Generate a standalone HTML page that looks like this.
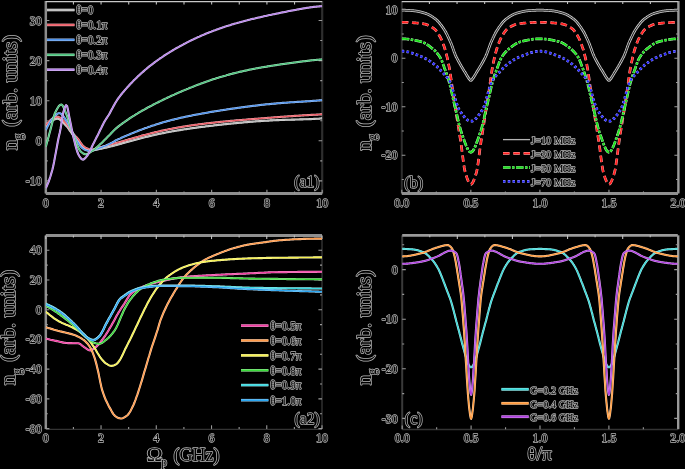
<!DOCTYPE html><html><head><meta charset="utf-8"><style>html,body{margin:0;padding:0;background:#000;overflow:hidden;}svg{display:block;will-change:transform;}text{font-family:"Liberation Serif", serif;fill:#000;stroke:#b8b8b8;stroke-width:1.45px;paint-order:stroke;stroke-linejoin:round;}</style></head><body>
<svg width="685" height="469" viewBox="0 0 685 469">
<rect width="685" height="469" fill="#000"/>
<clipPath id="ca1"><rect x="45.80" y="1.00" width="276.40" height="192.40"/></clipPath>
<clipPath id="cb"><rect x="401.80" y="1.00" width="276.20" height="192.40"/></clipPath>
<clipPath id="ca2"><rect x="45.80" y="235.50" width="276.20" height="193.40"/></clipPath>
<clipPath id="cc"><rect x="402.20" y="235.30" width="275.60" height="193.90"/></clipPath>
<path d="M45.80 1.00L45.80 193.40" stroke="#8c8c8c" stroke-width="2.50"/>
<path d="M322.20 1.00L322.20 193.40" stroke="#2e2e2e" stroke-width="2.20"/>
<path d="M45.80 1.60L322.20 1.60" stroke="#c8c8c8" stroke-width="1.20"/>
<path d="M45.80 193.50L322.20 193.50" stroke="#8f8f8f" stroke-width="2.80"/>
<path d="M45.80 193.40v-3.60" stroke="#9a9a9a" stroke-width="1.1"/>
<path d="M101.08 193.40v-3.60" stroke="#9a9a9a" stroke-width="1.1"/>
<path d="M156.36 193.40v-3.60" stroke="#9a9a9a" stroke-width="1.1"/>
<path d="M211.64 193.40v-3.60" stroke="#9a9a9a" stroke-width="1.1"/>
<path d="M266.92 193.40v-3.60" stroke="#9a9a9a" stroke-width="1.1"/>
<path d="M322.20 193.40v-3.60" stroke="#9a9a9a" stroke-width="1.1"/>
<path d="M73.44 193.40v-2.00" stroke="#9a9a9a" stroke-width="1.1"/>
<path d="M128.72 193.40v-2.00" stroke="#9a9a9a" stroke-width="1.1"/>
<path d="M184.00 193.40v-2.00" stroke="#9a9a9a" stroke-width="1.1"/>
<path d="M239.28 193.40v-2.00" stroke="#9a9a9a" stroke-width="1.1"/>
<path d="M294.56 193.40v-2.00" stroke="#9a9a9a" stroke-width="1.1"/>
<path d="M73.44 1.00v3.50" stroke="#c0c0c0" stroke-width="1.1"/>
<path d="M101.08 1.00v3.50" stroke="#c0c0c0" stroke-width="1.1"/>
<path d="M128.72 1.00v3.50" stroke="#c0c0c0" stroke-width="1.1"/>
<path d="M156.36 1.00v3.50" stroke="#c0c0c0" stroke-width="1.1"/>
<path d="M184.00 1.00v3.50" stroke="#c0c0c0" stroke-width="1.1"/>
<path d="M211.64 1.00v3.50" stroke="#c0c0c0" stroke-width="1.1"/>
<path d="M239.28 1.00v3.50" stroke="#c0c0c0" stroke-width="1.1"/>
<path d="M266.92 1.00v3.50" stroke="#c0c0c0" stroke-width="1.1"/>
<path d="M294.56 1.00v3.50" stroke="#c0c0c0" stroke-width="1.1"/>
<path d="M45.80 180.90h3.60M322.20 180.90h-3.60" stroke="#9a9a9a" stroke-width="1.1"/>
<path d="M45.80 140.80h3.60M322.20 140.80h-3.60" stroke="#9a9a9a" stroke-width="1.1"/>
<path d="M45.80 100.70h3.60M322.20 100.70h-3.60" stroke="#9a9a9a" stroke-width="1.1"/>
<path d="M45.80 60.60h3.60M322.20 60.60h-3.60" stroke="#9a9a9a" stroke-width="1.1"/>
<path d="M45.80 20.50h3.60M322.20 20.50h-3.60" stroke="#9a9a9a" stroke-width="1.1"/>
<path d="M45.80 160.85h2.00M322.20 160.85h-2.00" stroke="#9a9a9a" stroke-width="1.1"/>
<path d="M45.80 120.75h2.00M322.20 120.75h-2.00" stroke="#9a9a9a" stroke-width="1.1"/>
<path d="M45.80 80.65h2.00M322.20 80.65h-2.00" stroke="#9a9a9a" stroke-width="1.1"/>
<path d="M45.80 40.55h2.00M322.20 40.55h-2.00" stroke="#9a9a9a" stroke-width="1.1"/>
<path d="M45.8 126.4L46.7 125.3L47.6 124.2L48.6 123.3L49.5 122.5L50.4 121.7L51.3 121.1L52.3 120.6L53.2 120.1L54.1 119.6L55.0 119.2L56.0 118.9L56.9 118.8L57.8 118.8L58.7 119.0L59.7 119.4L60.6 120.1L61.5 120.8L62.4 121.7L63.4 122.7L64.3 123.7L65.2 124.7L66.1 125.7L67.1 126.7L68.0 127.9L68.9 129.2L69.8 130.6L70.8 131.9L71.7 133.3L72.6 134.5L73.5 135.7L74.5 136.7L75.4 137.7L76.3 138.7L77.2 139.7L78.2 140.8L79.1 141.9L80.0 143.1L80.9 144.4L81.9 145.6L82.8 146.4L83.7 147.2L84.6 147.9L85.5 148.4L86.5 148.8L87.4 149.3L88.3 149.7L89.2 150.0L90.2 150.3L91.1 150.4L92.0 150.4L92.9 150.3L93.9 150.2L94.8 150.0L95.7 149.8L96.6 149.6L97.6 149.4L98.5 149.2L99.4 149.0L100.3 148.8L101.3 148.6L102.2 148.4L103.1 148.2L104.0 148.0L105.0 147.8L105.9 147.6L106.8 147.4L107.7 147.2L108.7 147.0L109.6 146.8L110.5 146.5L111.4 146.3L112.4 146.1L113.3 145.8L114.2 145.6L115.1 145.3L116.1 145.1L117.0 144.8L117.9 144.6L118.8 144.3L119.8 144.1L120.7 143.8L121.6 143.6L122.5 143.3L123.5 143.0L124.4 142.8L125.3 142.5L126.2 142.3L127.1 142.0L128.1 141.8L129.0 141.5L129.9 141.2L130.8 141.0L131.8 140.7L132.7 140.5L133.6 140.2L134.5 140.0L135.5 139.7L136.4 139.5L137.3 139.2L138.2 139.0L139.2 138.7L140.1 138.5L141.0 138.2L141.9 138.0L142.9 137.7L143.8 137.5L144.7 137.3L145.6 137.0L146.6 136.8L147.5 136.6L148.4 136.4L149.3 136.1L150.3 135.9L151.2 135.7L152.1 135.5L153.0 135.3L154.0 135.1L154.9 134.8L155.8 134.6L156.7 134.4L157.7 134.2L158.6 134.0L159.5 133.8L160.4 133.6L161.4 133.5L162.3 133.3L163.2 133.1L164.1 132.9L165.0 132.7L166.0 132.5L166.9 132.3L167.8 132.2L168.7 132.0L169.7 131.8L170.6 131.7L171.5 131.5L172.4 131.3L173.4 131.2L174.3 131.0L175.2 130.8L176.1 130.7L177.1 130.5L178.0 130.4L178.9 130.2L179.8 130.1L180.8 129.9L181.7 129.8L182.6 129.6L183.5 129.5L184.5 129.3L185.4 129.2L186.3 129.1L187.2 128.9L188.2 128.8L189.1 128.7L190.0 128.5L190.9 128.4L191.9 128.3L192.8 128.1L193.7 128.0L194.6 127.9L195.6 127.7L196.5 127.6L197.4 127.5L198.3 127.4L199.3 127.3L200.2 127.1L201.1 127.0L202.0 126.9L203.0 126.8L203.9 126.7L204.8 126.6L205.7 126.4L206.6 126.3L207.6 126.2L208.5 126.1L209.4 126.0L210.3 125.9L211.3 125.8L212.2 125.7L213.1 125.6L214.0 125.4L215.0 125.3L215.9 125.2L216.8 125.1L217.7 125.0L218.7 124.9L219.6 124.8L220.5 124.7L221.4 124.6L222.4 124.5L223.3 124.4L224.2 124.3L225.1 124.2L226.1 124.1L227.0 124.0L227.9 123.9L228.8 123.8L229.8 123.7L230.7 123.6L231.6 123.5L232.5 123.5L233.5 123.4L234.4 123.3L235.3 123.2L236.2 123.1L237.2 123.0L238.1 122.9L239.0 122.8L239.9 122.7L240.9 122.6L241.8 122.6L242.7 122.5L243.6 122.4L244.5 122.3L245.5 122.2L246.4 122.2L247.3 122.1L248.2 122.0L249.2 121.9L250.1 121.8L251.0 121.8L251.9 121.7L252.9 121.6L253.8 121.5L254.7 121.5L255.6 121.4L256.6 121.3L257.5 121.3L258.4 121.2L259.3 121.1L260.3 121.1L261.2 121.0L262.1 120.9L263.0 120.9L264.0 120.8L264.9 120.8L265.8 120.7L266.7 120.7L267.7 120.6L268.6 120.6L269.5 120.5L270.4 120.4L271.4 120.4L272.3 120.4L273.2 120.3L274.1 120.3L275.1 120.2L276.0 120.2L276.9 120.1L277.8 120.1L278.8 120.1L279.7 120.0L280.6 120.0L281.5 120.0L282.5 119.9L283.4 119.9L284.3 119.9L285.2 119.8L286.1 119.8L287.1 119.8L288.0 119.7L288.9 119.7L289.8 119.7L290.8 119.7L291.7 119.6L292.6 119.6L293.5 119.6L294.5 119.6L295.4 119.5L296.3 119.5L297.2 119.5L298.2 119.5L299.1 119.5L300.0 119.4L300.9 119.4L301.9 119.4L302.8 119.4L303.7 119.3L304.6 119.3L305.6 119.3L306.5 119.2L307.4 119.2L308.3 119.2L309.3 119.1L310.2 119.1L311.1 119.1L312.0 119.0L313.0 119.0L313.9 118.9L314.8 118.9L315.7 118.8L316.7 118.8L317.6 118.7L318.5 118.7L319.4 118.6L320.4 118.5L321.3 118.4L322.2 118.3" fill="none" stroke="#e0e0e0" stroke-opacity="1" stroke-width="2.10" stroke-linejoin="round" clip-path="url(#ca1)"/>
<path d="M45.8 126.4L46.7 125.3L47.6 124.2L48.6 123.3L49.5 122.5L50.4 121.7L51.3 121.1L52.3 120.6L53.2 120.1L54.1 119.6L55.0 119.2L56.0 118.9L56.9 118.8L57.8 118.8L58.7 119.0L59.7 119.4L60.6 120.1L61.5 120.8L62.4 121.7L63.4 122.7L64.3 123.7L65.2 124.7L66.1 125.7L67.1 126.7L68.0 127.9L68.9 129.2L69.8 130.6L70.8 131.9L71.7 133.3L72.6 134.5L73.5 135.7L74.5 136.7L75.4 137.7L76.3 138.7L77.2 139.7L78.2 140.8L79.1 141.9L80.0 143.1L80.9 144.4L81.9 145.6L82.8 146.4L83.7 147.2L84.6 147.9L85.5 148.4L86.5 148.8L87.4 149.3L88.3 149.7L89.2 150.0L90.2 150.3L91.1 150.4L92.0 150.4L92.9 150.3L93.9 150.2L94.8 150.0L95.7 149.8L96.6 149.6L97.6 149.4L98.5 149.2L99.4 149.0L100.3 148.8L101.3 148.6L102.2 148.4L103.1 148.2L104.0 148.0L105.0 147.8L105.9 147.6L106.8 147.4L107.7 147.2L108.7 147.0L109.6 146.8L110.5 146.5L111.4 146.3L112.4 146.1L113.3 145.8L114.2 145.6L115.1 145.3L116.1 145.1L117.0 144.8L117.9 144.6L118.8 144.3L119.8 144.1L120.7 143.8L121.6 143.6L122.5 143.3L123.5 143.0L124.4 142.8L125.3 142.5L126.2 142.3L127.1 142.0L128.1 141.8L129.0 141.5L129.9 141.2L130.8 141.0L131.8 140.7L132.7 140.5L133.6 140.2L134.5 140.0L135.5 139.7L136.4 139.5L137.3 139.2L138.2 139.0L139.2 138.7L140.1 138.5L141.0 138.2L141.9 138.0L142.9 137.7L143.8 137.5L144.7 137.3L145.6 137.0L146.6 136.8L147.5 136.6L148.4 136.4L149.3 136.1L150.3 135.9L151.2 135.7L152.1 135.5L153.0 135.3L154.0 135.1L154.9 134.8L155.8 134.6L156.7 134.4L157.7 134.2L158.6 134.0L159.5 133.8L160.4 133.6L161.4 133.5L162.3 133.3L163.2 133.1L164.1 132.9L165.0 132.7L166.0 132.5L166.9 132.3L167.8 132.2L168.7 132.0L169.7 131.8L170.6 131.7L171.5 131.5L172.4 131.3L173.4 131.2L174.3 131.0L175.2 130.8L176.1 130.7L177.1 130.5L178.0 130.4L178.9 130.2L179.8 130.1L180.8 129.9L181.7 129.8L182.6 129.6L183.5 129.5L184.5 129.3L185.4 129.2L186.3 129.1L187.2 128.9L188.2 128.8L189.1 128.7L190.0 128.5L190.9 128.4L191.9 128.3L192.8 128.1L193.7 128.0L194.6 127.9L195.6 127.7L196.5 127.6L197.4 127.5L198.3 127.4L199.3 127.3L200.2 127.1L201.1 127.0L202.0 126.9L203.0 126.8L203.9 126.7L204.8 126.6L205.7 126.4L206.6 126.3L207.6 126.2L208.5 126.1L209.4 126.0L210.3 125.9L211.3 125.8L212.2 125.7L213.1 125.6L214.0 125.4L215.0 125.3L215.9 125.2L216.8 125.1L217.7 125.0L218.7 124.9L219.6 124.8L220.5 124.7L221.4 124.6L222.4 124.5L223.3 124.4L224.2 124.3L225.1 124.2L226.1 124.1L227.0 124.0L227.9 123.9L228.8 123.8L229.8 123.7L230.7 123.6L231.6 123.5L232.5 123.5L233.5 123.4L234.4 123.3L235.3 123.2L236.2 123.1L237.2 123.0L238.1 122.9L239.0 122.8L239.9 122.7L240.9 122.6L241.8 122.6L242.7 122.5L243.6 122.4L244.5 122.3L245.5 122.2L246.4 122.2L247.3 122.1L248.2 122.0L249.2 121.9L250.1 121.8L251.0 121.8L251.9 121.7L252.9 121.6L253.8 121.5L254.7 121.5L255.6 121.4L256.6 121.3L257.5 121.3L258.4 121.2L259.3 121.1L260.3 121.1L261.2 121.0L262.1 120.9L263.0 120.9L264.0 120.8L264.9 120.8L265.8 120.7L266.7 120.7L267.7 120.6L268.6 120.6L269.5 120.5L270.4 120.4L271.4 120.4L272.3 120.4L273.2 120.3L274.1 120.3L275.1 120.2L276.0 120.2L276.9 120.1L277.8 120.1L278.8 120.1L279.7 120.0L280.6 120.0L281.5 120.0L282.5 119.9L283.4 119.9L284.3 119.9L285.2 119.8L286.1 119.8L287.1 119.8L288.0 119.7L288.9 119.7L289.8 119.7L290.8 119.7L291.7 119.6L292.6 119.6L293.5 119.6L294.5 119.6L295.4 119.5L296.3 119.5L297.2 119.5L298.2 119.5L299.1 119.5L300.0 119.4L300.9 119.4L301.9 119.4L302.8 119.4L303.7 119.3L304.6 119.3L305.6 119.3L306.5 119.2L307.4 119.2L308.3 119.2L309.3 119.1L310.2 119.1L311.1 119.1L312.0 119.0L313.0 119.0L313.9 118.9L314.8 118.9L315.7 118.8L316.7 118.8L317.6 118.7L318.5 118.7L319.4 118.6L320.4 118.5L321.3 118.4L322.2 118.3" fill="none" stroke="#bcbcbc" stroke-width="1.20" stroke-linejoin="round" clip-path="url(#ca1)"/>
<path d="M45.8 125.4L46.7 124.2L47.6 123.0L48.6 122.0L49.5 121.0L50.4 120.2L51.3 119.5L52.3 118.9L53.2 118.4L54.1 117.8L55.0 117.4L56.0 117.0L56.9 116.9L57.8 116.8L58.7 117.1L59.7 117.5L60.6 118.1L61.5 118.9L62.4 119.7L63.4 120.7L64.3 121.7L65.2 122.7L66.1 123.7L67.1 124.7L68.0 125.9L68.9 127.3L69.8 128.8L70.8 130.2L71.7 131.6L72.6 132.9L73.5 134.1L74.5 135.1L75.4 136.1L76.3 137.1L77.2 138.0L78.2 139.1L79.1 140.3L80.0 141.7L80.9 143.2L81.9 144.6L82.8 145.5L83.7 146.3L84.6 147.0L85.5 147.6L86.5 148.1L87.4 148.5L88.3 148.9L89.2 149.2L90.2 149.5L91.1 149.6L92.0 149.6L92.9 149.5L93.9 149.2L94.8 149.0L95.7 148.7L96.6 148.3L97.6 148.0L98.5 147.8L99.4 147.5L100.3 147.3L101.3 147.0L102.2 146.8L103.1 146.5L104.0 146.3L105.0 146.0L105.9 145.8L106.8 145.5L107.7 145.3L108.7 145.0L109.6 144.8L110.5 144.5L111.4 144.3L112.4 144.0L113.3 143.8L114.2 143.5L115.1 143.3L116.1 143.0L117.0 142.8L117.9 142.5L118.8 142.3L119.8 142.0L120.7 141.8L121.6 141.5L122.5 141.2L123.5 141.0L124.4 140.7L125.3 140.4L126.2 140.1L127.1 139.9L128.1 139.6L129.0 139.3L129.9 139.0L130.8 138.8L131.8 138.5L132.7 138.2L133.6 138.0L134.5 137.7L135.5 137.4L136.4 137.2L137.3 136.9L138.2 136.7L139.2 136.4L140.1 136.2L141.0 135.9L141.9 135.6L142.9 135.4L143.8 135.1L144.7 134.9L145.6 134.7L146.6 134.4L147.5 134.2L148.4 133.9L149.3 133.7L150.3 133.5L151.2 133.2L152.1 133.0L153.0 132.8L154.0 132.6L154.9 132.3L155.8 132.1L156.7 131.9L157.7 131.7L158.6 131.5L159.5 131.3L160.4 131.1L161.4 130.8L162.3 130.6L163.2 130.4L164.1 130.2L165.0 130.0L166.0 129.9L166.9 129.7L167.8 129.5L168.7 129.3L169.7 129.1L170.6 128.9L171.5 128.7L172.4 128.6L173.4 128.4L174.3 128.2L175.2 128.0L176.1 127.9L177.1 127.7L178.0 127.5L178.9 127.4L179.8 127.2L180.8 127.1L181.7 126.9L182.6 126.8L183.5 126.6L184.5 126.5L185.4 126.3L186.3 126.2L187.2 126.0L188.2 125.9L189.1 125.7L190.0 125.6L190.9 125.5L191.9 125.3L192.8 125.2L193.7 125.1L194.6 124.9L195.6 124.8L196.5 124.7L197.4 124.6L198.3 124.4L199.3 124.3L200.2 124.2L201.1 124.1L202.0 124.0L203.0 123.9L203.9 123.7L204.8 123.6L205.7 123.5L206.6 123.4L207.6 123.3L208.5 123.2L209.4 123.1L210.3 123.0L211.3 122.9L212.2 122.8L213.1 122.7L214.0 122.6L215.0 122.5L215.9 122.4L216.8 122.3L217.7 122.2L218.7 122.1L219.6 122.0L220.5 121.9L221.4 121.8L222.4 121.7L223.3 121.6L224.2 121.5L225.1 121.5L226.1 121.4L227.0 121.3L227.9 121.2L228.8 121.1L229.8 121.0L230.7 120.9L231.6 120.9L232.5 120.8L233.5 120.7L234.4 120.6L235.3 120.5L236.2 120.4L237.2 120.4L238.1 120.3L239.0 120.2L239.9 120.1L240.9 120.0L241.8 120.0L242.7 119.9L243.6 119.8L244.5 119.7L245.5 119.7L246.4 119.6L247.3 119.5L248.2 119.4L249.2 119.4L250.1 119.3L251.0 119.2L251.9 119.1L252.9 119.0L253.8 119.0L254.7 118.9L255.6 118.8L256.6 118.8L257.5 118.7L258.4 118.6L259.3 118.5L260.3 118.5L261.2 118.4L262.1 118.3L263.0 118.2L264.0 118.2L264.9 118.1L265.8 118.0L266.7 118.0L267.7 117.9L268.6 117.8L269.5 117.7L270.4 117.7L271.4 117.6L272.3 117.5L273.2 117.5L274.1 117.4L275.1 117.3L276.0 117.3L276.9 117.2L277.8 117.1L278.8 117.0L279.7 117.0L280.6 116.9L281.5 116.8L282.5 116.8L283.4 116.7L284.3 116.6L285.2 116.6L286.1 116.5L287.1 116.5L288.0 116.4L288.9 116.3L289.8 116.3L290.8 116.2L291.7 116.1L292.6 116.1L293.5 116.0L294.5 115.9L295.4 115.9L296.3 115.8L297.2 115.8L298.2 115.7L299.1 115.6L300.0 115.6L300.9 115.5L301.9 115.5L302.8 115.4L303.7 115.4L304.6 115.3L305.6 115.2L306.5 115.2L307.4 115.1L308.3 115.1L309.3 115.0L310.2 115.0L311.1 114.9L312.0 114.9L313.0 114.8L313.9 114.8L314.8 114.7L315.7 114.7L316.7 114.6L317.6 114.6L318.5 114.5L319.4 114.5L320.4 114.4L321.3 114.4L322.2 114.3" fill="none" stroke="#f6b4b9" stroke-opacity="1" stroke-width="2.10" stroke-linejoin="round" clip-path="url(#ca1)"/>
<path d="M45.8 125.4L46.7 124.2L47.6 123.0L48.6 122.0L49.5 121.0L50.4 120.2L51.3 119.5L52.3 118.9L53.2 118.4L54.1 117.8L55.0 117.4L56.0 117.0L56.9 116.9L57.8 116.8L58.7 117.1L59.7 117.5L60.6 118.1L61.5 118.9L62.4 119.7L63.4 120.7L64.3 121.7L65.2 122.7L66.1 123.7L67.1 124.7L68.0 125.9L68.9 127.3L69.8 128.8L70.8 130.2L71.7 131.6L72.6 132.9L73.5 134.1L74.5 135.1L75.4 136.1L76.3 137.1L77.2 138.0L78.2 139.1L79.1 140.3L80.0 141.7L80.9 143.2L81.9 144.6L82.8 145.5L83.7 146.3L84.6 147.0L85.5 147.6L86.5 148.1L87.4 148.5L88.3 148.9L89.2 149.2L90.2 149.5L91.1 149.6L92.0 149.6L92.9 149.5L93.9 149.2L94.8 149.0L95.7 148.7L96.6 148.3L97.6 148.0L98.5 147.8L99.4 147.5L100.3 147.3L101.3 147.0L102.2 146.8L103.1 146.5L104.0 146.3L105.0 146.0L105.9 145.8L106.8 145.5L107.7 145.3L108.7 145.0L109.6 144.8L110.5 144.5L111.4 144.3L112.4 144.0L113.3 143.8L114.2 143.5L115.1 143.3L116.1 143.0L117.0 142.8L117.9 142.5L118.8 142.3L119.8 142.0L120.7 141.8L121.6 141.5L122.5 141.2L123.5 141.0L124.4 140.7L125.3 140.4L126.2 140.1L127.1 139.9L128.1 139.6L129.0 139.3L129.9 139.0L130.8 138.8L131.8 138.5L132.7 138.2L133.6 138.0L134.5 137.7L135.5 137.4L136.4 137.2L137.3 136.9L138.2 136.7L139.2 136.4L140.1 136.2L141.0 135.9L141.9 135.6L142.9 135.4L143.8 135.1L144.7 134.9L145.6 134.7L146.6 134.4L147.5 134.2L148.4 133.9L149.3 133.7L150.3 133.5L151.2 133.2L152.1 133.0L153.0 132.8L154.0 132.6L154.9 132.3L155.8 132.1L156.7 131.9L157.7 131.7L158.6 131.5L159.5 131.3L160.4 131.1L161.4 130.8L162.3 130.6L163.2 130.4L164.1 130.2L165.0 130.0L166.0 129.9L166.9 129.7L167.8 129.5L168.7 129.3L169.7 129.1L170.6 128.9L171.5 128.7L172.4 128.6L173.4 128.4L174.3 128.2L175.2 128.0L176.1 127.9L177.1 127.7L178.0 127.5L178.9 127.4L179.8 127.2L180.8 127.1L181.7 126.9L182.6 126.8L183.5 126.6L184.5 126.5L185.4 126.3L186.3 126.2L187.2 126.0L188.2 125.9L189.1 125.7L190.0 125.6L190.9 125.5L191.9 125.3L192.8 125.2L193.7 125.1L194.6 124.9L195.6 124.8L196.5 124.7L197.4 124.6L198.3 124.4L199.3 124.3L200.2 124.2L201.1 124.1L202.0 124.0L203.0 123.9L203.9 123.7L204.8 123.6L205.7 123.5L206.6 123.4L207.6 123.3L208.5 123.2L209.4 123.1L210.3 123.0L211.3 122.9L212.2 122.8L213.1 122.7L214.0 122.6L215.0 122.5L215.9 122.4L216.8 122.3L217.7 122.2L218.7 122.1L219.6 122.0L220.5 121.9L221.4 121.8L222.4 121.7L223.3 121.6L224.2 121.5L225.1 121.5L226.1 121.4L227.0 121.3L227.9 121.2L228.8 121.1L229.8 121.0L230.7 120.9L231.6 120.9L232.5 120.8L233.5 120.7L234.4 120.6L235.3 120.5L236.2 120.4L237.2 120.4L238.1 120.3L239.0 120.2L239.9 120.1L240.9 120.0L241.8 120.0L242.7 119.9L243.6 119.8L244.5 119.7L245.5 119.7L246.4 119.6L247.3 119.5L248.2 119.4L249.2 119.4L250.1 119.3L251.0 119.2L251.9 119.1L252.9 119.0L253.8 119.0L254.7 118.9L255.6 118.8L256.6 118.8L257.5 118.7L258.4 118.6L259.3 118.5L260.3 118.5L261.2 118.4L262.1 118.3L263.0 118.2L264.0 118.2L264.9 118.1L265.8 118.0L266.7 118.0L267.7 117.9L268.6 117.8L269.5 117.7L270.4 117.7L271.4 117.6L272.3 117.5L273.2 117.5L274.1 117.4L275.1 117.3L276.0 117.3L276.9 117.2L277.8 117.1L278.8 117.0L279.7 117.0L280.6 116.9L281.5 116.8L282.5 116.8L283.4 116.7L284.3 116.6L285.2 116.6L286.1 116.5L287.1 116.5L288.0 116.4L288.9 116.3L289.8 116.3L290.8 116.2L291.7 116.1L292.6 116.1L293.5 116.0L294.5 115.9L295.4 115.9L296.3 115.8L297.2 115.8L298.2 115.7L299.1 115.6L300.0 115.6L300.9 115.5L301.9 115.5L302.8 115.4L303.7 115.4L304.6 115.3L305.6 115.2L306.5 115.2L307.4 115.1L308.3 115.1L309.3 115.0L310.2 115.0L311.1 114.9L312.0 114.9L313.0 114.8L313.9 114.8L314.8 114.7L315.7 114.7L316.7 114.6L317.6 114.6L318.5 114.5L319.4 114.5L320.4 114.4L321.3 114.4L322.2 114.3" fill="none" stroke="#ec5a64" stroke-width="1.20" stroke-linejoin="round" clip-path="url(#ca1)"/>
<path d="M45.8 130.0L46.7 128.0L47.6 126.2L48.6 124.4L49.5 122.8L50.4 121.3L51.3 120.0L52.3 118.8L53.2 117.8L54.1 116.8L55.0 115.8L56.0 114.9L56.9 114.1L57.8 113.5L58.7 113.2L59.7 113.2L60.6 113.5L61.5 114.2L62.4 115.2L63.4 116.4L64.3 117.7L65.2 119.0L66.1 120.4L67.1 121.8L68.0 123.4L68.9 125.2L69.8 127.1L70.8 129.1L71.7 131.0L72.6 132.8L73.5 134.5L74.5 136.3L75.4 138.0L76.3 139.7L77.2 141.3L78.2 142.9L79.1 144.3L80.0 145.5L80.9 146.7L81.9 147.6L82.8 148.3L83.7 149.0L84.6 149.6L85.5 150.0L86.5 150.3L87.4 150.6L88.3 150.8L89.2 150.8L90.2 150.8L91.1 150.7L92.0 150.5L92.9 150.2L93.9 149.9L94.8 149.6L95.7 149.3L96.6 149.0L97.6 148.7L98.5 148.4L99.4 148.1L100.3 147.7L101.3 147.4L102.2 147.1L103.1 146.7L104.0 146.3L105.0 146.0L105.9 145.6L106.8 145.2L107.7 144.8L108.7 144.3L109.6 143.9L110.5 143.4L111.4 142.9L112.4 142.4L113.3 141.9L114.2 141.4L115.1 140.8L116.1 140.3L117.0 139.9L117.9 139.4L118.8 139.0L119.8 138.6L120.7 138.2L121.6 137.7L122.5 137.3L123.5 136.9L124.4 136.5L125.3 136.1L126.2 135.8L127.1 135.4L128.1 135.0L129.0 134.6L129.9 134.2L130.8 133.8L131.8 133.4L132.7 133.0L133.6 132.7L134.5 132.3L135.5 131.9L136.4 131.5L137.3 131.2L138.2 130.8L139.2 130.4L140.1 130.1L141.0 129.7L141.9 129.4L142.9 129.0L143.8 128.7L144.7 128.3L145.6 128.0L146.6 127.7L147.5 127.4L148.4 127.0L149.3 126.7L150.3 126.4L151.2 126.1L152.1 125.8L153.0 125.5L154.0 125.2L154.9 124.9L155.8 124.6L156.7 124.3L157.7 124.0L158.6 123.7L159.5 123.4L160.4 123.1L161.4 122.9L162.3 122.6L163.2 122.3L164.1 122.1L165.0 121.8L166.0 121.6L166.9 121.3L167.8 121.0L168.7 120.8L169.7 120.6L170.6 120.3L171.5 120.1L172.4 119.8L173.4 119.6L174.3 119.4L175.2 119.1L176.1 118.9L177.1 118.7L178.0 118.5L178.9 118.3L179.8 118.1L180.8 117.8L181.7 117.6L182.6 117.4L183.5 117.2L184.5 117.0L185.4 116.8L186.3 116.6L187.2 116.4L188.2 116.2L189.1 116.0L190.0 115.9L190.9 115.7L191.9 115.5L192.8 115.3L193.7 115.1L194.6 114.9L195.6 114.8L196.5 114.6L197.4 114.4L198.3 114.2L199.3 114.1L200.2 113.9L201.1 113.7L202.0 113.5L203.0 113.4L203.9 113.2L204.8 113.1L205.7 112.9L206.6 112.7L207.6 112.6L208.5 112.4L209.4 112.3L210.3 112.1L211.3 111.9L212.2 111.8L213.1 111.6L214.0 111.5L215.0 111.3L215.9 111.2L216.8 111.0L217.7 110.9L218.7 110.7L219.6 110.6L220.5 110.4L221.4 110.3L222.4 110.2L223.3 110.0L224.2 109.9L225.1 109.7L226.1 109.6L227.0 109.4L227.9 109.3L228.8 109.2L229.8 109.0L230.7 108.9L231.6 108.8L232.5 108.6L233.5 108.5L234.4 108.4L235.3 108.2L236.2 108.1L237.2 108.0L238.1 107.8L239.0 107.7L239.9 107.6L240.9 107.5L241.8 107.3L242.7 107.2L243.6 107.1L244.5 107.0L245.5 106.8L246.4 106.7L247.3 106.6L248.2 106.5L249.2 106.4L250.1 106.2L251.0 106.1L251.9 106.0L252.9 105.9L253.8 105.8L254.7 105.7L255.6 105.6L256.6 105.5L257.5 105.4L258.4 105.2L259.3 105.1L260.3 105.0L261.2 104.9L262.1 104.8L263.0 104.7L264.0 104.6L264.9 104.5L265.8 104.4L266.7 104.3L267.7 104.3L268.6 104.2L269.5 104.1L270.4 104.0L271.4 103.9L272.3 103.8L273.2 103.7L274.1 103.6L275.1 103.6L276.0 103.5L276.9 103.4L277.8 103.3L278.8 103.2L279.7 103.2L280.6 103.1L281.5 103.0L282.5 102.9L283.4 102.9L284.3 102.8L285.2 102.7L286.1 102.7L287.1 102.6L288.0 102.5L288.9 102.5L289.8 102.4L290.8 102.3L291.7 102.3L292.6 102.2L293.5 102.2L294.5 102.1L295.4 102.0L296.3 102.0L297.2 101.9L298.2 101.9L299.1 101.8L300.0 101.8L300.9 101.7L301.9 101.6L302.8 101.6L303.7 101.5L304.6 101.5L305.6 101.4L306.5 101.4L307.4 101.3L308.3 101.2L309.3 101.2L310.2 101.1L311.1 101.0L312.0 101.0L313.0 100.9L313.9 100.8L314.8 100.8L315.7 100.7L316.7 100.6L317.6 100.5L318.5 100.5L319.4 100.4L320.4 100.3L321.3 100.2L322.2 100.1" fill="none" stroke="#afcdf6" stroke-opacity="1" stroke-width="2.10" stroke-linejoin="round" clip-path="url(#ca1)"/>
<path d="M45.8 130.0L46.7 128.0L47.6 126.2L48.6 124.4L49.5 122.8L50.4 121.3L51.3 120.0L52.3 118.8L53.2 117.8L54.1 116.8L55.0 115.8L56.0 114.9L56.9 114.1L57.8 113.5L58.7 113.2L59.7 113.2L60.6 113.5L61.5 114.2L62.4 115.2L63.4 116.4L64.3 117.7L65.2 119.0L66.1 120.4L67.1 121.8L68.0 123.4L68.9 125.2L69.8 127.1L70.8 129.1L71.7 131.0L72.6 132.8L73.5 134.5L74.5 136.3L75.4 138.0L76.3 139.7L77.2 141.3L78.2 142.9L79.1 144.3L80.0 145.5L80.9 146.7L81.9 147.6L82.8 148.3L83.7 149.0L84.6 149.6L85.5 150.0L86.5 150.3L87.4 150.6L88.3 150.8L89.2 150.8L90.2 150.8L91.1 150.7L92.0 150.5L92.9 150.2L93.9 149.9L94.8 149.6L95.7 149.3L96.6 149.0L97.6 148.7L98.5 148.4L99.4 148.1L100.3 147.7L101.3 147.4L102.2 147.1L103.1 146.7L104.0 146.3L105.0 146.0L105.9 145.6L106.8 145.2L107.7 144.8L108.7 144.3L109.6 143.9L110.5 143.4L111.4 142.9L112.4 142.4L113.3 141.9L114.2 141.4L115.1 140.8L116.1 140.3L117.0 139.9L117.9 139.4L118.8 139.0L119.8 138.6L120.7 138.2L121.6 137.7L122.5 137.3L123.5 136.9L124.4 136.5L125.3 136.1L126.2 135.8L127.1 135.4L128.1 135.0L129.0 134.6L129.9 134.2L130.8 133.8L131.8 133.4L132.7 133.0L133.6 132.7L134.5 132.3L135.5 131.9L136.4 131.5L137.3 131.2L138.2 130.8L139.2 130.4L140.1 130.1L141.0 129.7L141.9 129.4L142.9 129.0L143.8 128.7L144.7 128.3L145.6 128.0L146.6 127.7L147.5 127.4L148.4 127.0L149.3 126.7L150.3 126.4L151.2 126.1L152.1 125.8L153.0 125.5L154.0 125.2L154.9 124.9L155.8 124.6L156.7 124.3L157.7 124.0L158.6 123.7L159.5 123.4L160.4 123.1L161.4 122.9L162.3 122.6L163.2 122.3L164.1 122.1L165.0 121.8L166.0 121.6L166.9 121.3L167.8 121.0L168.7 120.8L169.7 120.6L170.6 120.3L171.5 120.1L172.4 119.8L173.4 119.6L174.3 119.4L175.2 119.1L176.1 118.9L177.1 118.7L178.0 118.5L178.9 118.3L179.8 118.1L180.8 117.8L181.7 117.6L182.6 117.4L183.5 117.2L184.5 117.0L185.4 116.8L186.3 116.6L187.2 116.4L188.2 116.2L189.1 116.0L190.0 115.9L190.9 115.7L191.9 115.5L192.8 115.3L193.7 115.1L194.6 114.9L195.6 114.8L196.5 114.6L197.4 114.4L198.3 114.2L199.3 114.1L200.2 113.9L201.1 113.7L202.0 113.5L203.0 113.4L203.9 113.2L204.8 113.1L205.7 112.9L206.6 112.7L207.6 112.6L208.5 112.4L209.4 112.3L210.3 112.1L211.3 111.9L212.2 111.8L213.1 111.6L214.0 111.5L215.0 111.3L215.9 111.2L216.8 111.0L217.7 110.9L218.7 110.7L219.6 110.6L220.5 110.4L221.4 110.3L222.4 110.2L223.3 110.0L224.2 109.9L225.1 109.7L226.1 109.6L227.0 109.4L227.9 109.3L228.8 109.2L229.8 109.0L230.7 108.9L231.6 108.8L232.5 108.6L233.5 108.5L234.4 108.4L235.3 108.2L236.2 108.1L237.2 108.0L238.1 107.8L239.0 107.7L239.9 107.6L240.9 107.5L241.8 107.3L242.7 107.2L243.6 107.1L244.5 107.0L245.5 106.8L246.4 106.7L247.3 106.6L248.2 106.5L249.2 106.4L250.1 106.2L251.0 106.1L251.9 106.0L252.9 105.9L253.8 105.8L254.7 105.7L255.6 105.6L256.6 105.5L257.5 105.4L258.4 105.2L259.3 105.1L260.3 105.0L261.2 104.9L262.1 104.8L263.0 104.7L264.0 104.6L264.9 104.5L265.8 104.4L266.7 104.3L267.7 104.3L268.6 104.2L269.5 104.1L270.4 104.0L271.4 103.9L272.3 103.8L273.2 103.7L274.1 103.6L275.1 103.6L276.0 103.5L276.9 103.4L277.8 103.3L278.8 103.2L279.7 103.2L280.6 103.1L281.5 103.0L282.5 102.9L283.4 102.9L284.3 102.8L285.2 102.7L286.1 102.7L287.1 102.6L288.0 102.5L288.9 102.5L289.8 102.4L290.8 102.3L291.7 102.3L292.6 102.2L293.5 102.2L294.5 102.1L295.4 102.0L296.3 102.0L297.2 101.9L298.2 101.9L299.1 101.8L300.0 101.8L300.9 101.7L301.9 101.6L302.8 101.6L303.7 101.5L304.6 101.5L305.6 101.4L306.5 101.4L307.4 101.3L308.3 101.2L309.3 101.2L310.2 101.1L311.1 101.0L312.0 101.0L313.0 100.9L313.9 100.8L314.8 100.8L315.7 100.7L316.7 100.6L317.6 100.5L318.5 100.5L319.4 100.4L320.4 100.3L321.3 100.2L322.2 100.1" fill="none" stroke="#4e92ec" stroke-width="1.20" stroke-linejoin="round" clip-path="url(#ca1)"/>
<path d="M45.8 146.8L46.7 143.4L47.6 140.0L48.6 136.7L49.5 133.3L50.4 130.0L51.3 126.4L52.3 122.6L53.2 118.9L54.1 115.5L55.0 112.9L56.0 111.0L56.9 109.3L57.8 107.7L58.7 106.3L59.7 105.3L60.6 104.7L61.5 104.5L62.4 105.3L63.4 106.9L64.3 109.0L65.2 111.3L66.1 113.7L67.1 116.1L68.0 118.9L68.9 122.0L69.8 125.1L70.8 128.2L71.7 130.9L72.6 133.3L73.5 135.6L74.5 137.9L75.4 140.2L76.3 142.8L77.2 145.4L78.2 147.5L79.1 149.1L80.0 150.6L80.9 151.7L81.9 152.5L82.8 153.2L83.7 153.8L84.6 154.1L85.5 154.2L86.5 154.1L87.4 153.8L88.3 153.4L89.2 152.9L90.2 152.3L91.1 151.7L92.0 151.2L92.9 150.6L93.9 149.9L94.8 149.2L95.7 148.4L96.6 147.6L97.6 146.7L98.5 145.9L99.4 145.0L100.3 144.1L101.3 143.3L102.2 142.4L103.1 141.5L104.0 140.6L105.0 139.6L105.9 138.7L106.8 137.7L107.7 136.8L108.7 135.9L109.6 134.9L110.5 134.0L111.4 133.0L112.4 132.0L113.3 131.1L114.2 130.1L115.1 129.3L116.1 128.4L117.0 127.6L117.9 126.9L118.8 126.1L119.8 125.4L120.7 124.7L121.6 124.1L122.5 123.4L123.5 122.7L124.4 122.1L125.3 121.4L126.2 120.8L127.1 120.1L128.1 119.5L129.0 118.9L129.9 118.2L130.8 117.6L131.8 117.0L132.7 116.4L133.6 115.8L134.5 115.3L135.5 114.7L136.4 114.1L137.3 113.6L138.2 113.0L139.2 112.4L140.1 111.9L141.0 111.4L141.9 110.8L142.9 110.3L143.8 109.8L144.7 109.3L145.6 108.8L146.6 108.3L147.5 107.7L148.4 107.2L149.3 106.8L150.3 106.3L151.2 105.8L152.1 105.3L153.0 104.8L154.0 104.3L154.9 103.9L155.8 103.4L156.7 102.9L157.7 102.5L158.6 102.0L159.5 101.5L160.4 101.1L161.4 100.6L162.3 100.2L163.2 99.7L164.1 99.3L165.0 98.8L166.0 98.4L166.9 98.0L167.8 97.5L168.7 97.1L169.7 96.7L170.6 96.2L171.5 95.8L172.4 95.4L173.4 95.0L174.3 94.6L175.2 94.1L176.1 93.7L177.1 93.3L178.0 92.9L178.9 92.5L179.8 92.1L180.8 91.7L181.7 91.3L182.6 90.9L183.5 90.5L184.5 90.1L185.4 89.7L186.3 89.4L187.2 89.0L188.2 88.6L189.1 88.2L190.0 87.8L190.9 87.5L191.9 87.1L192.8 86.7L193.7 86.4L194.6 86.0L195.6 85.6L196.5 85.3L197.4 84.9L198.3 84.6L199.3 84.2L200.2 83.9L201.1 83.5L202.0 83.2L203.0 82.9L203.9 82.5L204.8 82.2L205.7 81.9L206.6 81.5L207.6 81.2L208.5 80.9L209.4 80.6L210.3 80.3L211.3 79.9L212.2 79.6L213.1 79.3L214.0 79.0L215.0 78.7L215.9 78.4L216.8 78.1L217.7 77.9L218.7 77.6L219.6 77.3L220.5 77.0L221.4 76.7L222.4 76.5L223.3 76.2L224.2 75.9L225.1 75.7L226.1 75.4L227.0 75.1L227.9 74.9L228.8 74.6L229.8 74.4L230.7 74.1L231.6 73.9L232.5 73.6L233.5 73.4L234.4 73.2L235.3 72.9L236.2 72.7L237.2 72.5L238.1 72.3L239.0 72.0L239.9 71.8L240.9 71.6L241.8 71.4L242.7 71.2L243.6 71.0L244.5 70.8L245.5 70.6L246.4 70.4L247.3 70.2L248.2 70.0L249.2 69.8L250.1 69.6L251.0 69.4L251.9 69.2L252.9 69.0L253.8 68.9L254.7 68.7L255.6 68.5L256.6 68.3L257.5 68.2L258.4 68.0L259.3 67.8L260.3 67.7L261.2 67.5L262.1 67.3L263.0 67.2L264.0 67.0L264.9 66.9L265.8 66.7L266.7 66.6L267.7 66.4L268.6 66.3L269.5 66.1L270.4 66.0L271.4 65.8L272.3 65.7L273.2 65.5L274.1 65.4L275.1 65.2L276.0 65.1L276.9 65.0L277.8 64.8L278.8 64.7L279.7 64.5L280.6 64.4L281.5 64.3L282.5 64.1L283.4 64.0L284.3 63.9L285.2 63.7L286.1 63.6L287.1 63.5L288.0 63.4L288.9 63.2L289.8 63.1L290.8 63.0L291.7 62.9L292.6 62.7L293.5 62.6L294.5 62.5L295.4 62.4L296.3 62.2L297.2 62.1L298.2 62.0L299.1 61.9L300.0 61.8L300.9 61.6L301.9 61.5L302.8 61.4L303.7 61.3L304.6 61.2L305.6 61.1L306.5 61.0L307.4 60.9L308.3 60.8L309.3 60.6L310.2 60.5L311.1 60.4L312.0 60.3L313.0 60.2L313.9 60.1L314.8 60.0L315.7 60.0L316.7 59.9L317.6 59.8L318.5 59.7L319.4 59.6L320.4 59.5L321.3 59.5L322.2 59.4" fill="none" stroke="#aee4c4" stroke-opacity="1" stroke-width="2.10" stroke-linejoin="round" clip-path="url(#ca1)"/>
<path d="M45.8 146.8L46.7 143.4L47.6 140.0L48.6 136.7L49.5 133.3L50.4 130.0L51.3 126.4L52.3 122.6L53.2 118.9L54.1 115.5L55.0 112.9L56.0 111.0L56.9 109.3L57.8 107.7L58.7 106.3L59.7 105.3L60.6 104.7L61.5 104.5L62.4 105.3L63.4 106.9L64.3 109.0L65.2 111.3L66.1 113.7L67.1 116.1L68.0 118.9L68.9 122.0L69.8 125.1L70.8 128.2L71.7 130.9L72.6 133.3L73.5 135.6L74.5 137.9L75.4 140.2L76.3 142.8L77.2 145.4L78.2 147.5L79.1 149.1L80.0 150.6L80.9 151.7L81.9 152.5L82.8 153.2L83.7 153.8L84.6 154.1L85.5 154.2L86.5 154.1L87.4 153.8L88.3 153.4L89.2 152.9L90.2 152.3L91.1 151.7L92.0 151.2L92.9 150.6L93.9 149.9L94.8 149.2L95.7 148.4L96.6 147.6L97.6 146.7L98.5 145.9L99.4 145.0L100.3 144.1L101.3 143.3L102.2 142.4L103.1 141.5L104.0 140.6L105.0 139.6L105.9 138.7L106.8 137.7L107.7 136.8L108.7 135.9L109.6 134.9L110.5 134.0L111.4 133.0L112.4 132.0L113.3 131.1L114.2 130.1L115.1 129.3L116.1 128.4L117.0 127.6L117.9 126.9L118.8 126.1L119.8 125.4L120.7 124.7L121.6 124.1L122.5 123.4L123.5 122.7L124.4 122.1L125.3 121.4L126.2 120.8L127.1 120.1L128.1 119.5L129.0 118.9L129.9 118.2L130.8 117.6L131.8 117.0L132.7 116.4L133.6 115.8L134.5 115.3L135.5 114.7L136.4 114.1L137.3 113.6L138.2 113.0L139.2 112.4L140.1 111.9L141.0 111.4L141.9 110.8L142.9 110.3L143.8 109.8L144.7 109.3L145.6 108.8L146.6 108.3L147.5 107.7L148.4 107.2L149.3 106.8L150.3 106.3L151.2 105.8L152.1 105.3L153.0 104.8L154.0 104.3L154.9 103.9L155.8 103.4L156.7 102.9L157.7 102.5L158.6 102.0L159.5 101.5L160.4 101.1L161.4 100.6L162.3 100.2L163.2 99.7L164.1 99.3L165.0 98.8L166.0 98.4L166.9 98.0L167.8 97.5L168.7 97.1L169.7 96.7L170.6 96.2L171.5 95.8L172.4 95.4L173.4 95.0L174.3 94.6L175.2 94.1L176.1 93.7L177.1 93.3L178.0 92.9L178.9 92.5L179.8 92.1L180.8 91.7L181.7 91.3L182.6 90.9L183.5 90.5L184.5 90.1L185.4 89.7L186.3 89.4L187.2 89.0L188.2 88.6L189.1 88.2L190.0 87.8L190.9 87.5L191.9 87.1L192.8 86.7L193.7 86.4L194.6 86.0L195.6 85.6L196.5 85.3L197.4 84.9L198.3 84.6L199.3 84.2L200.2 83.9L201.1 83.5L202.0 83.2L203.0 82.9L203.9 82.5L204.8 82.2L205.7 81.9L206.6 81.5L207.6 81.2L208.5 80.9L209.4 80.6L210.3 80.3L211.3 79.9L212.2 79.6L213.1 79.3L214.0 79.0L215.0 78.7L215.9 78.4L216.8 78.1L217.7 77.9L218.7 77.6L219.6 77.3L220.5 77.0L221.4 76.7L222.4 76.5L223.3 76.2L224.2 75.9L225.1 75.7L226.1 75.4L227.0 75.1L227.9 74.9L228.8 74.6L229.8 74.4L230.7 74.1L231.6 73.9L232.5 73.6L233.5 73.4L234.4 73.2L235.3 72.9L236.2 72.7L237.2 72.5L238.1 72.3L239.0 72.0L239.9 71.8L240.9 71.6L241.8 71.4L242.7 71.2L243.6 71.0L244.5 70.8L245.5 70.6L246.4 70.4L247.3 70.2L248.2 70.0L249.2 69.8L250.1 69.6L251.0 69.4L251.9 69.2L252.9 69.0L253.8 68.9L254.7 68.7L255.6 68.5L256.6 68.3L257.5 68.2L258.4 68.0L259.3 67.8L260.3 67.7L261.2 67.5L262.1 67.3L263.0 67.2L264.0 67.0L264.9 66.9L265.8 66.7L266.7 66.6L267.7 66.4L268.6 66.3L269.5 66.1L270.4 66.0L271.4 65.8L272.3 65.7L273.2 65.5L274.1 65.4L275.1 65.2L276.0 65.1L276.9 65.0L277.8 64.8L278.8 64.7L279.7 64.5L280.6 64.4L281.5 64.3L282.5 64.1L283.4 64.0L284.3 63.9L285.2 63.7L286.1 63.6L287.1 63.5L288.0 63.4L288.9 63.2L289.8 63.1L290.8 63.0L291.7 62.9L292.6 62.7L293.5 62.6L294.5 62.5L295.4 62.4L296.3 62.2L297.2 62.1L298.2 62.0L299.1 61.9L300.0 61.8L300.9 61.6L301.9 61.5L302.8 61.4L303.7 61.3L304.6 61.2L305.6 61.1L306.5 61.0L307.4 60.9L308.3 60.8L309.3 60.6L310.2 60.5L311.1 60.4L312.0 60.3L313.0 60.2L313.9 60.1L314.8 60.0L315.7 60.0L316.7 59.9L317.6 59.8L318.5 59.7L319.4 59.6L320.4 59.5L321.3 59.5L322.2 59.4" fill="none" stroke="#4cc47e" stroke-width="1.20" stroke-linejoin="round" clip-path="url(#ca1)"/>
<path d="M45.8 188.1L46.7 186.3L47.6 184.2L48.6 181.8L49.5 179.2L50.4 176.5L51.3 173.4L52.3 170.0L53.2 166.2L54.1 161.9L55.0 156.9L56.0 151.6L56.9 146.7L57.8 141.8L58.7 137.3L59.7 133.0L60.6 128.5L61.5 123.0L62.4 116.8L63.4 112.0L64.3 109.0L65.2 106.5L66.1 105.2L67.1 106.1L68.0 109.9L68.9 114.9L69.8 119.4L70.8 124.1L71.7 128.9L72.6 133.5L73.5 137.6L74.5 141.6L75.4 145.3L76.3 148.5L77.2 151.5L78.2 154.0L79.1 155.8L80.0 157.2L80.9 158.4L81.9 159.3L82.8 159.6L83.7 159.4L84.6 158.7L85.5 157.8L86.5 156.6L87.4 155.5L88.3 154.1L89.2 152.4L90.2 150.5L91.1 148.6L92.0 146.5L92.9 144.6L93.9 142.8L94.8 140.9L95.7 139.1L96.6 137.3L97.6 135.4L98.5 133.6L99.4 131.7L100.3 129.8L101.3 127.9L102.2 126.0L103.1 124.2L104.0 122.4L105.0 120.8L105.9 119.3L106.8 117.9L107.7 116.5L108.7 115.0L109.6 113.4L110.5 111.7L111.4 110.0L112.4 108.3L113.3 106.6L114.2 104.9L115.1 103.3L116.1 101.7L117.0 100.3L117.9 98.9L118.8 97.6L119.8 96.4L120.7 95.2L121.6 94.0L122.5 92.9L123.5 91.8L124.4 90.7L125.3 89.6L126.2 88.6L127.1 87.6L128.1 86.6L129.0 85.5L129.9 84.5L130.8 83.5L131.8 82.6L132.7 81.6L133.6 80.6L134.5 79.7L135.5 78.8L136.4 77.9L137.3 77.0L138.2 76.1L139.2 75.2L140.1 74.4L141.0 73.5L141.9 72.7L142.9 71.9L143.8 71.1L144.7 70.3L145.6 69.5L146.6 68.7L147.5 67.9L148.4 67.2L149.3 66.4L150.3 65.7L151.2 65.0L152.1 64.3L153.0 63.6L154.0 62.9L154.9 62.2L155.8 61.5L156.7 60.8L157.7 60.2L158.6 59.5L159.5 58.9L160.4 58.2L161.4 57.6L162.3 57.0L163.2 56.4L164.1 55.7L165.0 55.1L166.0 54.5L166.9 53.9L167.8 53.4L168.7 52.8L169.7 52.2L170.6 51.6L171.5 51.1L172.4 50.5L173.4 50.0L174.3 49.4L175.2 48.9L176.1 48.3L177.1 47.8L178.0 47.3L178.9 46.8L179.8 46.3L180.8 45.8L181.7 45.3L182.6 44.8L183.5 44.3L184.5 43.8L185.4 43.3L186.3 42.8L187.2 42.3L188.2 41.9L189.1 41.4L190.0 40.9L190.9 40.5L191.9 40.0L192.8 39.6L193.7 39.2L194.6 38.7L195.6 38.3L196.5 37.9L197.4 37.4L198.3 37.0L199.3 36.6L200.2 36.2L201.1 35.8L202.0 35.4L203.0 35.0L203.9 34.6L204.8 34.2L205.7 33.8L206.6 33.4L207.6 33.1L208.5 32.7L209.4 32.3L210.3 32.0L211.3 31.6L212.2 31.2L213.1 30.9L214.0 30.5L215.0 30.2L215.9 29.9L216.8 29.5L217.7 29.2L218.7 28.9L219.6 28.5L220.5 28.2L221.4 27.9L222.4 27.6L223.3 27.3L224.2 27.0L225.1 26.6L226.1 26.3L227.0 26.0L227.9 25.8L228.8 25.5L229.8 25.2L230.7 24.9L231.6 24.6L232.5 24.3L233.5 24.1L234.4 23.8L235.3 23.5L236.2 23.3L237.2 23.0L238.1 22.7L239.0 22.5L239.9 22.2L240.9 22.0L241.8 21.7L242.7 21.5L243.6 21.2L244.5 21.0L245.5 20.7L246.4 20.5L247.3 20.3L248.2 20.0L249.2 19.8L250.1 19.6L251.0 19.3L251.9 19.1L252.9 18.9L253.8 18.7L254.7 18.5L255.6 18.2L256.6 18.0L257.5 17.8L258.4 17.6L259.3 17.4L260.3 17.2L261.2 17.0L262.1 16.8L263.0 16.6L264.0 16.3L264.9 16.1L265.8 15.9L266.7 15.7L267.7 15.5L268.6 15.3L269.5 15.1L270.4 14.9L271.4 14.7L272.3 14.5L273.2 14.3L274.1 14.2L275.1 14.0L276.0 13.8L276.9 13.6L277.8 13.4L278.8 13.2L279.7 13.0L280.6 12.8L281.5 12.6L282.5 12.4L283.4 12.2L284.3 12.1L285.2 11.9L286.1 11.7L287.1 11.5L288.0 11.3L288.9 11.1L289.8 10.9L290.8 10.8L291.7 10.6L292.6 10.4L293.5 10.2L294.5 10.1L295.4 9.9L296.3 9.7L297.2 9.5L298.2 9.4L299.1 9.2L300.0 9.0L300.9 8.9L301.9 8.7L302.8 8.5L303.7 8.4L304.6 8.2L305.6 8.1L306.5 7.9L307.4 7.8L308.3 7.7L309.3 7.5L310.2 7.4L311.1 7.3L312.0 7.2L313.0 7.0L313.9 6.9L314.8 6.8L315.7 6.7L316.7 6.6L317.6 6.5L318.5 6.5L319.4 6.4L320.4 6.3L321.3 6.3L322.2 6.2" fill="none" stroke="#dec7f5" stroke-opacity="1" stroke-width="2.10" stroke-linejoin="round" clip-path="url(#ca1)"/>
<path d="M45.8 188.1L46.7 186.3L47.6 184.2L48.6 181.8L49.5 179.2L50.4 176.5L51.3 173.4L52.3 170.0L53.2 166.2L54.1 161.9L55.0 156.9L56.0 151.6L56.9 146.7L57.8 141.8L58.7 137.3L59.7 133.0L60.6 128.5L61.5 123.0L62.4 116.8L63.4 112.0L64.3 109.0L65.2 106.5L66.1 105.2L67.1 106.1L68.0 109.9L68.9 114.9L69.8 119.4L70.8 124.1L71.7 128.9L72.6 133.5L73.5 137.6L74.5 141.6L75.4 145.3L76.3 148.5L77.2 151.5L78.2 154.0L79.1 155.8L80.0 157.2L80.9 158.4L81.9 159.3L82.8 159.6L83.7 159.4L84.6 158.7L85.5 157.8L86.5 156.6L87.4 155.5L88.3 154.1L89.2 152.4L90.2 150.5L91.1 148.6L92.0 146.5L92.9 144.6L93.9 142.8L94.8 140.9L95.7 139.1L96.6 137.3L97.6 135.4L98.5 133.6L99.4 131.7L100.3 129.8L101.3 127.9L102.2 126.0L103.1 124.2L104.0 122.4L105.0 120.8L105.9 119.3L106.8 117.9L107.7 116.5L108.7 115.0L109.6 113.4L110.5 111.7L111.4 110.0L112.4 108.3L113.3 106.6L114.2 104.9L115.1 103.3L116.1 101.7L117.0 100.3L117.9 98.9L118.8 97.6L119.8 96.4L120.7 95.2L121.6 94.0L122.5 92.9L123.5 91.8L124.4 90.7L125.3 89.6L126.2 88.6L127.1 87.6L128.1 86.6L129.0 85.5L129.9 84.5L130.8 83.5L131.8 82.6L132.7 81.6L133.6 80.6L134.5 79.7L135.5 78.8L136.4 77.9L137.3 77.0L138.2 76.1L139.2 75.2L140.1 74.4L141.0 73.5L141.9 72.7L142.9 71.9L143.8 71.1L144.7 70.3L145.6 69.5L146.6 68.7L147.5 67.9L148.4 67.2L149.3 66.4L150.3 65.7L151.2 65.0L152.1 64.3L153.0 63.6L154.0 62.9L154.9 62.2L155.8 61.5L156.7 60.8L157.7 60.2L158.6 59.5L159.5 58.9L160.4 58.2L161.4 57.6L162.3 57.0L163.2 56.4L164.1 55.7L165.0 55.1L166.0 54.5L166.9 53.9L167.8 53.4L168.7 52.8L169.7 52.2L170.6 51.6L171.5 51.1L172.4 50.5L173.4 50.0L174.3 49.4L175.2 48.9L176.1 48.3L177.1 47.8L178.0 47.3L178.9 46.8L179.8 46.3L180.8 45.8L181.7 45.3L182.6 44.8L183.5 44.3L184.5 43.8L185.4 43.3L186.3 42.8L187.2 42.3L188.2 41.9L189.1 41.4L190.0 40.9L190.9 40.5L191.9 40.0L192.8 39.6L193.7 39.2L194.6 38.7L195.6 38.3L196.5 37.9L197.4 37.4L198.3 37.0L199.3 36.6L200.2 36.2L201.1 35.8L202.0 35.4L203.0 35.0L203.9 34.6L204.8 34.2L205.7 33.8L206.6 33.4L207.6 33.1L208.5 32.7L209.4 32.3L210.3 32.0L211.3 31.6L212.2 31.2L213.1 30.9L214.0 30.5L215.0 30.2L215.9 29.9L216.8 29.5L217.7 29.2L218.7 28.9L219.6 28.5L220.5 28.2L221.4 27.9L222.4 27.6L223.3 27.3L224.2 27.0L225.1 26.6L226.1 26.3L227.0 26.0L227.9 25.8L228.8 25.5L229.8 25.2L230.7 24.9L231.6 24.6L232.5 24.3L233.5 24.1L234.4 23.8L235.3 23.5L236.2 23.3L237.2 23.0L238.1 22.7L239.0 22.5L239.9 22.2L240.9 22.0L241.8 21.7L242.7 21.5L243.6 21.2L244.5 21.0L245.5 20.7L246.4 20.5L247.3 20.3L248.2 20.0L249.2 19.8L250.1 19.6L251.0 19.3L251.9 19.1L252.9 18.9L253.8 18.7L254.7 18.5L255.6 18.2L256.6 18.0L257.5 17.8L258.4 17.6L259.3 17.4L260.3 17.2L261.2 17.0L262.1 16.8L263.0 16.6L264.0 16.3L264.9 16.1L265.8 15.9L266.7 15.7L267.7 15.5L268.6 15.3L269.5 15.1L270.4 14.9L271.4 14.7L272.3 14.5L273.2 14.3L274.1 14.2L275.1 14.0L276.0 13.8L276.9 13.6L277.8 13.4L278.8 13.2L279.7 13.0L280.6 12.8L281.5 12.6L282.5 12.4L283.4 12.2L284.3 12.1L285.2 11.9L286.1 11.7L287.1 11.5L288.0 11.3L288.9 11.1L289.8 10.9L290.8 10.8L291.7 10.6L292.6 10.4L293.5 10.2L294.5 10.1L295.4 9.9L296.3 9.7L297.2 9.5L298.2 9.4L299.1 9.2L300.0 9.0L300.9 8.9L301.9 8.7L302.8 8.5L303.7 8.4L304.6 8.2L305.6 8.1L306.5 7.9L307.4 7.8L308.3 7.7L309.3 7.5L310.2 7.4L311.1 7.3L312.0 7.2L313.0 7.0L313.9 6.9L314.8 6.8L315.7 6.7L316.7 6.6L317.6 6.5L318.5 6.5L319.4 6.4L320.4 6.3L321.3 6.3L322.2 6.2" fill="none" stroke="#b784ea" stroke-width="1.20" stroke-linejoin="round" clip-path="url(#ca1)"/>
<path d="M47 10.00H74.5" fill="none" stroke="#e0e0e0" stroke-opacity="1" stroke-width="2.60" stroke-linejoin="round"/>
<path d="M47 10.00H74.5" fill="none" stroke="#bcbcbc" stroke-width="1.60" stroke-linejoin="round"/>
<text font-size="12.5" text-anchor="start" transform="translate(76.20 14.30) scale(0.89 1)">&#952;=0</text>
<path d="M47 24.90H74.5" fill="none" stroke="#f6b4b9" stroke-opacity="1" stroke-width="2.60" stroke-linejoin="round"/>
<path d="M47 24.90H74.5" fill="none" stroke="#ec5a64" stroke-width="1.60" stroke-linejoin="round"/>
<text font-size="12.5" text-anchor="start" transform="translate(76.20 29.20) scale(0.89 1)">&#952;=0.1&#960;</text>
<path d="M47 39.80H74.5" fill="none" stroke="#afcdf6" stroke-opacity="1" stroke-width="2.60" stroke-linejoin="round"/>
<path d="M47 39.80H74.5" fill="none" stroke="#4e92ec" stroke-width="1.60" stroke-linejoin="round"/>
<text font-size="12.5" text-anchor="start" transform="translate(76.20 44.10) scale(0.89 1)">&#952;=0.2&#960;</text>
<path d="M47 54.80H74.5" fill="none" stroke="#aee4c4" stroke-opacity="1" stroke-width="2.60" stroke-linejoin="round"/>
<path d="M47 54.80H74.5" fill="none" stroke="#4cc47e" stroke-width="1.60" stroke-linejoin="round"/>
<text font-size="12.5" text-anchor="start" transform="translate(76.20 59.10) scale(0.89 1)">&#952;=0.3&#960;</text>
<path d="M47 69.70H74.5" fill="none" stroke="#dec7f5" stroke-opacity="1" stroke-width="2.60" stroke-linejoin="round"/>
<path d="M47 69.70H74.5" fill="none" stroke="#b784ea" stroke-width="1.60" stroke-linejoin="round"/>
<text font-size="12.5" text-anchor="start" transform="translate(76.20 74.00) scale(0.89 1)">&#952;=0.4&#960;</text>
<text font-size="13" text-anchor="middle" transform="translate(45.80 207.30) scale(0.92 1)">0</text>
<text font-size="13" text-anchor="middle" transform="translate(101.08 207.30) scale(0.92 1)">2</text>
<text font-size="13" text-anchor="middle" transform="translate(156.36 207.30) scale(0.92 1)">4</text>
<text font-size="13" text-anchor="middle" transform="translate(211.64 207.30) scale(0.92 1)">6</text>
<text font-size="13" text-anchor="middle" transform="translate(266.92 207.30) scale(0.92 1)">8</text>
<text font-size="13" text-anchor="middle" transform="translate(322.20 207.30) scale(0.92 1)">10</text>
<text font-size="13" text-anchor="end" transform="translate(41.80 185.00) scale(0.92 1)">-10</text>
<text font-size="13" text-anchor="end" transform="translate(41.80 144.90) scale(0.92 1)">0</text>
<text font-size="13" text-anchor="end" transform="translate(41.80 104.80) scale(0.92 1)">10</text>
<text font-size="13" text-anchor="end" transform="translate(41.80 64.70) scale(0.92 1)">20</text>
<text font-size="13" text-anchor="end" transform="translate(41.80 24.60) scale(0.92 1)">30</text>
<text font-size="16.5" text-anchor="end" transform="translate(319.50 186.80) scale(0.95 1)">(a1)</text>
<g transform="translate(16.60 150.30) rotate(-90)">
<text font-size="21" x="0" y="0">n</text>
<text font-size="13" x="10.3" y="5.3">g</text>
<text font-size="21" x="23.5" y="0" transform="scale(1 1)">(arb. units)</text>
</g>
<path d="M401.80 1.00L401.80 193.40" stroke="#2e2e2e" stroke-width="2.00"/>
<path d="M678.40 1.00L678.40 193.40" stroke="#9a9a9a" stroke-width="2.40"/>
<path d="M401.80 1.60L678.00 1.60" stroke="#c8c8c8" stroke-width="1.20"/>
<path d="M401.80 193.50L678.00 193.50" stroke="#8f8f8f" stroke-width="2.80"/>
<path d="M401.80 193.40v-3.60" stroke="#9a9a9a" stroke-width="1.1"/>
<path d="M470.85 193.40v-3.60" stroke="#9a9a9a" stroke-width="1.1"/>
<path d="M539.90 193.40v-3.60" stroke="#9a9a9a" stroke-width="1.1"/>
<path d="M608.95 193.40v-3.60" stroke="#9a9a9a" stroke-width="1.1"/>
<path d="M678.00 193.40v-3.60" stroke="#9a9a9a" stroke-width="1.1"/>
<path d="M436.32 193.40v-2.00" stroke="#9a9a9a" stroke-width="1.1"/>
<path d="M505.38 193.40v-2.00" stroke="#9a9a9a" stroke-width="1.1"/>
<path d="M574.42 193.40v-2.00" stroke="#9a9a9a" stroke-width="1.1"/>
<path d="M643.48 193.40v-2.00" stroke="#9a9a9a" stroke-width="1.1"/>
<path d="M429.42 1.00v3.00" stroke="#c0c0c0" stroke-width="1.1"/>
<path d="M457.04 1.00v3.00" stroke="#c0c0c0" stroke-width="1.1"/>
<path d="M484.66 1.00v3.00" stroke="#c0c0c0" stroke-width="1.1"/>
<path d="M512.28 1.00v3.00" stroke="#c0c0c0" stroke-width="1.1"/>
<path d="M539.90 1.00v3.00" stroke="#c0c0c0" stroke-width="1.1"/>
<path d="M567.52 1.00v3.00" stroke="#c0c0c0" stroke-width="1.1"/>
<path d="M595.14 1.00v3.00" stroke="#c0c0c0" stroke-width="1.1"/>
<path d="M622.76 1.00v3.00" stroke="#c0c0c0" stroke-width="1.1"/>
<path d="M650.38 1.00v3.00" stroke="#c0c0c0" stroke-width="1.1"/>
<path d="M401.80 155.20h3.60M678.00 155.20h-3.60" stroke="#9a9a9a" stroke-width="1.1"/>
<path d="M401.80 106.70h3.60M678.00 106.70h-3.60" stroke="#9a9a9a" stroke-width="1.1"/>
<path d="M401.80 58.20h3.60M678.00 58.20h-3.60" stroke="#9a9a9a" stroke-width="1.1"/>
<path d="M401.80 9.70h3.60M678.00 9.70h-3.60" stroke="#9a9a9a" stroke-width="1.1"/>
<path d="M401.80 179.45h2.00M678.00 179.45h-2.00" stroke="#9a9a9a" stroke-width="1.1"/>
<path d="M401.80 130.95h2.00M678.00 130.95h-2.00" stroke="#9a9a9a" stroke-width="1.1"/>
<path d="M401.80 82.45h2.00M678.00 82.45h-2.00" stroke="#9a9a9a" stroke-width="1.1"/>
<path d="M401.80 33.95h2.00M678.00 33.95h-2.00" stroke="#9a9a9a" stroke-width="1.1"/>
<path d="M401.8 10.2L402.4 10.2L402.9 10.2L403.5 10.2L404.0 10.2L404.6 10.2L405.1 10.2L405.7 10.3L406.2 10.3L406.8 10.3L407.3 10.3L407.9 10.4L408.4 10.4L409.0 10.4L409.5 10.4L410.1 10.5L410.7 10.5L411.2 10.6L411.8 10.6L412.3 10.6L412.9 10.7L413.4 10.7L414.0 10.8L414.5 10.8L415.1 10.9L415.6 11.0L416.2 11.1L416.7 11.2L417.3 11.2L417.9 11.4L418.4 11.5L419.0 11.6L419.5 11.7L420.1 11.8L420.6 12.0L421.2 12.1L421.7 12.3L422.3 12.4L422.8 12.6L423.4 12.7L423.9 12.9L424.5 13.0L425.0 13.2L425.6 13.4L426.2 13.6L426.7 13.8L427.3 14.0L427.8 14.3L428.4 14.5L428.9 14.8L429.5 15.1L430.0 15.4L430.6 15.7L431.1 16.0L431.7 16.4L432.2 16.7L432.8 17.1L433.3 17.5L433.9 17.9L434.5 18.3L435.0 18.7L435.6 19.1L436.1 19.5L436.7 20.0L437.2 20.6L437.8 21.1L438.3 21.7L438.9 22.3L439.4 23.0L440.0 23.7L440.5 24.4L441.1 25.1L441.7 25.9L442.2 26.6L442.8 27.4L443.3 28.3L443.9 29.1L444.4 29.9L445.0 30.8L445.5 31.8L446.1 32.8L446.6 33.8L447.2 34.9L447.7 36.1L448.3 37.2L448.8 38.4L449.4 39.6L450.0 40.9L450.5 42.1L451.1 43.4L451.6 44.8L452.2 46.3L452.7 47.8L453.3 49.4L453.8 50.9L454.4 52.4L454.9 53.9L455.5 55.3L456.0 56.5L456.6 57.6L457.2 58.7L457.7 59.8L458.3 60.8L458.8 61.8L459.4 62.8L459.9 63.7L460.5 64.7L461.0 65.7L461.6 66.6L462.1 67.5L462.7 68.4L463.2 69.4L463.8 70.3L464.3 71.2L464.9 72.1L465.5 73.0L466.0 73.9L466.6 74.8L467.1 75.8L467.7 76.7L468.2 77.6L468.8 78.4L469.3 79.1L469.9 79.7L470.4 80.3L471.0 80.5L471.5 80.1L472.1 79.4L472.6 78.7L473.2 78.0L473.8 77.1L474.3 76.2L474.9 75.3L475.4 74.4L476.0 73.4L476.5 72.5L477.1 71.6L477.6 70.7L478.2 69.8L478.7 68.9L479.3 68.0L479.8 67.1L480.4 66.1L481.0 65.2L481.5 64.2L482.1 63.3L482.6 62.3L483.2 61.3L483.7 60.3L484.3 59.3L484.8 58.2L485.4 57.1L485.9 55.9L486.5 54.6L487.0 53.2L487.6 51.7L488.1 50.2L488.7 48.6L489.3 47.1L489.8 45.6L490.4 44.1L490.9 42.7L491.5 41.5L492.0 40.2L492.6 39.0L493.1 37.8L493.7 36.6L494.2 35.5L494.8 34.4L495.3 33.3L495.9 32.3L496.4 31.3L497.0 30.4L497.6 29.5L498.1 28.7L498.7 27.8L499.2 27.0L499.8 26.2L500.3 25.5L500.9 24.7L501.4 24.0L502.0 23.3L502.5 22.7L503.1 22.0L503.6 21.4L504.2 20.8L504.8 20.3L505.3 19.8L505.9 19.3L506.4 18.9L507.0 18.5L507.5 18.1L508.1 17.7L508.6 17.3L509.2 16.9L509.7 16.5L510.3 16.2L510.8 15.9L511.4 15.5L511.9 15.2L512.5 14.9L513.1 14.7L513.6 14.4L514.2 14.1L514.7 13.9L515.3 13.7L515.8 13.5L516.4 13.3L516.9 13.1L517.5 13.0L518.0 12.8L518.6 12.6L519.1 12.5L519.7 12.3L520.3 12.2L520.8 12.0L521.4 11.9L521.9 11.8L522.5 11.6L523.0 11.5L523.6 11.4L524.1 11.3L524.7 11.2L525.2 11.1L525.8 11.0L526.3 10.9L526.9 10.9L527.4 10.8L528.0 10.7L528.6 10.7L529.1 10.7L529.7 10.6L530.2 10.6L530.8 10.5L531.3 10.5L531.9 10.5L532.4 10.4L533.0 10.4L533.5 10.4L534.1 10.3L534.6 10.3L535.2 10.3L535.7 10.3L536.3 10.2L536.9 10.2L537.4 10.2L538.0 10.2L538.5 10.2L539.1 10.2L539.6 10.2L540.2 10.2L540.7 10.2L541.3 10.2L541.8 10.2L542.4 10.2L542.9 10.2L543.5 10.2L544.1 10.3L544.6 10.3L545.2 10.3L545.7 10.3L546.3 10.4L546.8 10.4L547.4 10.4L547.9 10.5L548.5 10.5L549.0 10.5L549.6 10.6L550.1 10.6L550.7 10.7L551.2 10.7L551.8 10.7L552.4 10.8L552.9 10.9L553.5 10.9L554.0 11.0L554.6 11.1L555.1 11.2L555.7 11.3L556.2 11.4L556.8 11.5L557.3 11.6L557.9 11.8L558.4 11.9L559.0 12.0L559.5 12.2L560.1 12.3L560.7 12.5L561.2 12.6L561.8 12.8L562.3 13.0L562.9 13.1L563.4 13.3L564.0 13.5L564.5 13.7L565.1 13.9L565.6 14.1L566.2 14.4L566.7 14.7L567.3 14.9L567.9 15.2L568.4 15.5L569.0 15.9L569.5 16.2L570.1 16.5L570.6 16.9L571.2 17.3L571.7 17.7L572.3 18.1L572.8 18.5L573.4 18.9L573.9 19.3L574.5 19.8L575.0 20.3L575.6 20.8L576.2 21.4L576.7 22.0L577.3 22.7L577.8 23.3L578.4 24.0L578.9 24.7L579.5 25.5L580.0 26.2L580.6 27.0L581.1 27.8L581.7 28.7L582.2 29.5L582.8 30.4L583.4 31.3L583.9 32.3L584.5 33.3L585.0 34.4L585.6 35.5L586.1 36.6L586.7 37.8L587.2 39.0L587.8 40.2L588.3 41.5L588.9 42.7L589.4 44.1L590.0 45.6L590.5 47.1L591.1 48.6L591.7 50.2L592.2 51.7L592.8 53.2L593.3 54.6L593.9 55.9L594.4 57.1L595.0 58.2L595.5 59.3L596.1 60.3L596.6 61.3L597.2 62.3L597.7 63.3L598.3 64.2L598.8 65.2L599.4 66.1L600.0 67.1L600.5 68.0L601.1 68.9L601.6 69.8L602.2 70.7L602.7 71.6L603.3 72.5L603.8 73.4L604.4 74.4L604.9 75.3L605.5 76.2L606.0 77.1L606.6 78.0L607.2 78.7L607.7 79.4L608.3 80.1L608.8 80.5L609.4 80.3L609.9 79.7L610.5 79.1L611.0 78.4L611.6 77.6L612.1 76.7L612.7 75.8L613.2 74.8L613.8 73.9L614.3 73.0L614.9 72.1L615.5 71.2L616.0 70.3L616.6 69.4L617.1 68.4L617.7 67.5L618.2 66.6L618.8 65.7L619.3 64.7L619.9 63.7L620.4 62.8L621.0 61.8L621.5 60.8L622.1 59.8L622.6 58.7L623.2 57.6L623.8 56.5L624.3 55.3L624.9 53.9L625.4 52.4L626.0 50.9L626.5 49.4L627.1 47.8L627.6 46.3L628.2 44.8L628.7 43.4L629.3 42.1L629.8 40.9L630.4 39.6L631.0 38.4L631.5 37.2L632.1 36.1L632.6 34.9L633.2 33.8L633.7 32.8L634.3 31.8L634.8 30.8L635.4 29.9L635.9 29.1L636.5 28.3L637.0 27.4L637.6 26.6L638.1 25.9L638.7 25.1L639.3 24.4L639.8 23.7L640.4 23.0L640.9 22.3L641.5 21.7L642.0 21.1L642.6 20.6L643.1 20.0L643.7 19.5L644.2 19.1L644.8 18.7L645.3 18.3L645.9 17.9L646.5 17.5L647.0 17.1L647.6 16.7L648.1 16.4L648.7 16.0L649.2 15.7L649.8 15.4L650.3 15.1L650.9 14.8L651.4 14.5L652.0 14.3L652.5 14.0L653.1 13.8L653.6 13.6L654.2 13.4L654.8 13.2L655.3 13.0L655.9 12.9L656.4 12.7L657.0 12.6L657.5 12.4L658.1 12.3L658.6 12.1L659.2 12.0L659.7 11.8L660.3 11.7L660.8 11.6L661.4 11.5L661.9 11.4L662.5 11.2L663.1 11.2L663.6 11.1L664.2 11.0L664.7 10.9L665.3 10.8L665.8 10.8L666.4 10.7L666.9 10.7L667.5 10.6L668.0 10.6L668.6 10.6L669.1 10.5L669.7 10.5L670.3 10.4L670.8 10.4L671.4 10.4L671.9 10.4L672.5 10.3L673.0 10.3L673.6 10.3L674.1 10.3L674.7 10.2L675.2 10.2L675.8 10.2L676.3 10.2L676.9 10.2L677.4 10.2L678.0 10.2" fill="none" stroke="#c8c8c8" stroke-opacity="1" stroke-width="2.70" stroke-linejoin="round" clip-path="url(#cb)"/>
<path d="M401.8 10.2L402.4 10.2L402.9 10.2L403.5 10.2L404.0 10.2L404.6 10.2L405.1 10.2L405.7 10.3L406.2 10.3L406.8 10.3L407.3 10.3L407.9 10.4L408.4 10.4L409.0 10.4L409.5 10.4L410.1 10.5L410.7 10.5L411.2 10.6L411.8 10.6L412.3 10.6L412.9 10.7L413.4 10.7L414.0 10.8L414.5 10.8L415.1 10.9L415.6 11.0L416.2 11.1L416.7 11.2L417.3 11.2L417.9 11.4L418.4 11.5L419.0 11.6L419.5 11.7L420.1 11.8L420.6 12.0L421.2 12.1L421.7 12.3L422.3 12.4L422.8 12.6L423.4 12.7L423.9 12.9L424.5 13.0L425.0 13.2L425.6 13.4L426.2 13.6L426.7 13.8L427.3 14.0L427.8 14.3L428.4 14.5L428.9 14.8L429.5 15.1L430.0 15.4L430.6 15.7L431.1 16.0L431.7 16.4L432.2 16.7L432.8 17.1L433.3 17.5L433.9 17.9L434.5 18.3L435.0 18.7L435.6 19.1L436.1 19.5L436.7 20.0L437.2 20.6L437.8 21.1L438.3 21.7L438.9 22.3L439.4 23.0L440.0 23.7L440.5 24.4L441.1 25.1L441.7 25.9L442.2 26.6L442.8 27.4L443.3 28.3L443.9 29.1L444.4 29.9L445.0 30.8L445.5 31.8L446.1 32.8L446.6 33.8L447.2 34.9L447.7 36.1L448.3 37.2L448.8 38.4L449.4 39.6L450.0 40.9L450.5 42.1L451.1 43.4L451.6 44.8L452.2 46.3L452.7 47.8L453.3 49.4L453.8 50.9L454.4 52.4L454.9 53.9L455.5 55.3L456.0 56.5L456.6 57.6L457.2 58.7L457.7 59.8L458.3 60.8L458.8 61.8L459.4 62.8L459.9 63.7L460.5 64.7L461.0 65.7L461.6 66.6L462.1 67.5L462.7 68.4L463.2 69.4L463.8 70.3L464.3 71.2L464.9 72.1L465.5 73.0L466.0 73.9L466.6 74.8L467.1 75.8L467.7 76.7L468.2 77.6L468.8 78.4L469.3 79.1L469.9 79.7L470.4 80.3L471.0 80.5L471.5 80.1L472.1 79.4L472.6 78.7L473.2 78.0L473.8 77.1L474.3 76.2L474.9 75.3L475.4 74.4L476.0 73.4L476.5 72.5L477.1 71.6L477.6 70.7L478.2 69.8L478.7 68.9L479.3 68.0L479.8 67.1L480.4 66.1L481.0 65.2L481.5 64.2L482.1 63.3L482.6 62.3L483.2 61.3L483.7 60.3L484.3 59.3L484.8 58.2L485.4 57.1L485.9 55.9L486.5 54.6L487.0 53.2L487.6 51.7L488.1 50.2L488.7 48.6L489.3 47.1L489.8 45.6L490.4 44.1L490.9 42.7L491.5 41.5L492.0 40.2L492.6 39.0L493.1 37.8L493.7 36.6L494.2 35.5L494.8 34.4L495.3 33.3L495.9 32.3L496.4 31.3L497.0 30.4L497.6 29.5L498.1 28.7L498.7 27.8L499.2 27.0L499.8 26.2L500.3 25.5L500.9 24.7L501.4 24.0L502.0 23.3L502.5 22.7L503.1 22.0L503.6 21.4L504.2 20.8L504.8 20.3L505.3 19.8L505.9 19.3L506.4 18.9L507.0 18.5L507.5 18.1L508.1 17.7L508.6 17.3L509.2 16.9L509.7 16.5L510.3 16.2L510.8 15.9L511.4 15.5L511.9 15.2L512.5 14.9L513.1 14.7L513.6 14.4L514.2 14.1L514.7 13.9L515.3 13.7L515.8 13.5L516.4 13.3L516.9 13.1L517.5 13.0L518.0 12.8L518.6 12.6L519.1 12.5L519.7 12.3L520.3 12.2L520.8 12.0L521.4 11.9L521.9 11.8L522.5 11.6L523.0 11.5L523.6 11.4L524.1 11.3L524.7 11.2L525.2 11.1L525.8 11.0L526.3 10.9L526.9 10.9L527.4 10.8L528.0 10.7L528.6 10.7L529.1 10.7L529.7 10.6L530.2 10.6L530.8 10.5L531.3 10.5L531.9 10.5L532.4 10.4L533.0 10.4L533.5 10.4L534.1 10.3L534.6 10.3L535.2 10.3L535.7 10.3L536.3 10.2L536.9 10.2L537.4 10.2L538.0 10.2L538.5 10.2L539.1 10.2L539.6 10.2L540.2 10.2L540.7 10.2L541.3 10.2L541.8 10.2L542.4 10.2L542.9 10.2L543.5 10.2L544.1 10.3L544.6 10.3L545.2 10.3L545.7 10.3L546.3 10.4L546.8 10.4L547.4 10.4L547.9 10.5L548.5 10.5L549.0 10.5L549.6 10.6L550.1 10.6L550.7 10.7L551.2 10.7L551.8 10.7L552.4 10.8L552.9 10.9L553.5 10.9L554.0 11.0L554.6 11.1L555.1 11.2L555.7 11.3L556.2 11.4L556.8 11.5L557.3 11.6L557.9 11.8L558.4 11.9L559.0 12.0L559.5 12.2L560.1 12.3L560.7 12.5L561.2 12.6L561.8 12.8L562.3 13.0L562.9 13.1L563.4 13.3L564.0 13.5L564.5 13.7L565.1 13.9L565.6 14.1L566.2 14.4L566.7 14.7L567.3 14.9L567.9 15.2L568.4 15.5L569.0 15.9L569.5 16.2L570.1 16.5L570.6 16.9L571.2 17.3L571.7 17.7L572.3 18.1L572.8 18.5L573.4 18.9L573.9 19.3L574.5 19.8L575.0 20.3L575.6 20.8L576.2 21.4L576.7 22.0L577.3 22.7L577.8 23.3L578.4 24.0L578.9 24.7L579.5 25.5L580.0 26.2L580.6 27.0L581.1 27.8L581.7 28.7L582.2 29.5L582.8 30.4L583.4 31.3L583.9 32.3L584.5 33.3L585.0 34.4L585.6 35.5L586.1 36.6L586.7 37.8L587.2 39.0L587.8 40.2L588.3 41.5L588.9 42.7L589.4 44.1L590.0 45.6L590.5 47.1L591.1 48.6L591.7 50.2L592.2 51.7L592.8 53.2L593.3 54.6L593.9 55.9L594.4 57.1L595.0 58.2L595.5 59.3L596.1 60.3L596.6 61.3L597.2 62.3L597.7 63.3L598.3 64.2L598.8 65.2L599.4 66.1L600.0 67.1L600.5 68.0L601.1 68.9L601.6 69.8L602.2 70.7L602.7 71.6L603.3 72.5L603.8 73.4L604.4 74.4L604.9 75.3L605.5 76.2L606.0 77.1L606.6 78.0L607.2 78.7L607.7 79.4L608.3 80.1L608.8 80.5L609.4 80.3L609.9 79.7L610.5 79.1L611.0 78.4L611.6 77.6L612.1 76.7L612.7 75.8L613.2 74.8L613.8 73.9L614.3 73.0L614.9 72.1L615.5 71.2L616.0 70.3L616.6 69.4L617.1 68.4L617.7 67.5L618.2 66.6L618.8 65.7L619.3 64.7L619.9 63.7L620.4 62.8L621.0 61.8L621.5 60.8L622.1 59.8L622.6 58.7L623.2 57.6L623.8 56.5L624.3 55.3L624.9 53.9L625.4 52.4L626.0 50.9L626.5 49.4L627.1 47.8L627.6 46.3L628.2 44.8L628.7 43.4L629.3 42.1L629.8 40.9L630.4 39.6L631.0 38.4L631.5 37.2L632.1 36.1L632.6 34.9L633.2 33.8L633.7 32.8L634.3 31.8L634.8 30.8L635.4 29.9L635.9 29.1L636.5 28.3L637.0 27.4L637.6 26.6L638.1 25.9L638.7 25.1L639.3 24.4L639.8 23.7L640.4 23.0L640.9 22.3L641.5 21.7L642.0 21.1L642.6 20.6L643.1 20.0L643.7 19.5L644.2 19.1L644.8 18.7L645.3 18.3L645.9 17.9L646.5 17.5L647.0 17.1L647.6 16.7L648.1 16.4L648.7 16.0L649.2 15.7L649.8 15.4L650.3 15.1L650.9 14.8L651.4 14.5L652.0 14.3L652.5 14.0L653.1 13.8L653.6 13.6L654.2 13.4L654.8 13.2L655.3 13.0L655.9 12.9L656.4 12.7L657.0 12.6L657.5 12.4L658.1 12.3L658.6 12.1L659.2 12.0L659.7 11.8L660.3 11.7L660.8 11.6L661.4 11.5L661.9 11.4L662.5 11.2L663.1 11.2L663.6 11.1L664.2 11.0L664.7 10.9L665.3 10.8L665.8 10.8L666.4 10.7L666.9 10.7L667.5 10.6L668.0 10.6L668.6 10.6L669.1 10.5L669.7 10.5L670.3 10.4L670.8 10.4L671.4 10.4L671.9 10.4L672.5 10.3L673.0 10.3L673.6 10.3L674.1 10.3L674.7 10.2L675.2 10.2L675.8 10.2L676.3 10.2L676.9 10.2L677.4 10.2L678.0 10.2" fill="none" stroke="#000" stroke-width="1.00" stroke-linejoin="round" clip-path="url(#cb)"/>
<path d="M401.8 22.3L402.4 22.3L402.9 22.3L403.5 22.3L404.0 22.3L404.6 22.3L405.1 22.3L405.7 22.4L406.2 22.4L406.8 22.4L407.3 22.4L407.9 22.4L408.4 22.5L409.0 22.5L409.5 22.5L410.1 22.5L410.7 22.6L411.2 22.6L411.8 22.6L412.3 22.7L412.9 22.7L413.4 22.8L414.0 22.8L414.5 22.8L415.1 22.9L415.6 22.9L416.2 23.0L416.7 23.0L417.3 23.1L417.9 23.2L418.4 23.2L419.0 23.3L419.5 23.3L420.1 23.4L420.6 23.4L421.2 23.5L421.7 23.6L422.3 23.6L422.8 23.7L423.4 23.8L423.9 23.9L424.5 24.0L425.0 24.1L425.6 24.3L426.2 24.4L426.7 24.6L427.3 24.8L427.8 25.1L428.4 25.3L428.9 25.6L429.5 25.8L430.0 26.1L430.6 26.4L431.1 26.8L431.7 27.1L432.2 27.4L432.8 27.8L433.3 28.2L433.9 28.6L434.5 29.0L435.0 29.5L435.6 30.1L436.1 30.7L436.7 31.4L437.2 32.2L437.8 33.0L438.3 33.9L438.9 34.8L439.4 35.8L440.0 36.7L440.5 37.7L441.1 38.8L441.7 40.0L442.2 41.3L442.8 42.7L443.3 44.2L443.9 45.8L444.4 47.4L445.0 49.2L445.5 51.0L446.1 53.1L446.6 55.2L447.2 57.5L447.7 60.0L448.3 62.5L448.8 65.3L449.4 68.2L450.0 71.6L450.5 75.3L451.1 79.2L451.6 83.2L452.2 87.2L452.7 91.1L453.3 94.8L453.8 98.4L454.4 101.9L454.9 105.5L455.5 108.9L456.0 112.4L456.6 115.8L457.2 119.2L457.7 122.7L458.3 126.1L458.8 129.6L459.4 133.1L459.9 136.6L460.5 140.1L461.0 143.8L461.6 147.8L462.1 152.1L462.7 156.4L463.2 160.6L463.8 164.5L464.3 168.0L464.9 170.9L465.5 173.1L466.0 174.9L466.6 176.6L467.1 178.2L467.7 179.7L468.2 181.0L468.8 182.2L469.3 183.1L469.9 183.8L470.4 184.2L471.0 184.3L471.5 184.0L472.1 183.5L472.6 182.7L473.2 181.6L473.8 180.4L474.3 178.9L474.9 177.4L475.4 175.7L476.0 174.0L476.5 172.1L477.1 169.5L477.6 166.3L478.2 162.6L478.7 158.5L479.3 154.2L479.8 149.9L480.4 145.8L481.0 141.9L481.5 138.3L482.1 134.8L482.6 131.3L483.2 127.8L483.7 124.4L484.3 121.0L484.8 117.5L485.4 114.1L485.9 110.7L486.5 107.2L487.0 103.7L487.6 100.2L488.1 96.6L488.7 93.0L489.3 89.1L489.8 85.2L490.4 81.2L490.9 77.2L491.5 73.4L492.0 69.9L492.6 66.7L493.1 63.9L493.7 61.2L494.2 58.7L494.8 56.3L495.3 54.1L495.9 52.0L496.4 50.1L497.0 48.3L497.6 46.6L498.1 45.0L498.7 43.5L499.2 42.0L499.8 40.7L500.3 39.4L500.9 38.3L501.4 37.2L502.0 36.2L502.5 35.3L503.1 34.4L503.6 33.5L504.2 32.6L504.8 31.8L505.3 31.1L505.9 30.4L506.4 29.8L507.0 29.2L507.5 28.8L508.1 28.4L508.6 28.0L509.2 27.6L509.7 27.3L510.3 26.9L510.8 26.6L511.4 26.3L511.9 26.0L512.5 25.7L513.1 25.4L513.6 25.2L514.2 24.9L514.7 24.7L515.3 24.5L515.8 24.4L516.4 24.2L516.9 24.1L517.5 23.9L518.0 23.8L518.6 23.8L519.1 23.7L519.7 23.6L520.3 23.5L520.8 23.5L521.4 23.4L521.9 23.4L522.5 23.3L523.0 23.2L523.6 23.2L524.1 23.1L524.7 23.1L525.2 23.0L525.8 23.0L526.3 22.9L526.9 22.9L527.4 22.8L528.0 22.8L528.6 22.7L529.1 22.7L529.7 22.7L530.2 22.6L530.8 22.6L531.3 22.6L531.9 22.5L532.4 22.5L533.0 22.5L533.5 22.4L534.1 22.4L534.6 22.4L535.2 22.4L535.7 22.4L536.3 22.4L536.9 22.3L537.4 22.3L538.0 22.3L538.5 22.3L539.1 22.3L539.6 22.3L540.2 22.3L540.7 22.3L541.3 22.3L541.8 22.3L542.4 22.3L542.9 22.3L543.5 22.4L544.1 22.4L544.6 22.4L545.2 22.4L545.7 22.4L546.3 22.4L546.8 22.5L547.4 22.5L547.9 22.5L548.5 22.6L549.0 22.6L549.6 22.6L550.1 22.7L550.7 22.7L551.2 22.7L551.8 22.8L552.4 22.8L552.9 22.9L553.5 22.9L554.0 23.0L554.6 23.0L555.1 23.1L555.7 23.1L556.2 23.2L556.8 23.2L557.3 23.3L557.9 23.4L558.4 23.4L559.0 23.5L559.5 23.5L560.1 23.6L560.7 23.7L561.2 23.8L561.8 23.8L562.3 23.9L562.9 24.1L563.4 24.2L564.0 24.4L564.5 24.5L565.1 24.7L565.6 24.9L566.2 25.2L566.7 25.4L567.3 25.7L567.9 26.0L568.4 26.3L569.0 26.6L569.5 26.9L570.1 27.3L570.6 27.6L571.2 28.0L571.7 28.4L572.3 28.8L572.8 29.2L573.4 29.8L573.9 30.4L574.5 31.1L575.0 31.8L575.6 32.6L576.2 33.5L576.7 34.4L577.3 35.3L577.8 36.2L578.4 37.2L578.9 38.3L579.5 39.4L580.0 40.7L580.6 42.0L581.1 43.5L581.7 45.0L582.2 46.6L582.8 48.3L583.4 50.1L583.9 52.0L584.5 54.1L585.0 56.3L585.6 58.7L586.1 61.2L586.7 63.9L587.2 66.7L587.8 69.9L588.3 73.4L588.9 77.2L589.4 81.2L590.0 85.2L590.5 89.1L591.1 93.0L591.7 96.6L592.2 100.2L592.8 103.7L593.3 107.2L593.9 110.7L594.4 114.1L595.0 117.5L595.5 121.0L596.1 124.4L596.6 127.8L597.2 131.3L597.7 134.8L598.3 138.3L598.8 141.9L599.4 145.8L600.0 149.9L600.5 154.2L601.1 158.5L601.6 162.6L602.2 166.3L602.7 169.5L603.3 172.1L603.8 174.0L604.4 175.7L604.9 177.4L605.5 178.9L606.0 180.4L606.6 181.6L607.2 182.7L607.7 183.5L608.3 184.0L608.8 184.3L609.4 184.2L609.9 183.8L610.5 183.1L611.0 182.2L611.6 181.0L612.1 179.7L612.7 178.2L613.2 176.6L613.8 174.9L614.3 173.1L614.9 170.9L615.5 168.0L616.0 164.5L616.6 160.6L617.1 156.4L617.7 152.1L618.2 147.8L618.8 143.8L619.3 140.1L619.9 136.6L620.4 133.1L621.0 129.6L621.5 126.1L622.1 122.7L622.6 119.2L623.2 115.8L623.8 112.4L624.3 108.9L624.9 105.5L625.4 101.9L626.0 98.4L626.5 94.8L627.1 91.1L627.6 87.2L628.2 83.2L628.7 79.2L629.3 75.3L629.8 71.6L630.4 68.2L631.0 65.3L631.5 62.5L632.1 60.0L632.6 57.5L633.2 55.2L633.7 53.1L634.3 51.0L634.8 49.2L635.4 47.4L635.9 45.8L636.5 44.2L637.0 42.7L637.6 41.3L638.1 40.0L638.7 38.8L639.3 37.7L639.8 36.7L640.4 35.8L640.9 34.8L641.5 33.9L642.0 33.0L642.6 32.2L643.1 31.4L643.7 30.7L644.2 30.1L644.8 29.5L645.3 29.0L645.9 28.6L646.5 28.2L647.0 27.8L647.6 27.4L648.1 27.1L648.7 26.8L649.2 26.4L649.8 26.1L650.3 25.8L650.9 25.6L651.4 25.3L652.0 25.1L652.5 24.8L653.1 24.6L653.6 24.4L654.2 24.3L654.8 24.1L655.3 24.0L655.9 23.9L656.4 23.8L657.0 23.7L657.5 23.6L658.1 23.6L658.6 23.5L659.2 23.4L659.7 23.4L660.3 23.3L660.8 23.3L661.4 23.2L661.9 23.2L662.5 23.1L663.1 23.0L663.6 23.0L664.2 22.9L664.7 22.9L665.3 22.8L665.8 22.8L666.4 22.8L666.9 22.7L667.5 22.7L668.0 22.6L668.6 22.6L669.1 22.6L669.7 22.5L670.3 22.5L670.8 22.5L671.4 22.5L671.9 22.4L672.5 22.4L673.0 22.4L673.6 22.4L674.1 22.4L674.7 22.3L675.2 22.3L675.8 22.3L676.3 22.3L676.9 22.3L677.4 22.3L678.0 22.3" fill="none" stroke="#ffbcbc" stroke-opacity="1" stroke-width="2.70" stroke-linejoin="round" stroke-dasharray="6.5 3.8" clip-path="url(#cb)"/>
<path d="M401.8 22.3L402.4 22.3L402.9 22.3L403.5 22.3L404.0 22.3L404.6 22.3L405.1 22.3L405.7 22.4L406.2 22.4L406.8 22.4L407.3 22.4L407.9 22.4L408.4 22.5L409.0 22.5L409.5 22.5L410.1 22.5L410.7 22.6L411.2 22.6L411.8 22.6L412.3 22.7L412.9 22.7L413.4 22.8L414.0 22.8L414.5 22.8L415.1 22.9L415.6 22.9L416.2 23.0L416.7 23.0L417.3 23.1L417.9 23.2L418.4 23.2L419.0 23.3L419.5 23.3L420.1 23.4L420.6 23.4L421.2 23.5L421.7 23.6L422.3 23.6L422.8 23.7L423.4 23.8L423.9 23.9L424.5 24.0L425.0 24.1L425.6 24.3L426.2 24.4L426.7 24.6L427.3 24.8L427.8 25.1L428.4 25.3L428.9 25.6L429.5 25.8L430.0 26.1L430.6 26.4L431.1 26.8L431.7 27.1L432.2 27.4L432.8 27.8L433.3 28.2L433.9 28.6L434.5 29.0L435.0 29.5L435.6 30.1L436.1 30.7L436.7 31.4L437.2 32.2L437.8 33.0L438.3 33.9L438.9 34.8L439.4 35.8L440.0 36.7L440.5 37.7L441.1 38.8L441.7 40.0L442.2 41.3L442.8 42.7L443.3 44.2L443.9 45.8L444.4 47.4L445.0 49.2L445.5 51.0L446.1 53.1L446.6 55.2L447.2 57.5L447.7 60.0L448.3 62.5L448.8 65.3L449.4 68.2L450.0 71.6L450.5 75.3L451.1 79.2L451.6 83.2L452.2 87.2L452.7 91.1L453.3 94.8L453.8 98.4L454.4 101.9L454.9 105.5L455.5 108.9L456.0 112.4L456.6 115.8L457.2 119.2L457.7 122.7L458.3 126.1L458.8 129.6L459.4 133.1L459.9 136.6L460.5 140.1L461.0 143.8L461.6 147.8L462.1 152.1L462.7 156.4L463.2 160.6L463.8 164.5L464.3 168.0L464.9 170.9L465.5 173.1L466.0 174.9L466.6 176.6L467.1 178.2L467.7 179.7L468.2 181.0L468.8 182.2L469.3 183.1L469.9 183.8L470.4 184.2L471.0 184.3L471.5 184.0L472.1 183.5L472.6 182.7L473.2 181.6L473.8 180.4L474.3 178.9L474.9 177.4L475.4 175.7L476.0 174.0L476.5 172.1L477.1 169.5L477.6 166.3L478.2 162.6L478.7 158.5L479.3 154.2L479.8 149.9L480.4 145.8L481.0 141.9L481.5 138.3L482.1 134.8L482.6 131.3L483.2 127.8L483.7 124.4L484.3 121.0L484.8 117.5L485.4 114.1L485.9 110.7L486.5 107.2L487.0 103.7L487.6 100.2L488.1 96.6L488.7 93.0L489.3 89.1L489.8 85.2L490.4 81.2L490.9 77.2L491.5 73.4L492.0 69.9L492.6 66.7L493.1 63.9L493.7 61.2L494.2 58.7L494.8 56.3L495.3 54.1L495.9 52.0L496.4 50.1L497.0 48.3L497.6 46.6L498.1 45.0L498.7 43.5L499.2 42.0L499.8 40.7L500.3 39.4L500.9 38.3L501.4 37.2L502.0 36.2L502.5 35.3L503.1 34.4L503.6 33.5L504.2 32.6L504.8 31.8L505.3 31.1L505.9 30.4L506.4 29.8L507.0 29.2L507.5 28.8L508.1 28.4L508.6 28.0L509.2 27.6L509.7 27.3L510.3 26.9L510.8 26.6L511.4 26.3L511.9 26.0L512.5 25.7L513.1 25.4L513.6 25.2L514.2 24.9L514.7 24.7L515.3 24.5L515.8 24.4L516.4 24.2L516.9 24.1L517.5 23.9L518.0 23.8L518.6 23.8L519.1 23.7L519.7 23.6L520.3 23.5L520.8 23.5L521.4 23.4L521.9 23.4L522.5 23.3L523.0 23.2L523.6 23.2L524.1 23.1L524.7 23.1L525.2 23.0L525.8 23.0L526.3 22.9L526.9 22.9L527.4 22.8L528.0 22.8L528.6 22.7L529.1 22.7L529.7 22.7L530.2 22.6L530.8 22.6L531.3 22.6L531.9 22.5L532.4 22.5L533.0 22.5L533.5 22.4L534.1 22.4L534.6 22.4L535.2 22.4L535.7 22.4L536.3 22.4L536.9 22.3L537.4 22.3L538.0 22.3L538.5 22.3L539.1 22.3L539.6 22.3L540.2 22.3L540.7 22.3L541.3 22.3L541.8 22.3L542.4 22.3L542.9 22.3L543.5 22.4L544.1 22.4L544.6 22.4L545.2 22.4L545.7 22.4L546.3 22.4L546.8 22.5L547.4 22.5L547.9 22.5L548.5 22.6L549.0 22.6L549.6 22.6L550.1 22.7L550.7 22.7L551.2 22.7L551.8 22.8L552.4 22.8L552.9 22.9L553.5 22.9L554.0 23.0L554.6 23.0L555.1 23.1L555.7 23.1L556.2 23.2L556.8 23.2L557.3 23.3L557.9 23.4L558.4 23.4L559.0 23.5L559.5 23.5L560.1 23.6L560.7 23.7L561.2 23.8L561.8 23.8L562.3 23.9L562.9 24.1L563.4 24.2L564.0 24.4L564.5 24.5L565.1 24.7L565.6 24.9L566.2 25.2L566.7 25.4L567.3 25.7L567.9 26.0L568.4 26.3L569.0 26.6L569.5 26.9L570.1 27.3L570.6 27.6L571.2 28.0L571.7 28.4L572.3 28.8L572.8 29.2L573.4 29.8L573.9 30.4L574.5 31.1L575.0 31.8L575.6 32.6L576.2 33.5L576.7 34.4L577.3 35.3L577.8 36.2L578.4 37.2L578.9 38.3L579.5 39.4L580.0 40.7L580.6 42.0L581.1 43.5L581.7 45.0L582.2 46.6L582.8 48.3L583.4 50.1L583.9 52.0L584.5 54.1L585.0 56.3L585.6 58.7L586.1 61.2L586.7 63.9L587.2 66.7L587.8 69.9L588.3 73.4L588.9 77.2L589.4 81.2L590.0 85.2L590.5 89.1L591.1 93.0L591.7 96.6L592.2 100.2L592.8 103.7L593.3 107.2L593.9 110.7L594.4 114.1L595.0 117.5L595.5 121.0L596.1 124.4L596.6 127.8L597.2 131.3L597.7 134.8L598.3 138.3L598.8 141.9L599.4 145.8L600.0 149.9L600.5 154.2L601.1 158.5L601.6 162.6L602.2 166.3L602.7 169.5L603.3 172.1L603.8 174.0L604.4 175.7L604.9 177.4L605.5 178.9L606.0 180.4L606.6 181.6L607.2 182.7L607.7 183.5L608.3 184.0L608.8 184.3L609.4 184.2L609.9 183.8L610.5 183.1L611.0 182.2L611.6 181.0L612.1 179.7L612.7 178.2L613.2 176.6L613.8 174.9L614.3 173.1L614.9 170.9L615.5 168.0L616.0 164.5L616.6 160.6L617.1 156.4L617.7 152.1L618.2 147.8L618.8 143.8L619.3 140.1L619.9 136.6L620.4 133.1L621.0 129.6L621.5 126.1L622.1 122.7L622.6 119.2L623.2 115.8L623.8 112.4L624.3 108.9L624.9 105.5L625.4 101.9L626.0 98.4L626.5 94.8L627.1 91.1L627.6 87.2L628.2 83.2L628.7 79.2L629.3 75.3L629.8 71.6L630.4 68.2L631.0 65.3L631.5 62.5L632.1 60.0L632.6 57.5L633.2 55.2L633.7 53.1L634.3 51.0L634.8 49.2L635.4 47.4L635.9 45.8L636.5 44.2L637.0 42.7L637.6 41.3L638.1 40.0L638.7 38.8L639.3 37.7L639.8 36.7L640.4 35.8L640.9 34.8L641.5 33.9L642.0 33.0L642.6 32.2L643.1 31.4L643.7 30.7L644.2 30.1L644.8 29.5L645.3 29.0L645.9 28.6L646.5 28.2L647.0 27.8L647.6 27.4L648.1 27.1L648.7 26.8L649.2 26.4L649.8 26.1L650.3 25.8L650.9 25.6L651.4 25.3L652.0 25.1L652.5 24.8L653.1 24.6L653.6 24.4L654.2 24.3L654.8 24.1L655.3 24.0L655.9 23.9L656.4 23.8L657.0 23.7L657.5 23.6L658.1 23.6L658.6 23.5L659.2 23.4L659.7 23.4L660.3 23.3L660.8 23.3L661.4 23.2L661.9 23.2L662.5 23.1L663.1 23.0L663.6 23.0L664.2 22.9L664.7 22.9L665.3 22.8L665.8 22.8L666.4 22.8L666.9 22.7L667.5 22.7L668.0 22.6L668.6 22.6L669.1 22.6L669.7 22.5L670.3 22.5L670.8 22.5L671.4 22.5L671.9 22.4L672.5 22.4L673.0 22.4L673.6 22.4L674.1 22.4L674.7 22.3L675.2 22.3L675.8 22.3L676.3 22.3L676.9 22.3L677.4 22.3L678.0 22.3" fill="none" stroke="#ff2020" stroke-width="1.90" stroke-linejoin="round" stroke-dasharray="6.5 3.8" clip-path="url(#cb)"/>
<path d="M401.8 38.8L402.4 38.8L402.9 38.8L403.5 38.8L404.0 38.8L404.6 38.9L405.1 38.9L405.7 38.9L406.2 39.0L406.8 39.0L407.3 39.1L407.9 39.1L408.4 39.2L409.0 39.3L409.5 39.4L410.1 39.4L410.7 39.5L411.2 39.6L411.8 39.7L412.3 39.8L412.9 39.9L413.4 40.0L414.0 40.1L414.5 40.2L415.1 40.3L415.6 40.4L416.2 40.5L416.7 40.7L417.3 40.8L417.9 40.9L418.4 41.0L419.0 41.2L419.5 41.3L420.1 41.4L420.6 41.6L421.2 41.7L421.7 41.9L422.3 42.1L422.8 42.3L423.4 42.5L423.9 42.8L424.5 43.0L425.0 43.3L425.6 43.6L426.2 44.0L426.7 44.3L427.3 44.7L427.8 45.1L428.4 45.4L428.9 45.8L429.5 46.3L430.0 46.7L430.6 47.1L431.1 47.5L431.7 48.0L432.2 48.4L432.8 48.9L433.3 49.3L433.9 49.8L434.5 50.3L435.0 50.9L435.6 51.4L436.1 52.0L436.7 52.7L437.2 53.3L437.8 54.0L438.3 54.7L438.9 55.5L439.4 56.3L440.0 57.2L440.5 58.1L441.1 59.2L441.7 60.4L442.2 61.8L442.8 63.3L443.3 64.8L443.9 66.3L444.4 67.9L445.0 69.4L445.5 70.9L446.1 72.4L446.6 74.0L447.2 75.6L447.7 77.2L448.3 79.0L448.8 80.8L449.4 82.8L450.0 85.0L450.5 87.2L451.1 89.6L451.6 92.0L452.2 94.5L452.7 97.0L453.3 99.4L453.8 101.8L454.4 104.1L454.9 106.4L455.5 108.8L456.0 111.2L456.6 113.6L457.2 116.0L457.7 118.4L458.3 120.8L458.8 123.1L459.4 125.3L459.9 127.5L460.5 129.5L461.0 131.3L461.6 133.0L462.1 134.6L462.7 136.1L463.2 137.7L463.8 139.3L464.3 140.8L464.9 142.4L465.5 143.9L466.0 145.3L466.6 146.6L467.1 147.9L467.7 149.0L468.2 150.0L468.8 150.8L469.3 151.5L469.9 151.9L470.4 152.2L471.0 152.3L471.5 152.1L472.1 151.7L472.6 151.2L473.2 150.4L473.8 149.5L474.3 148.4L474.9 147.2L475.4 146.0L476.0 144.6L476.5 143.1L477.1 141.6L477.6 140.1L478.2 138.5L478.7 136.9L479.3 135.3L479.8 133.8L480.4 132.2L481.0 130.4L481.5 128.5L482.1 126.4L482.6 124.2L483.2 122.0L483.7 119.6L484.3 117.3L484.8 114.8L485.4 112.4L485.9 110.0L486.5 107.6L487.0 105.3L487.6 103.0L488.1 100.6L488.7 98.2L489.3 95.7L489.8 93.2L490.4 90.8L490.9 88.4L491.5 86.1L492.0 83.9L492.6 81.8L493.1 79.9L493.7 78.1L494.2 76.4L494.8 74.8L495.3 73.2L495.9 71.6L496.4 70.1L497.0 68.6L497.6 67.1L498.1 65.6L498.7 64.0L499.2 62.5L499.8 61.1L500.3 59.8L500.9 58.6L501.4 57.6L502.0 56.7L502.5 55.9L503.1 55.1L503.6 54.4L504.2 53.7L504.8 53.0L505.3 52.4L505.9 51.7L506.4 51.2L507.0 50.6L507.5 50.1L508.1 49.6L508.6 49.1L509.2 48.6L509.7 48.2L510.3 47.7L510.8 47.3L511.4 46.9L511.9 46.5L512.5 46.0L513.1 45.6L513.6 45.2L514.2 44.9L514.7 44.5L515.3 44.1L515.8 43.8L516.4 43.5L516.9 43.2L517.5 42.9L518.0 42.6L518.6 42.4L519.1 42.2L519.7 42.0L520.3 41.8L520.8 41.6L521.4 41.5L521.9 41.4L522.5 41.2L523.0 41.1L523.6 41.0L524.1 40.8L524.7 40.7L525.2 40.6L525.8 40.5L526.3 40.4L526.9 40.2L527.4 40.1L528.0 40.0L528.6 39.9L529.1 39.8L529.7 39.7L530.2 39.6L530.8 39.6L531.3 39.5L531.9 39.4L532.4 39.3L533.0 39.2L533.5 39.2L534.1 39.1L534.6 39.1L535.2 39.0L535.7 39.0L536.3 38.9L536.9 38.9L537.4 38.9L538.0 38.8L538.5 38.8L539.1 38.8L539.6 38.8L540.2 38.8L540.7 38.8L541.3 38.8L541.8 38.8L542.4 38.9L542.9 38.9L543.5 38.9L544.1 39.0L544.6 39.0L545.2 39.1L545.7 39.1L546.3 39.2L546.8 39.2L547.4 39.3L547.9 39.4L548.5 39.5L549.0 39.6L549.6 39.6L550.1 39.7L550.7 39.8L551.2 39.9L551.8 40.0L552.4 40.1L552.9 40.2L553.5 40.4L554.0 40.5L554.6 40.6L555.1 40.7L555.7 40.8L556.2 41.0L556.8 41.1L557.3 41.2L557.9 41.4L558.4 41.5L559.0 41.6L559.5 41.8L560.1 42.0L560.7 42.2L561.2 42.4L561.8 42.6L562.3 42.9L562.9 43.2L563.4 43.5L564.0 43.8L564.5 44.1L565.1 44.5L565.6 44.9L566.2 45.2L566.7 45.6L567.3 46.0L567.9 46.5L568.4 46.9L569.0 47.3L569.5 47.7L570.1 48.2L570.6 48.6L571.2 49.1L571.7 49.6L572.3 50.1L572.8 50.6L573.4 51.2L573.9 51.7L574.5 52.4L575.0 53.0L575.6 53.7L576.2 54.4L576.7 55.1L577.3 55.9L577.8 56.7L578.4 57.6L578.9 58.6L579.5 59.8L580.0 61.1L580.6 62.5L581.1 64.0L581.7 65.6L582.2 67.1L582.8 68.6L583.4 70.1L583.9 71.6L584.5 73.2L585.0 74.8L585.6 76.4L586.1 78.1L586.7 79.9L587.2 81.8L587.8 83.9L588.3 86.1L588.9 88.4L589.4 90.8L590.0 93.2L590.5 95.7L591.1 98.2L591.7 100.6L592.2 103.0L592.8 105.3L593.3 107.6L593.9 110.0L594.4 112.4L595.0 114.8L595.5 117.3L596.1 119.6L596.6 122.0L597.2 124.2L597.7 126.4L598.3 128.5L598.8 130.4L599.4 132.2L600.0 133.8L600.5 135.3L601.1 136.9L601.6 138.5L602.2 140.1L602.7 141.6L603.3 143.1L603.8 144.6L604.4 146.0L604.9 147.2L605.5 148.4L606.0 149.5L606.6 150.4L607.2 151.2L607.7 151.7L608.3 152.1L608.8 152.3L609.4 152.2L609.9 151.9L610.5 151.5L611.0 150.8L611.6 150.0L612.1 149.0L612.7 147.9L613.2 146.6L613.8 145.3L614.3 143.9L614.9 142.4L615.5 140.8L616.0 139.3L616.6 137.7L617.1 136.1L617.7 134.6L618.2 133.0L618.8 131.3L619.3 129.5L619.9 127.5L620.4 125.3L621.0 123.1L621.5 120.8L622.1 118.4L622.6 116.0L623.2 113.6L623.8 111.2L624.3 108.8L624.9 106.4L625.4 104.1L626.0 101.8L626.5 99.4L627.1 97.0L627.6 94.5L628.2 92.0L628.7 89.6L629.3 87.2L629.8 85.0L630.4 82.8L631.0 80.8L631.5 79.0L632.1 77.2L632.6 75.6L633.2 74.0L633.7 72.4L634.3 70.9L634.8 69.4L635.4 67.9L635.9 66.3L636.5 64.8L637.0 63.3L637.6 61.8L638.1 60.4L638.7 59.2L639.3 58.1L639.8 57.2L640.4 56.3L640.9 55.5L641.5 54.7L642.0 54.0L642.6 53.3L643.1 52.7L643.7 52.0L644.2 51.4L644.8 50.9L645.3 50.3L645.9 49.8L646.5 49.3L647.0 48.9L647.6 48.4L648.1 48.0L648.7 47.5L649.2 47.1L649.8 46.7L650.3 46.3L650.9 45.8L651.4 45.4L652.0 45.1L652.5 44.7L653.1 44.3L653.6 44.0L654.2 43.6L654.8 43.3L655.3 43.0L655.9 42.8L656.4 42.5L657.0 42.3L657.5 42.1L658.1 41.9L658.6 41.7L659.2 41.6L659.7 41.4L660.3 41.3L660.8 41.2L661.4 41.0L661.9 40.9L662.5 40.8L663.1 40.7L663.6 40.5L664.2 40.4L664.7 40.3L665.3 40.2L665.8 40.1L666.4 40.0L666.9 39.9L667.5 39.8L668.0 39.7L668.6 39.6L669.1 39.5L669.7 39.4L670.3 39.4L670.8 39.3L671.4 39.2L671.9 39.1L672.5 39.1L673.0 39.0L673.6 39.0L674.1 38.9L674.7 38.9L675.2 38.9L675.8 38.8L676.3 38.8L676.9 38.8L677.4 38.8L678.0 38.8" fill="none" stroke="#bcf5bc" stroke-opacity="1" stroke-width="2.70" stroke-linejoin="round" stroke-dasharray="7.5 1.5 2.5 1.5" clip-path="url(#cb)"/>
<path d="M401.8 38.8L402.4 38.8L402.9 38.8L403.5 38.8L404.0 38.8L404.6 38.9L405.1 38.9L405.7 38.9L406.2 39.0L406.8 39.0L407.3 39.1L407.9 39.1L408.4 39.2L409.0 39.3L409.5 39.4L410.1 39.4L410.7 39.5L411.2 39.6L411.8 39.7L412.3 39.8L412.9 39.9L413.4 40.0L414.0 40.1L414.5 40.2L415.1 40.3L415.6 40.4L416.2 40.5L416.7 40.7L417.3 40.8L417.9 40.9L418.4 41.0L419.0 41.2L419.5 41.3L420.1 41.4L420.6 41.6L421.2 41.7L421.7 41.9L422.3 42.1L422.8 42.3L423.4 42.5L423.9 42.8L424.5 43.0L425.0 43.3L425.6 43.6L426.2 44.0L426.7 44.3L427.3 44.7L427.8 45.1L428.4 45.4L428.9 45.8L429.5 46.3L430.0 46.7L430.6 47.1L431.1 47.5L431.7 48.0L432.2 48.4L432.8 48.9L433.3 49.3L433.9 49.8L434.5 50.3L435.0 50.9L435.6 51.4L436.1 52.0L436.7 52.7L437.2 53.3L437.8 54.0L438.3 54.7L438.9 55.5L439.4 56.3L440.0 57.2L440.5 58.1L441.1 59.2L441.7 60.4L442.2 61.8L442.8 63.3L443.3 64.8L443.9 66.3L444.4 67.9L445.0 69.4L445.5 70.9L446.1 72.4L446.6 74.0L447.2 75.6L447.7 77.2L448.3 79.0L448.8 80.8L449.4 82.8L450.0 85.0L450.5 87.2L451.1 89.6L451.6 92.0L452.2 94.5L452.7 97.0L453.3 99.4L453.8 101.8L454.4 104.1L454.9 106.4L455.5 108.8L456.0 111.2L456.6 113.6L457.2 116.0L457.7 118.4L458.3 120.8L458.8 123.1L459.4 125.3L459.9 127.5L460.5 129.5L461.0 131.3L461.6 133.0L462.1 134.6L462.7 136.1L463.2 137.7L463.8 139.3L464.3 140.8L464.9 142.4L465.5 143.9L466.0 145.3L466.6 146.6L467.1 147.9L467.7 149.0L468.2 150.0L468.8 150.8L469.3 151.5L469.9 151.9L470.4 152.2L471.0 152.3L471.5 152.1L472.1 151.7L472.6 151.2L473.2 150.4L473.8 149.5L474.3 148.4L474.9 147.2L475.4 146.0L476.0 144.6L476.5 143.1L477.1 141.6L477.6 140.1L478.2 138.5L478.7 136.9L479.3 135.3L479.8 133.8L480.4 132.2L481.0 130.4L481.5 128.5L482.1 126.4L482.6 124.2L483.2 122.0L483.7 119.6L484.3 117.3L484.8 114.8L485.4 112.4L485.9 110.0L486.5 107.6L487.0 105.3L487.6 103.0L488.1 100.6L488.7 98.2L489.3 95.7L489.8 93.2L490.4 90.8L490.9 88.4L491.5 86.1L492.0 83.9L492.6 81.8L493.1 79.9L493.7 78.1L494.2 76.4L494.8 74.8L495.3 73.2L495.9 71.6L496.4 70.1L497.0 68.6L497.6 67.1L498.1 65.6L498.7 64.0L499.2 62.5L499.8 61.1L500.3 59.8L500.9 58.6L501.4 57.6L502.0 56.7L502.5 55.9L503.1 55.1L503.6 54.4L504.2 53.7L504.8 53.0L505.3 52.4L505.9 51.7L506.4 51.2L507.0 50.6L507.5 50.1L508.1 49.6L508.6 49.1L509.2 48.6L509.7 48.2L510.3 47.7L510.8 47.3L511.4 46.9L511.9 46.5L512.5 46.0L513.1 45.6L513.6 45.2L514.2 44.9L514.7 44.5L515.3 44.1L515.8 43.8L516.4 43.5L516.9 43.2L517.5 42.9L518.0 42.6L518.6 42.4L519.1 42.2L519.7 42.0L520.3 41.8L520.8 41.6L521.4 41.5L521.9 41.4L522.5 41.2L523.0 41.1L523.6 41.0L524.1 40.8L524.7 40.7L525.2 40.6L525.8 40.5L526.3 40.4L526.9 40.2L527.4 40.1L528.0 40.0L528.6 39.9L529.1 39.8L529.7 39.7L530.2 39.6L530.8 39.6L531.3 39.5L531.9 39.4L532.4 39.3L533.0 39.2L533.5 39.2L534.1 39.1L534.6 39.1L535.2 39.0L535.7 39.0L536.3 38.9L536.9 38.9L537.4 38.9L538.0 38.8L538.5 38.8L539.1 38.8L539.6 38.8L540.2 38.8L540.7 38.8L541.3 38.8L541.8 38.8L542.4 38.9L542.9 38.9L543.5 38.9L544.1 39.0L544.6 39.0L545.2 39.1L545.7 39.1L546.3 39.2L546.8 39.2L547.4 39.3L547.9 39.4L548.5 39.5L549.0 39.6L549.6 39.6L550.1 39.7L550.7 39.8L551.2 39.9L551.8 40.0L552.4 40.1L552.9 40.2L553.5 40.4L554.0 40.5L554.6 40.6L555.1 40.7L555.7 40.8L556.2 41.0L556.8 41.1L557.3 41.2L557.9 41.4L558.4 41.5L559.0 41.6L559.5 41.8L560.1 42.0L560.7 42.2L561.2 42.4L561.8 42.6L562.3 42.9L562.9 43.2L563.4 43.5L564.0 43.8L564.5 44.1L565.1 44.5L565.6 44.9L566.2 45.2L566.7 45.6L567.3 46.0L567.9 46.5L568.4 46.9L569.0 47.3L569.5 47.7L570.1 48.2L570.6 48.6L571.2 49.1L571.7 49.6L572.3 50.1L572.8 50.6L573.4 51.2L573.9 51.7L574.5 52.4L575.0 53.0L575.6 53.7L576.2 54.4L576.7 55.1L577.3 55.9L577.8 56.7L578.4 57.6L578.9 58.6L579.5 59.8L580.0 61.1L580.6 62.5L581.1 64.0L581.7 65.6L582.2 67.1L582.8 68.6L583.4 70.1L583.9 71.6L584.5 73.2L585.0 74.8L585.6 76.4L586.1 78.1L586.7 79.9L587.2 81.8L587.8 83.9L588.3 86.1L588.9 88.4L589.4 90.8L590.0 93.2L590.5 95.7L591.1 98.2L591.7 100.6L592.2 103.0L592.8 105.3L593.3 107.6L593.9 110.0L594.4 112.4L595.0 114.8L595.5 117.3L596.1 119.6L596.6 122.0L597.2 124.2L597.7 126.4L598.3 128.5L598.8 130.4L599.4 132.2L600.0 133.8L600.5 135.3L601.1 136.9L601.6 138.5L602.2 140.1L602.7 141.6L603.3 143.1L603.8 144.6L604.4 146.0L604.9 147.2L605.5 148.4L606.0 149.5L606.6 150.4L607.2 151.2L607.7 151.7L608.3 152.1L608.8 152.3L609.4 152.2L609.9 151.9L610.5 151.5L611.0 150.8L611.6 150.0L612.1 149.0L612.7 147.9L613.2 146.6L613.8 145.3L614.3 143.9L614.9 142.4L615.5 140.8L616.0 139.3L616.6 137.7L617.1 136.1L617.7 134.6L618.2 133.0L618.8 131.3L619.3 129.5L619.9 127.5L620.4 125.3L621.0 123.1L621.5 120.8L622.1 118.4L622.6 116.0L623.2 113.6L623.8 111.2L624.3 108.8L624.9 106.4L625.4 104.1L626.0 101.8L626.5 99.4L627.1 97.0L627.6 94.5L628.2 92.0L628.7 89.6L629.3 87.2L629.8 85.0L630.4 82.8L631.0 80.8L631.5 79.0L632.1 77.2L632.6 75.6L633.2 74.0L633.7 72.4L634.3 70.9L634.8 69.4L635.4 67.9L635.9 66.3L636.5 64.8L637.0 63.3L637.6 61.8L638.1 60.4L638.7 59.2L639.3 58.1L639.8 57.2L640.4 56.3L640.9 55.5L641.5 54.7L642.0 54.0L642.6 53.3L643.1 52.7L643.7 52.0L644.2 51.4L644.8 50.9L645.3 50.3L645.9 49.8L646.5 49.3L647.0 48.9L647.6 48.4L648.1 48.0L648.7 47.5L649.2 47.1L649.8 46.7L650.3 46.3L650.9 45.8L651.4 45.4L652.0 45.1L652.5 44.7L653.1 44.3L653.6 44.0L654.2 43.6L654.8 43.3L655.3 43.0L655.9 42.8L656.4 42.5L657.0 42.3L657.5 42.1L658.1 41.9L658.6 41.7L659.2 41.6L659.7 41.4L660.3 41.3L660.8 41.2L661.4 41.0L661.9 40.9L662.5 40.8L663.1 40.7L663.6 40.5L664.2 40.4L664.7 40.3L665.3 40.2L665.8 40.1L666.4 40.0L666.9 39.9L667.5 39.8L668.0 39.7L668.6 39.6L669.1 39.5L669.7 39.4L670.3 39.4L670.8 39.3L671.4 39.2L671.9 39.1L672.5 39.1L673.0 39.0L673.6 39.0L674.1 38.9L674.7 38.9L675.2 38.9L675.8 38.8L676.3 38.8L676.9 38.8L677.4 38.8L678.0 38.8" fill="none" stroke="#20e020" stroke-width="1.90" stroke-linejoin="round" stroke-dasharray="7.5 1.5 2.5 1.5" clip-path="url(#cb)"/>
<path d="M401.8 51.2L402.4 51.2L402.9 51.2L403.5 51.2L404.0 51.3L404.6 51.3L405.1 51.4L405.7 51.5L406.2 51.6L406.8 51.7L407.3 51.8L407.9 51.9L408.4 52.0L409.0 52.2L409.5 52.3L410.1 52.5L410.7 52.7L411.2 52.8L411.8 53.0L412.3 53.2L412.9 53.4L413.4 53.6L414.0 53.8L414.5 54.0L415.1 54.2L415.6 54.4L416.2 54.6L416.7 54.8L417.3 55.0L417.9 55.2L418.4 55.4L419.0 55.7L419.5 55.9L420.1 56.1L420.6 56.3L421.2 56.5L421.7 56.7L422.3 57.0L422.8 57.2L423.4 57.5L423.9 57.7L424.5 58.0L425.0 58.3L425.6 58.6L426.2 58.9L426.7 59.2L427.3 59.5L427.8 59.8L428.4 60.2L428.9 60.5L429.5 60.9L430.0 61.2L430.6 61.6L431.1 62.0L431.7 62.4L432.2 62.8L432.8 63.2L433.3 63.6L433.9 64.0L434.5 64.4L435.0 64.8L435.6 65.3L436.1 65.8L436.7 66.3L437.2 66.8L437.8 67.4L438.3 67.9L438.9 68.5L439.4 69.1L440.0 69.7L440.5 70.3L441.1 70.9L441.7 71.5L442.2 72.1L442.8 72.6L443.3 73.2L443.9 73.8L444.4 74.4L445.0 74.9L445.5 75.5L446.1 76.1L446.6 76.8L447.2 77.5L447.7 78.2L448.3 78.9L448.8 79.8L449.4 80.7L450.0 81.8L450.5 83.1L451.1 84.6L451.6 86.2L452.2 88.0L452.7 89.9L453.3 91.9L453.8 93.9L454.4 95.9L454.9 97.9L455.5 99.9L456.0 101.8L456.6 103.5L457.2 105.2L457.7 106.7L458.3 108.0L458.8 109.1L459.4 110.0L459.9 110.8L460.5 111.6L461.0 112.5L461.6 113.3L462.1 114.0L462.7 114.8L463.2 115.5L463.8 116.2L464.3 116.9L464.9 117.6L465.5 118.2L466.0 118.7L466.6 119.2L467.1 119.7L467.7 120.1L468.2 120.4L468.8 120.7L469.3 121.0L469.9 121.1L470.4 121.2L471.0 121.2L471.5 121.2L472.1 121.1L472.6 120.9L473.2 120.6L473.8 120.3L474.3 119.9L474.9 119.5L475.4 119.0L476.0 118.4L476.5 117.9L477.1 117.2L477.6 116.6L478.2 115.9L478.7 115.2L479.3 114.4L479.8 113.7L480.4 112.9L481.0 112.1L481.5 111.2L482.1 110.4L482.6 109.6L483.2 108.6L483.7 107.4L484.3 106.0L484.8 104.4L485.4 102.7L485.9 100.8L486.5 98.9L487.0 96.9L487.6 94.9L488.1 92.9L488.7 90.9L489.3 88.9L489.8 87.1L490.4 85.4L490.9 83.8L491.5 82.4L492.0 81.2L492.6 80.2L493.1 79.3L493.7 78.6L494.2 77.8L494.8 77.1L495.3 76.5L495.9 75.8L496.4 75.2L497.0 74.7L497.6 74.1L498.1 73.5L498.7 72.9L499.2 72.4L499.8 71.8L500.3 71.2L500.9 70.6L501.4 70.0L502.0 69.4L502.5 68.8L503.1 68.2L503.6 67.7L504.2 67.1L504.8 66.6L505.3 66.0L505.9 65.5L506.4 65.1L507.0 64.6L507.5 64.2L508.1 63.8L508.6 63.4L509.2 63.0L509.7 62.6L510.3 62.2L510.8 61.8L511.4 61.4L511.9 61.1L512.5 60.7L513.1 60.3L513.6 60.0L514.2 59.7L514.7 59.3L515.3 59.0L515.8 58.7L516.4 58.4L516.9 58.1L517.5 57.9L518.0 57.6L518.6 57.3L519.1 57.1L519.7 56.9L520.3 56.6L520.8 56.4L521.4 56.2L521.9 56.0L522.5 55.8L523.0 55.5L523.6 55.3L524.1 55.1L524.7 54.9L525.2 54.7L525.8 54.5L526.3 54.3L526.9 54.1L527.4 53.9L528.0 53.7L528.6 53.5L529.1 53.3L529.7 53.1L530.2 52.9L530.8 52.7L531.3 52.6L531.9 52.4L532.4 52.3L533.0 52.1L533.5 52.0L534.1 51.9L534.6 51.7L535.2 51.6L535.7 51.5L536.3 51.4L536.9 51.4L537.4 51.3L538.0 51.3L538.5 51.2L539.1 51.2L539.6 51.2L540.2 51.2L540.7 51.2L541.3 51.2L541.8 51.3L542.4 51.3L542.9 51.4L543.5 51.4L544.1 51.5L544.6 51.6L545.2 51.7L545.7 51.9L546.3 52.0L546.8 52.1L547.4 52.3L547.9 52.4L548.5 52.6L549.0 52.7L549.6 52.9L550.1 53.1L550.7 53.3L551.2 53.5L551.8 53.7L552.4 53.9L552.9 54.1L553.5 54.3L554.0 54.5L554.6 54.7L555.1 54.9L555.7 55.1L556.2 55.3L556.8 55.5L557.3 55.8L557.9 56.0L558.4 56.2L559.0 56.4L559.5 56.6L560.1 56.9L560.7 57.1L561.2 57.3L561.8 57.6L562.3 57.9L562.9 58.1L563.4 58.4L564.0 58.7L564.5 59.0L565.1 59.3L565.6 59.7L566.2 60.0L566.7 60.3L567.3 60.7L567.9 61.1L568.4 61.4L569.0 61.8L569.5 62.2L570.1 62.6L570.6 63.0L571.2 63.4L571.7 63.8L572.3 64.2L572.8 64.6L573.4 65.1L573.9 65.5L574.5 66.0L575.0 66.6L575.6 67.1L576.2 67.7L576.7 68.2L577.3 68.8L577.8 69.4L578.4 70.0L578.9 70.6L579.5 71.2L580.0 71.8L580.6 72.4L581.1 72.9L581.7 73.5L582.2 74.1L582.8 74.7L583.4 75.2L583.9 75.8L584.5 76.5L585.0 77.1L585.6 77.8L586.1 78.6L586.7 79.3L587.2 80.2L587.8 81.2L588.3 82.4L588.9 83.8L589.4 85.4L590.0 87.1L590.5 88.9L591.1 90.9L591.7 92.9L592.2 94.9L592.8 96.9L593.3 98.9L593.9 100.8L594.4 102.7L595.0 104.4L595.5 106.0L596.1 107.4L596.6 108.6L597.2 109.6L597.7 110.4L598.3 111.2L598.8 112.1L599.4 112.9L600.0 113.7L600.5 114.4L601.1 115.2L601.6 115.9L602.2 116.6L602.7 117.2L603.3 117.9L603.8 118.4L604.4 119.0L604.9 119.5L605.5 119.9L606.0 120.3L606.6 120.6L607.2 120.9L607.7 121.1L608.3 121.2L608.8 121.2L609.4 121.2L609.9 121.1L610.5 121.0L611.0 120.7L611.6 120.4L612.1 120.1L612.7 119.7L613.2 119.2L613.8 118.7L614.3 118.2L614.9 117.6L615.5 116.9L616.0 116.2L616.6 115.5L617.1 114.8L617.7 114.0L618.2 113.3L618.8 112.5L619.3 111.6L619.9 110.8L620.4 110.0L621.0 109.1L621.5 108.0L622.1 106.7L622.6 105.2L623.2 103.5L623.8 101.8L624.3 99.9L624.9 97.9L625.4 95.9L626.0 93.9L626.5 91.9L627.1 89.9L627.6 88.0L628.2 86.2L628.7 84.6L629.3 83.1L629.8 81.8L630.4 80.7L631.0 79.8L631.5 78.9L632.1 78.2L632.6 77.5L633.2 76.8L633.7 76.1L634.3 75.5L634.8 74.9L635.4 74.4L635.9 73.8L636.5 73.2L637.0 72.6L637.6 72.1L638.1 71.5L638.7 70.9L639.3 70.3L639.8 69.7L640.4 69.1L640.9 68.5L641.5 67.9L642.0 67.4L642.6 66.8L643.1 66.3L643.7 65.8L644.2 65.3L644.8 64.8L645.3 64.4L645.9 64.0L646.5 63.6L647.0 63.2L647.6 62.8L648.1 62.4L648.7 62.0L649.2 61.6L649.8 61.2L650.3 60.9L650.9 60.5L651.4 60.2L652.0 59.8L652.5 59.5L653.1 59.2L653.6 58.9L654.2 58.6L654.8 58.3L655.3 58.0L655.9 57.7L656.4 57.5L657.0 57.2L657.5 57.0L658.1 56.7L658.6 56.5L659.2 56.3L659.7 56.1L660.3 55.9L660.8 55.7L661.4 55.4L661.9 55.2L662.5 55.0L663.1 54.8L663.6 54.6L664.2 54.4L664.7 54.2L665.3 54.0L665.8 53.8L666.4 53.6L666.9 53.4L667.5 53.2L668.0 53.0L668.6 52.8L669.1 52.7L669.7 52.5L670.3 52.3L670.8 52.2L671.4 52.0L671.9 51.9L672.5 51.8L673.0 51.7L673.6 51.6L674.1 51.5L674.7 51.4L675.2 51.3L675.8 51.3L676.3 51.2L676.9 51.2L677.4 51.2L678.0 51.2" fill="none" stroke="#bebeff" stroke-opacity="1" stroke-width="2.80" stroke-linejoin="round" stroke-dasharray="2.4 2.4" clip-path="url(#cb)"/>
<path d="M401.8 51.2L402.4 51.2L402.9 51.2L403.5 51.2L404.0 51.3L404.6 51.3L405.1 51.4L405.7 51.5L406.2 51.6L406.8 51.7L407.3 51.8L407.9 51.9L408.4 52.0L409.0 52.2L409.5 52.3L410.1 52.5L410.7 52.7L411.2 52.8L411.8 53.0L412.3 53.2L412.9 53.4L413.4 53.6L414.0 53.8L414.5 54.0L415.1 54.2L415.6 54.4L416.2 54.6L416.7 54.8L417.3 55.0L417.9 55.2L418.4 55.4L419.0 55.7L419.5 55.9L420.1 56.1L420.6 56.3L421.2 56.5L421.7 56.7L422.3 57.0L422.8 57.2L423.4 57.5L423.9 57.7L424.5 58.0L425.0 58.3L425.6 58.6L426.2 58.9L426.7 59.2L427.3 59.5L427.8 59.8L428.4 60.2L428.9 60.5L429.5 60.9L430.0 61.2L430.6 61.6L431.1 62.0L431.7 62.4L432.2 62.8L432.8 63.2L433.3 63.6L433.9 64.0L434.5 64.4L435.0 64.8L435.6 65.3L436.1 65.8L436.7 66.3L437.2 66.8L437.8 67.4L438.3 67.9L438.9 68.5L439.4 69.1L440.0 69.7L440.5 70.3L441.1 70.9L441.7 71.5L442.2 72.1L442.8 72.6L443.3 73.2L443.9 73.8L444.4 74.4L445.0 74.9L445.5 75.5L446.1 76.1L446.6 76.8L447.2 77.5L447.7 78.2L448.3 78.9L448.8 79.8L449.4 80.7L450.0 81.8L450.5 83.1L451.1 84.6L451.6 86.2L452.2 88.0L452.7 89.9L453.3 91.9L453.8 93.9L454.4 95.9L454.9 97.9L455.5 99.9L456.0 101.8L456.6 103.5L457.2 105.2L457.7 106.7L458.3 108.0L458.8 109.1L459.4 110.0L459.9 110.8L460.5 111.6L461.0 112.5L461.6 113.3L462.1 114.0L462.7 114.8L463.2 115.5L463.8 116.2L464.3 116.9L464.9 117.6L465.5 118.2L466.0 118.7L466.6 119.2L467.1 119.7L467.7 120.1L468.2 120.4L468.8 120.7L469.3 121.0L469.9 121.1L470.4 121.2L471.0 121.2L471.5 121.2L472.1 121.1L472.6 120.9L473.2 120.6L473.8 120.3L474.3 119.9L474.9 119.5L475.4 119.0L476.0 118.4L476.5 117.9L477.1 117.2L477.6 116.6L478.2 115.9L478.7 115.2L479.3 114.4L479.8 113.7L480.4 112.9L481.0 112.1L481.5 111.2L482.1 110.4L482.6 109.6L483.2 108.6L483.7 107.4L484.3 106.0L484.8 104.4L485.4 102.7L485.9 100.8L486.5 98.9L487.0 96.9L487.6 94.9L488.1 92.9L488.7 90.9L489.3 88.9L489.8 87.1L490.4 85.4L490.9 83.8L491.5 82.4L492.0 81.2L492.6 80.2L493.1 79.3L493.7 78.6L494.2 77.8L494.8 77.1L495.3 76.5L495.9 75.8L496.4 75.2L497.0 74.7L497.6 74.1L498.1 73.5L498.7 72.9L499.2 72.4L499.8 71.8L500.3 71.2L500.9 70.6L501.4 70.0L502.0 69.4L502.5 68.8L503.1 68.2L503.6 67.7L504.2 67.1L504.8 66.6L505.3 66.0L505.9 65.5L506.4 65.1L507.0 64.6L507.5 64.2L508.1 63.8L508.6 63.4L509.2 63.0L509.7 62.6L510.3 62.2L510.8 61.8L511.4 61.4L511.9 61.1L512.5 60.7L513.1 60.3L513.6 60.0L514.2 59.7L514.7 59.3L515.3 59.0L515.8 58.7L516.4 58.4L516.9 58.1L517.5 57.9L518.0 57.6L518.6 57.3L519.1 57.1L519.7 56.9L520.3 56.6L520.8 56.4L521.4 56.2L521.9 56.0L522.5 55.8L523.0 55.5L523.6 55.3L524.1 55.1L524.7 54.9L525.2 54.7L525.8 54.5L526.3 54.3L526.9 54.1L527.4 53.9L528.0 53.7L528.6 53.5L529.1 53.3L529.7 53.1L530.2 52.9L530.8 52.7L531.3 52.6L531.9 52.4L532.4 52.3L533.0 52.1L533.5 52.0L534.1 51.9L534.6 51.7L535.2 51.6L535.7 51.5L536.3 51.4L536.9 51.4L537.4 51.3L538.0 51.3L538.5 51.2L539.1 51.2L539.6 51.2L540.2 51.2L540.7 51.2L541.3 51.2L541.8 51.3L542.4 51.3L542.9 51.4L543.5 51.4L544.1 51.5L544.6 51.6L545.2 51.7L545.7 51.9L546.3 52.0L546.8 52.1L547.4 52.3L547.9 52.4L548.5 52.6L549.0 52.7L549.6 52.9L550.1 53.1L550.7 53.3L551.2 53.5L551.8 53.7L552.4 53.9L552.9 54.1L553.5 54.3L554.0 54.5L554.6 54.7L555.1 54.9L555.7 55.1L556.2 55.3L556.8 55.5L557.3 55.8L557.9 56.0L558.4 56.2L559.0 56.4L559.5 56.6L560.1 56.9L560.7 57.1L561.2 57.3L561.8 57.6L562.3 57.9L562.9 58.1L563.4 58.4L564.0 58.7L564.5 59.0L565.1 59.3L565.6 59.7L566.2 60.0L566.7 60.3L567.3 60.7L567.9 61.1L568.4 61.4L569.0 61.8L569.5 62.2L570.1 62.6L570.6 63.0L571.2 63.4L571.7 63.8L572.3 64.2L572.8 64.6L573.4 65.1L573.9 65.5L574.5 66.0L575.0 66.6L575.6 67.1L576.2 67.7L576.7 68.2L577.3 68.8L577.8 69.4L578.4 70.0L578.9 70.6L579.5 71.2L580.0 71.8L580.6 72.4L581.1 72.9L581.7 73.5L582.2 74.1L582.8 74.7L583.4 75.2L583.9 75.8L584.5 76.5L585.0 77.1L585.6 77.8L586.1 78.6L586.7 79.3L587.2 80.2L587.8 81.2L588.3 82.4L588.9 83.8L589.4 85.4L590.0 87.1L590.5 88.9L591.1 90.9L591.7 92.9L592.2 94.9L592.8 96.9L593.3 98.9L593.9 100.8L594.4 102.7L595.0 104.4L595.5 106.0L596.1 107.4L596.6 108.6L597.2 109.6L597.7 110.4L598.3 111.2L598.8 112.1L599.4 112.9L600.0 113.7L600.5 114.4L601.1 115.2L601.6 115.9L602.2 116.6L602.7 117.2L603.3 117.9L603.8 118.4L604.4 119.0L604.9 119.5L605.5 119.9L606.0 120.3L606.6 120.6L607.2 120.9L607.7 121.1L608.3 121.2L608.8 121.2L609.4 121.2L609.9 121.1L610.5 121.0L611.0 120.7L611.6 120.4L612.1 120.1L612.7 119.7L613.2 119.2L613.8 118.7L614.3 118.2L614.9 117.6L615.5 116.9L616.0 116.2L616.6 115.5L617.1 114.8L617.7 114.0L618.2 113.3L618.8 112.5L619.3 111.6L619.9 110.8L620.4 110.0L621.0 109.1L621.5 108.0L622.1 106.7L622.6 105.2L623.2 103.5L623.8 101.8L624.3 99.9L624.9 97.9L625.4 95.9L626.0 93.9L626.5 91.9L627.1 89.9L627.6 88.0L628.2 86.2L628.7 84.6L629.3 83.1L629.8 81.8L630.4 80.7L631.0 79.8L631.5 78.9L632.1 78.2L632.6 77.5L633.2 76.8L633.7 76.1L634.3 75.5L634.8 74.9L635.4 74.4L635.9 73.8L636.5 73.2L637.0 72.6L637.6 72.1L638.1 71.5L638.7 70.9L639.3 70.3L639.8 69.7L640.4 69.1L640.9 68.5L641.5 67.9L642.0 67.4L642.6 66.8L643.1 66.3L643.7 65.8L644.2 65.3L644.8 64.8L645.3 64.4L645.9 64.0L646.5 63.6L647.0 63.2L647.6 62.8L648.1 62.4L648.7 62.0L649.2 61.6L649.8 61.2L650.3 60.9L650.9 60.5L651.4 60.2L652.0 59.8L652.5 59.5L653.1 59.2L653.6 58.9L654.2 58.6L654.8 58.3L655.3 58.0L655.9 57.7L656.4 57.5L657.0 57.2L657.5 57.0L658.1 56.7L658.6 56.5L659.2 56.3L659.7 56.1L660.3 55.9L660.8 55.7L661.4 55.4L661.9 55.2L662.5 55.0L663.1 54.8L663.6 54.6L664.2 54.4L664.7 54.2L665.3 54.0L665.8 53.8L666.4 53.6L666.9 53.4L667.5 53.2L668.0 53.0L668.6 52.8L669.1 52.7L669.7 52.5L670.3 52.3L670.8 52.2L671.4 52.0L671.9 51.9L672.5 51.8L673.0 51.7L673.6 51.6L674.1 51.5L674.7 51.4L675.2 51.3L675.8 51.3L676.3 51.2L676.9 51.2L677.4 51.2L678.0 51.2" fill="none" stroke="#2828ff" stroke-width="2.00" stroke-linejoin="round" stroke-dasharray="2.4 2.4" clip-path="url(#cb)"/>
<path d="M503 139.60H530" fill="none" stroke="#b4b4b4" stroke-width="1.30" stroke-linejoin="round"/>
<text font-size="11.2" text-anchor="start" transform="translate(531.00 144.20) scale(0.93 1)">J=10 MHz</text>
<path d="M503 153.40H530" fill="none" stroke="#ffbcbc" stroke-opacity="1" stroke-width="2.70" stroke-linejoin="round" stroke-dasharray="6.5 3.8"/>
<path d="M503 153.40H530" fill="none" stroke="#ff2020" stroke-width="1.90" stroke-linejoin="round" stroke-dasharray="6.5 3.8"/>
<text font-size="11.2" text-anchor="start" transform="translate(531.00 158.00) scale(0.93 1)">J=30 MHz</text>
<path d="M503 167.50H530" fill="none" stroke="#bcf5bc" stroke-opacity="1" stroke-width="2.70" stroke-linejoin="round" stroke-dasharray="7.5 1.5 2.5 1.5"/>
<path d="M503 167.50H530" fill="none" stroke="#20e020" stroke-width="1.90" stroke-linejoin="round" stroke-dasharray="7.5 1.5 2.5 1.5"/>
<text font-size="11.2" text-anchor="start" transform="translate(531.00 172.10) scale(0.93 1)">J=50 MHz</text>
<path d="M503 181.40H530" fill="none" stroke="#bebeff" stroke-opacity="1" stroke-width="2.80" stroke-linejoin="round" stroke-dasharray="2.4 2.4"/>
<path d="M503 181.40H530" fill="none" stroke="#2828ff" stroke-width="2.00" stroke-linejoin="round" stroke-dasharray="2.4 2.4"/>
<text font-size="11.2" text-anchor="start" transform="translate(531.00 186.00) scale(0.93 1)">J=70 MHz</text>
<text font-size="13" text-anchor="middle" transform="translate(401.80 207.30) scale(0.92 1)">0.0</text>
<text font-size="13" text-anchor="middle" transform="translate(470.85 207.30) scale(0.92 1)">0.5</text>
<text font-size="13" text-anchor="middle" transform="translate(539.90 207.30) scale(0.92 1)">1.0</text>
<text font-size="13" text-anchor="middle" transform="translate(608.95 207.30) scale(0.92 1)">1.5</text>
<text font-size="13" text-anchor="middle" transform="translate(678.00 207.30) scale(0.92 1)">2.0</text>
<text font-size="13" text-anchor="end" transform="translate(397.50 159.30) scale(0.92 1)">-20</text>
<text font-size="13" text-anchor="end" transform="translate(397.50 110.80) scale(0.92 1)">-10</text>
<text font-size="13" text-anchor="end" transform="translate(397.50 62.30) scale(0.92 1)">0</text>
<text font-size="13" text-anchor="end" transform="translate(397.50 13.80) scale(0.92 1)">10</text>
<text font-size="17" text-anchor="start" transform="translate(404.30 188.30) scale(0.95 1)">(b)</text>
<g transform="translate(371.00 150.80) rotate(-90)">
<text font-size="21" x="0" y="0">n</text>
<text font-size="13" x="10.3" y="5.3">g</text>
<text font-size="21" x="23.5" y="0" transform="scale(1 1)">(arb. units)</text>
</g>
<path d="M45.80 235.50L45.80 428.90" stroke="#8c8c8c" stroke-width="2.50"/>
<path d="M322.00 235.50L322.00 428.90" stroke="#2e2e2e" stroke-width="1.60"/>
<path d="M45.80 235.50L322.00 235.50" stroke="#8f8f8f" stroke-width="2.80"/>
<path d="M45.80 429.40L322.00 429.40" stroke="#343434" stroke-width="1.40"/>
<path d="M45.80 428.90v-3.60" stroke="#9a9a9a" stroke-width="1.1"/>
<path d="M101.04 428.90v-3.60" stroke="#9a9a9a" stroke-width="1.1"/>
<path d="M156.28 428.90v-3.60" stroke="#9a9a9a" stroke-width="1.1"/>
<path d="M211.52 428.90v-3.60" stroke="#9a9a9a" stroke-width="1.1"/>
<path d="M266.76 428.90v-3.60" stroke="#9a9a9a" stroke-width="1.1"/>
<path d="M322.00 428.90v-3.60" stroke="#9a9a9a" stroke-width="1.1"/>
<path d="M73.42 428.90v-2.00" stroke="#9a9a9a" stroke-width="1.1"/>
<path d="M128.66 428.90v-2.00" stroke="#9a9a9a" stroke-width="1.1"/>
<path d="M183.90 428.90v-2.00" stroke="#9a9a9a" stroke-width="1.1"/>
<path d="M239.14 428.90v-2.00" stroke="#9a9a9a" stroke-width="1.1"/>
<path d="M294.38 428.90v-2.00" stroke="#9a9a9a" stroke-width="1.1"/>
<path d="M45.80 235.50v3.60" stroke="#c0c0c0" stroke-width="1.1"/>
<path d="M101.04 235.50v3.60" stroke="#c0c0c0" stroke-width="1.1"/>
<path d="M156.28 235.50v3.60" stroke="#c0c0c0" stroke-width="1.1"/>
<path d="M211.52 235.50v3.60" stroke="#c0c0c0" stroke-width="1.1"/>
<path d="M266.76 235.50v3.60" stroke="#c0c0c0" stroke-width="1.1"/>
<path d="M322.00 235.50v3.60" stroke="#c0c0c0" stroke-width="1.1"/>
<path d="M73.42 235.50v2.00" stroke="#c0c0c0" stroke-width="1.1"/>
<path d="M128.66 235.50v2.00" stroke="#c0c0c0" stroke-width="1.1"/>
<path d="M183.90 235.50v2.00" stroke="#c0c0c0" stroke-width="1.1"/>
<path d="M239.14 235.50v2.00" stroke="#c0c0c0" stroke-width="1.1"/>
<path d="M294.38 235.50v2.00" stroke="#c0c0c0" stroke-width="1.1"/>
<path d="M45.80 428.60h3.60M322.00 428.60h-3.60" stroke="#9a9a9a" stroke-width="1.1"/>
<path d="M45.80 398.88h3.60M322.00 398.88h-3.60" stroke="#9a9a9a" stroke-width="1.1"/>
<path d="M45.80 369.17h3.60M322.00 369.17h-3.60" stroke="#9a9a9a" stroke-width="1.1"/>
<path d="M45.80 339.45h3.60M322.00 339.45h-3.60" stroke="#9a9a9a" stroke-width="1.1"/>
<path d="M45.80 309.73h3.60M322.00 309.73h-3.60" stroke="#9a9a9a" stroke-width="1.1"/>
<path d="M45.80 280.02h3.60M322.00 280.02h-3.60" stroke="#9a9a9a" stroke-width="1.1"/>
<path d="M45.80 250.30h3.60M322.00 250.30h-3.60" stroke="#9a9a9a" stroke-width="1.1"/>
<path d="M45.80 413.74h2.00M322.00 413.74h-2.00" stroke="#9a9a9a" stroke-width="1.1"/>
<path d="M45.80 384.02h2.00M322.00 384.02h-2.00" stroke="#9a9a9a" stroke-width="1.1"/>
<path d="M45.80 354.31h2.00M322.00 354.31h-2.00" stroke="#9a9a9a" stroke-width="1.1"/>
<path d="M45.80 324.59h2.00M322.00 324.59h-2.00" stroke="#9a9a9a" stroke-width="1.1"/>
<path d="M45.80 294.88h2.00M322.00 294.88h-2.00" stroke="#9a9a9a" stroke-width="1.1"/>
<path d="M45.80 265.16h2.00M322.00 265.16h-2.00" stroke="#9a9a9a" stroke-width="1.1"/>
<path d="M45.8 338.6L46.7 338.8L47.6 339.0L48.6 339.2L49.5 339.4L50.4 339.7L51.3 339.9L52.3 340.1L53.2 340.3L54.1 340.5L55.0 340.7L56.0 340.9L56.9 341.1L57.8 341.3L58.7 341.5L59.7 341.7L60.6 341.9L61.5 342.1L62.4 342.4L63.4 342.6L64.3 342.8L65.2 342.9L66.1 343.0L67.0 343.0L68.0 343.1L68.9 343.1L69.8 343.1L70.7 343.1L71.7 343.1L72.6 343.2L73.5 343.2L74.4 343.2L75.4 343.2L76.3 343.2L77.2 343.3L78.1 343.3L79.1 343.5L80.0 343.9L80.9 344.5L81.8 345.3L82.7 346.0L83.7 346.8L84.6 347.4L85.5 348.0L86.4 348.7L87.4 349.3L88.3 349.9L89.2 350.3L90.1 350.4L91.1 350.3L92.0 350.0L92.9 349.4L93.8 348.7L94.8 348.0L95.7 347.2L96.6 346.4L97.5 345.5L98.5 344.6L99.4 343.5L100.3 342.3L101.2 341.2L102.1 339.9L103.1 338.7L104.0 337.4L104.9 336.1L105.8 334.7L106.8 333.2L107.7 331.7L108.6 330.2L109.5 328.6L110.5 327.0L111.4 325.5L112.3 323.8L113.2 322.2L114.2 320.4L115.1 318.7L116.0 317.0L116.9 315.3L117.9 313.7L118.8 312.1L119.7 310.7L120.6 309.2L121.5 307.8L122.5 306.5L123.4 305.1L124.3 303.7L125.2 302.2L126.2 300.6L127.1 299.1L128.0 297.6L128.9 296.2L129.9 295.0L130.8 294.1L131.7 293.2L132.6 292.5L133.6 291.7L134.5 291.1L135.4 290.4L136.3 289.8L137.3 289.3L138.2 288.8L139.1 288.3L140.0 287.9L140.9 287.5L141.9 287.1L142.8 286.7L143.7 286.3L144.6 286.0L145.6 285.6L146.5 285.3L147.4 285.0L148.3 284.7L149.3 284.4L150.2 284.1L151.1 283.8L152.0 283.6L153.0 283.3L153.9 283.0L154.8 282.8L155.7 282.6L156.6 282.3L157.6 282.1L158.5 281.9L159.4 281.6L160.3 281.4L161.3 281.2L162.2 281.0L163.1 280.8L164.0 280.6L165.0 280.4L165.9 280.2L166.8 280.0L167.7 279.8L168.7 279.6L169.6 279.4L170.5 279.2L171.4 279.0L172.4 278.8L173.3 278.6L174.2 278.5L175.1 278.3L176.0 278.1L177.0 278.0L177.9 277.8L178.8 277.7L179.7 277.6L180.7 277.4L181.6 277.3L182.5 277.2L183.4 277.1L184.4 277.0L185.3 276.9L186.2 276.8L187.1 276.7L188.1 276.7L189.0 276.6L189.9 276.5L190.8 276.4L191.8 276.4L192.7 276.3L193.6 276.2L194.5 276.1L195.4 276.1L196.4 276.0L197.3 276.0L198.2 275.9L199.1 275.8L200.1 275.8L201.0 275.7L201.9 275.7L202.8 275.6L203.8 275.6L204.7 275.5L205.6 275.5L206.5 275.4L207.5 275.4L208.4 275.3L209.3 275.3L210.2 275.2L211.2 275.2L212.1 275.1L213.0 275.1L213.9 275.0L214.8 275.0L215.8 274.9L216.7 274.9L217.6 274.8L218.5 274.8L219.5 274.7L220.4 274.7L221.3 274.6L222.2 274.6L223.2 274.5L224.1 274.5L225.0 274.5L225.9 274.4L226.9 274.4L227.8 274.3L228.7 274.3L229.6 274.2L230.5 274.2L231.5 274.2L232.4 274.1L233.3 274.1L234.2 274.0L235.2 274.0L236.1 274.0L237.0 273.9L237.9 273.9L238.9 273.8L239.8 273.8L240.7 273.8L241.6 273.7L242.6 273.7L243.5 273.6L244.4 273.6L245.3 273.6L246.3 273.5L247.2 273.5L248.1 273.4L249.0 273.4L249.9 273.3L250.9 273.3L251.8 273.3L252.7 273.2L253.6 273.2L254.6 273.1L255.5 273.1L256.4 273.0L257.3 273.0L258.3 272.9L259.2 272.9L260.1 272.8L261.0 272.8L262.0 272.7L262.9 272.7L263.8 272.7L264.7 272.6L265.7 272.6L266.6 272.5L267.5 272.5L268.4 272.4L269.3 272.4L270.3 272.4L271.2 272.3L272.1 272.3L273.0 272.3L274.0 272.3L274.9 272.2L275.8 272.2L276.7 272.2L277.7 272.2L278.6 272.1L279.5 272.1L280.4 272.1L281.4 272.1L282.3 272.1L283.2 272.1L284.1 272.1L285.1 272.1L286.0 272.1L286.9 272.1L287.8 272.0L288.7 272.0L289.7 272.0L290.6 272.0L291.5 272.0L292.4 272.0L293.4 272.0L294.3 272.0L295.2 272.0L296.1 272.0L297.1 272.0L298.0 271.9L298.9 271.9L299.8 271.9L300.8 271.9L301.7 271.9L302.6 271.9L303.5 271.9L304.4 271.9L305.4 271.9L306.3 271.9L307.2 271.9L308.1 271.9L309.1 271.9L310.0 271.9L310.9 271.9L311.8 271.9L312.8 271.9L313.7 271.9L314.6 271.9L315.5 271.9L316.5 271.9L317.4 271.8L318.3 271.8L319.2 271.8L320.2 271.8L321.1 271.8L322.0 271.8" fill="none" stroke="#f8a7d4" stroke-opacity="1" stroke-width="2.10" stroke-linejoin="round" clip-path="url(#ca2)"/>
<path d="M45.8 338.6L46.7 338.8L47.6 339.0L48.6 339.2L49.5 339.4L50.4 339.7L51.3 339.9L52.3 340.1L53.2 340.3L54.1 340.5L55.0 340.7L56.0 340.9L56.9 341.1L57.8 341.3L58.7 341.5L59.7 341.7L60.6 341.9L61.5 342.1L62.4 342.4L63.4 342.6L64.3 342.8L65.2 342.9L66.1 343.0L67.0 343.0L68.0 343.1L68.9 343.1L69.8 343.1L70.7 343.1L71.7 343.1L72.6 343.2L73.5 343.2L74.4 343.2L75.4 343.2L76.3 343.2L77.2 343.3L78.1 343.3L79.1 343.5L80.0 343.9L80.9 344.5L81.8 345.3L82.7 346.0L83.7 346.8L84.6 347.4L85.5 348.0L86.4 348.7L87.4 349.3L88.3 349.9L89.2 350.3L90.1 350.4L91.1 350.3L92.0 350.0L92.9 349.4L93.8 348.7L94.8 348.0L95.7 347.2L96.6 346.4L97.5 345.5L98.5 344.6L99.4 343.5L100.3 342.3L101.2 341.2L102.1 339.9L103.1 338.7L104.0 337.4L104.9 336.1L105.8 334.7L106.8 333.2L107.7 331.7L108.6 330.2L109.5 328.6L110.5 327.0L111.4 325.5L112.3 323.8L113.2 322.2L114.2 320.4L115.1 318.7L116.0 317.0L116.9 315.3L117.9 313.7L118.8 312.1L119.7 310.7L120.6 309.2L121.5 307.8L122.5 306.5L123.4 305.1L124.3 303.7L125.2 302.2L126.2 300.6L127.1 299.1L128.0 297.6L128.9 296.2L129.9 295.0L130.8 294.1L131.7 293.2L132.6 292.5L133.6 291.7L134.5 291.1L135.4 290.4L136.3 289.8L137.3 289.3L138.2 288.8L139.1 288.3L140.0 287.9L140.9 287.5L141.9 287.1L142.8 286.7L143.7 286.3L144.6 286.0L145.6 285.6L146.5 285.3L147.4 285.0L148.3 284.7L149.3 284.4L150.2 284.1L151.1 283.8L152.0 283.6L153.0 283.3L153.9 283.0L154.8 282.8L155.7 282.6L156.6 282.3L157.6 282.1L158.5 281.9L159.4 281.6L160.3 281.4L161.3 281.2L162.2 281.0L163.1 280.8L164.0 280.6L165.0 280.4L165.9 280.2L166.8 280.0L167.7 279.8L168.7 279.6L169.6 279.4L170.5 279.2L171.4 279.0L172.4 278.8L173.3 278.6L174.2 278.5L175.1 278.3L176.0 278.1L177.0 278.0L177.9 277.8L178.8 277.7L179.7 277.6L180.7 277.4L181.6 277.3L182.5 277.2L183.4 277.1L184.4 277.0L185.3 276.9L186.2 276.8L187.1 276.7L188.1 276.7L189.0 276.6L189.9 276.5L190.8 276.4L191.8 276.4L192.7 276.3L193.6 276.2L194.5 276.1L195.4 276.1L196.4 276.0L197.3 276.0L198.2 275.9L199.1 275.8L200.1 275.8L201.0 275.7L201.9 275.7L202.8 275.6L203.8 275.6L204.7 275.5L205.6 275.5L206.5 275.4L207.5 275.4L208.4 275.3L209.3 275.3L210.2 275.2L211.2 275.2L212.1 275.1L213.0 275.1L213.9 275.0L214.8 275.0L215.8 274.9L216.7 274.9L217.6 274.8L218.5 274.8L219.5 274.7L220.4 274.7L221.3 274.6L222.2 274.6L223.2 274.5L224.1 274.5L225.0 274.5L225.9 274.4L226.9 274.4L227.8 274.3L228.7 274.3L229.6 274.2L230.5 274.2L231.5 274.2L232.4 274.1L233.3 274.1L234.2 274.0L235.2 274.0L236.1 274.0L237.0 273.9L237.9 273.9L238.9 273.8L239.8 273.8L240.7 273.8L241.6 273.7L242.6 273.7L243.5 273.6L244.4 273.6L245.3 273.6L246.3 273.5L247.2 273.5L248.1 273.4L249.0 273.4L249.9 273.3L250.9 273.3L251.8 273.3L252.7 273.2L253.6 273.2L254.6 273.1L255.5 273.1L256.4 273.0L257.3 273.0L258.3 272.9L259.2 272.9L260.1 272.8L261.0 272.8L262.0 272.7L262.9 272.7L263.8 272.7L264.7 272.6L265.7 272.6L266.6 272.5L267.5 272.5L268.4 272.4L269.3 272.4L270.3 272.4L271.2 272.3L272.1 272.3L273.0 272.3L274.0 272.3L274.9 272.2L275.8 272.2L276.7 272.2L277.7 272.2L278.6 272.1L279.5 272.1L280.4 272.1L281.4 272.1L282.3 272.1L283.2 272.1L284.1 272.1L285.1 272.1L286.0 272.1L286.9 272.1L287.8 272.0L288.7 272.0L289.7 272.0L290.6 272.0L291.5 272.0L292.4 272.0L293.4 272.0L294.3 272.0L295.2 272.0L296.1 272.0L297.1 272.0L298.0 271.9L298.9 271.9L299.8 271.9L300.8 271.9L301.7 271.9L302.6 271.9L303.5 271.9L304.4 271.9L305.4 271.9L306.3 271.9L307.2 271.9L308.1 271.9L309.1 271.9L310.0 271.9L310.9 271.9L311.8 271.9L312.8 271.9L313.7 271.9L314.6 271.9L315.5 271.9L316.5 271.9L317.4 271.8L318.3 271.8L319.2 271.8L320.2 271.8L321.1 271.8L322.0 271.8" fill="none" stroke="#f03ca0" stroke-width="1.20" stroke-linejoin="round" clip-path="url(#ca2)"/>
<path d="M45.8 327.3L46.7 327.5L47.6 327.8L48.6 328.1L49.5 328.3L50.4 328.6L51.3 328.9L52.3 329.1L53.2 329.4L54.1 329.7L55.0 329.9L56.0 330.2L56.9 330.4L57.8 330.7L58.7 330.9L59.7 331.2L60.6 331.4L61.5 331.6L62.4 331.9L63.4 332.1L64.3 332.3L65.2 332.5L66.1 332.7L67.0 332.9L68.0 333.1L68.9 333.4L69.8 333.6L70.7 333.9L71.7 334.1L72.6 334.4L73.5 334.7L74.4 335.0L75.4 335.4L76.3 335.8L77.2 336.2L78.1 336.6L79.1 337.1L80.0 337.6L80.9 338.1L81.8 338.7L82.7 339.3L83.7 339.9L84.6 340.7L85.5 341.5L86.4 342.4L87.4 343.4L88.3 344.6L89.2 345.8L90.1 347.3L91.1 349.1L92.0 351.0L92.9 353.2L93.8 355.6L94.8 358.4L95.7 361.6L96.6 364.9L97.5 368.8L98.5 373.1L99.4 377.6L100.3 382.1L101.2 386.3L102.1 389.9L103.1 392.9L104.0 395.5L104.9 397.8L105.8 400.0L106.8 402.0L107.7 403.9L108.6 405.7L109.5 407.4L110.5 409.1L111.4 410.8L112.3 412.4L113.2 413.9L114.2 415.1L115.1 416.0L116.0 416.7L116.9 417.2L117.9 417.7L118.8 418.1L119.7 418.3L120.6 418.5L121.5 418.5L122.5 418.3L123.4 417.9L124.3 417.4L125.2 416.9L126.2 416.2L127.1 415.5L128.0 414.7L128.9 413.5L129.9 412.0L130.8 410.4L131.7 408.6L132.6 406.7L133.6 404.7L134.5 402.5L135.4 400.1L136.3 397.5L137.3 394.8L138.2 392.1L139.1 389.3L140.0 386.5L140.9 383.5L141.9 380.4L142.8 377.3L143.7 374.1L144.6 371.0L145.6 367.9L146.5 364.8L147.4 361.7L148.3 358.5L149.3 355.5L150.2 352.4L151.1 349.4L152.0 346.5L153.0 343.7L153.9 341.0L154.8 338.3L155.7 335.6L156.6 332.8L157.6 329.9L158.5 326.8L159.4 323.6L160.3 320.7L161.3 318.2L162.2 315.9L163.1 313.6L164.0 311.5L165.0 309.5L165.9 307.5L166.8 305.6L167.7 303.8L168.7 302.0L169.6 300.3L170.5 298.6L171.4 297.0L172.4 295.4L173.3 293.8L174.2 292.3L175.1 290.8L176.0 289.3L177.0 287.8L177.9 286.3L178.8 284.8L179.7 283.4L180.7 282.0L181.6 280.7L182.5 279.4L183.4 278.2L184.4 277.1L185.3 276.0L186.2 275.0L187.1 274.0L188.1 273.1L189.0 272.2L189.9 271.3L190.8 270.4L191.8 269.6L192.7 268.8L193.6 268.0L194.5 267.2L195.4 266.5L196.4 265.7L197.3 265.0L198.2 264.3L199.1 263.6L200.1 262.9L201.0 262.2L201.9 261.6L202.8 261.0L203.8 260.4L204.7 259.9L205.6 259.3L206.5 258.9L207.5 258.4L208.4 257.9L209.3 257.5L210.2 257.1L211.2 256.7L212.1 256.3L213.0 255.9L213.9 255.5L214.8 255.1L215.8 254.7L216.7 254.3L217.6 254.0L218.5 253.6L219.5 253.2L220.4 252.8L221.3 252.5L222.2 252.1L223.2 251.7L224.1 251.4L225.0 251.0L225.9 250.7L226.9 250.4L227.8 250.0L228.7 249.7L229.6 249.4L230.5 249.1L231.5 248.8L232.4 248.5L233.3 248.3L234.2 248.0L235.2 247.7L236.1 247.5L237.0 247.2L237.9 246.9L238.9 246.7L239.8 246.5L240.7 246.2L241.6 246.0L242.6 245.8L243.5 245.6L244.4 245.3L245.3 245.2L246.3 245.0L247.2 244.8L248.1 244.6L249.0 244.5L249.9 244.3L250.9 244.1L251.8 244.0L252.7 243.9L253.6 243.7L254.6 243.6L255.5 243.5L256.4 243.3L257.3 243.2L258.3 243.1L259.2 243.0L260.1 242.8L261.0 242.7L262.0 242.6L262.9 242.5L263.8 242.3L264.7 242.2L265.7 242.1L266.6 241.9L267.5 241.8L268.4 241.7L269.3 241.5L270.3 241.4L271.2 241.3L272.1 241.2L273.0 241.0L274.0 240.9L274.9 240.8L275.8 240.7L276.7 240.6L277.7 240.5L278.6 240.4L279.5 240.3L280.4 240.2L281.4 240.2L282.3 240.1L283.2 240.0L284.1 240.0L285.1 239.9L286.0 239.8L286.9 239.8L287.8 239.7L288.7 239.7L289.7 239.6L290.6 239.5L291.5 239.5L292.4 239.4L293.4 239.4L294.3 239.3L295.2 239.3L296.1 239.3L297.1 239.2L298.0 239.2L298.9 239.1L299.8 239.1L300.8 239.1L301.7 239.0L302.6 239.0L303.5 238.9L304.4 238.9L305.4 238.9L306.3 238.8L307.2 238.8L308.1 238.8L309.1 238.8L310.0 238.7L310.9 238.7L311.8 238.7L312.8 238.7L313.7 238.7L314.6 238.6L315.5 238.6L316.5 238.6L317.4 238.6L318.3 238.6L319.2 238.6L320.2 238.6L321.1 238.6L322.0 238.6" fill="none" stroke="#ffd1ad" stroke-opacity="1" stroke-width="2.10" stroke-linejoin="round" clip-path="url(#ca2)"/>
<path d="M45.8 327.3L46.7 327.5L47.6 327.8L48.6 328.1L49.5 328.3L50.4 328.6L51.3 328.9L52.3 329.1L53.2 329.4L54.1 329.7L55.0 329.9L56.0 330.2L56.9 330.4L57.8 330.7L58.7 330.9L59.7 331.2L60.6 331.4L61.5 331.6L62.4 331.9L63.4 332.1L64.3 332.3L65.2 332.5L66.1 332.7L67.0 332.9L68.0 333.1L68.9 333.4L69.8 333.6L70.7 333.9L71.7 334.1L72.6 334.4L73.5 334.7L74.4 335.0L75.4 335.4L76.3 335.8L77.2 336.2L78.1 336.6L79.1 337.1L80.0 337.6L80.9 338.1L81.8 338.7L82.7 339.3L83.7 339.9L84.6 340.7L85.5 341.5L86.4 342.4L87.4 343.4L88.3 344.6L89.2 345.8L90.1 347.3L91.1 349.1L92.0 351.0L92.9 353.2L93.8 355.6L94.8 358.4L95.7 361.6L96.6 364.9L97.5 368.8L98.5 373.1L99.4 377.6L100.3 382.1L101.2 386.3L102.1 389.9L103.1 392.9L104.0 395.5L104.9 397.8L105.8 400.0L106.8 402.0L107.7 403.9L108.6 405.7L109.5 407.4L110.5 409.1L111.4 410.8L112.3 412.4L113.2 413.9L114.2 415.1L115.1 416.0L116.0 416.7L116.9 417.2L117.9 417.7L118.8 418.1L119.7 418.3L120.6 418.5L121.5 418.5L122.5 418.3L123.4 417.9L124.3 417.4L125.2 416.9L126.2 416.2L127.1 415.5L128.0 414.7L128.9 413.5L129.9 412.0L130.8 410.4L131.7 408.6L132.6 406.7L133.6 404.7L134.5 402.5L135.4 400.1L136.3 397.5L137.3 394.8L138.2 392.1L139.1 389.3L140.0 386.5L140.9 383.5L141.9 380.4L142.8 377.3L143.7 374.1L144.6 371.0L145.6 367.9L146.5 364.8L147.4 361.7L148.3 358.5L149.3 355.5L150.2 352.4L151.1 349.4L152.0 346.5L153.0 343.7L153.9 341.0L154.8 338.3L155.7 335.6L156.6 332.8L157.6 329.9L158.5 326.8L159.4 323.6L160.3 320.7L161.3 318.2L162.2 315.9L163.1 313.6L164.0 311.5L165.0 309.5L165.9 307.5L166.8 305.6L167.7 303.8L168.7 302.0L169.6 300.3L170.5 298.6L171.4 297.0L172.4 295.4L173.3 293.8L174.2 292.3L175.1 290.8L176.0 289.3L177.0 287.8L177.9 286.3L178.8 284.8L179.7 283.4L180.7 282.0L181.6 280.7L182.5 279.4L183.4 278.2L184.4 277.1L185.3 276.0L186.2 275.0L187.1 274.0L188.1 273.1L189.0 272.2L189.9 271.3L190.8 270.4L191.8 269.6L192.7 268.8L193.6 268.0L194.5 267.2L195.4 266.5L196.4 265.7L197.3 265.0L198.2 264.3L199.1 263.6L200.1 262.9L201.0 262.2L201.9 261.6L202.8 261.0L203.8 260.4L204.7 259.9L205.6 259.3L206.5 258.9L207.5 258.4L208.4 257.9L209.3 257.5L210.2 257.1L211.2 256.7L212.1 256.3L213.0 255.9L213.9 255.5L214.8 255.1L215.8 254.7L216.7 254.3L217.6 254.0L218.5 253.6L219.5 253.2L220.4 252.8L221.3 252.5L222.2 252.1L223.2 251.7L224.1 251.4L225.0 251.0L225.9 250.7L226.9 250.4L227.8 250.0L228.7 249.7L229.6 249.4L230.5 249.1L231.5 248.8L232.4 248.5L233.3 248.3L234.2 248.0L235.2 247.7L236.1 247.5L237.0 247.2L237.9 246.9L238.9 246.7L239.8 246.5L240.7 246.2L241.6 246.0L242.6 245.8L243.5 245.6L244.4 245.3L245.3 245.2L246.3 245.0L247.2 244.8L248.1 244.6L249.0 244.5L249.9 244.3L250.9 244.1L251.8 244.0L252.7 243.9L253.6 243.7L254.6 243.6L255.5 243.5L256.4 243.3L257.3 243.2L258.3 243.1L259.2 243.0L260.1 242.8L261.0 242.7L262.0 242.6L262.9 242.5L263.8 242.3L264.7 242.2L265.7 242.1L266.6 241.9L267.5 241.8L268.4 241.7L269.3 241.5L270.3 241.4L271.2 241.3L272.1 241.2L273.0 241.0L274.0 240.9L274.9 240.8L275.8 240.7L276.7 240.6L277.7 240.5L278.6 240.4L279.5 240.3L280.4 240.2L281.4 240.2L282.3 240.1L283.2 240.0L284.1 240.0L285.1 239.9L286.0 239.8L286.9 239.8L287.8 239.7L288.7 239.7L289.7 239.6L290.6 239.5L291.5 239.5L292.4 239.4L293.4 239.4L294.3 239.3L295.2 239.3L296.1 239.3L297.1 239.2L298.0 239.2L298.9 239.1L299.8 239.1L300.8 239.1L301.7 239.0L302.6 239.0L303.5 238.9L304.4 238.9L305.4 238.9L306.3 238.8L307.2 238.8L308.1 238.8L309.1 238.8L310.0 238.7L310.9 238.7L311.8 238.7L312.8 238.7L313.7 238.7L314.6 238.6L315.5 238.6L316.5 238.6L317.4 238.6L318.3 238.6L319.2 238.6L320.2 238.6L321.1 238.6L322.0 238.6" fill="none" stroke="#ff9a4a" stroke-width="1.20" stroke-linejoin="round" clip-path="url(#ca2)"/>
<path d="M45.8 311.7L46.7 312.5L47.6 313.2L48.6 314.0L49.5 314.8L50.4 315.5L51.3 316.2L52.3 316.9L53.2 317.6L54.1 318.3L55.0 318.9L56.0 319.5L56.9 320.1L57.8 320.7L58.7 321.2L59.7 321.7L60.6 322.2L61.5 322.7L62.4 323.1L63.4 323.5L64.3 323.9L65.2 324.3L66.1 324.7L67.0 325.0L68.0 325.4L68.9 325.8L69.8 326.2L70.7 326.6L71.7 327.0L72.6 327.5L73.5 328.0L74.4 328.5L75.4 329.0L76.3 329.5L77.2 330.1L78.1 330.7L79.1 331.3L80.0 332.0L80.9 332.6L81.8 333.3L82.7 334.1L83.7 334.8L84.6 335.6L85.5 336.5L86.4 337.5L87.4 338.4L88.3 339.5L89.2 340.5L90.1 341.7L91.1 342.9L92.0 344.2L92.9 345.6L93.8 346.9L94.8 348.3L95.7 349.8L96.6 351.4L97.5 353.0L98.5 354.5L99.4 356.0L100.3 357.4L101.2 358.6L102.1 359.7L103.1 360.8L104.0 361.8L104.9 362.6L105.8 363.3L106.8 363.9L107.7 364.5L108.6 365.1L109.5 365.5L110.5 365.8L111.4 365.9L112.3 365.8L113.2 365.6L114.2 365.2L115.1 364.8L116.0 364.3L116.9 363.7L117.9 362.7L118.8 361.5L119.7 360.1L120.6 358.7L121.5 357.0L122.5 355.1L123.4 353.1L124.3 351.1L125.2 349.1L126.2 347.2L127.1 345.4L128.0 343.6L128.9 341.8L129.9 339.9L130.8 338.1L131.7 336.2L132.6 334.3L133.6 332.3L134.5 330.4L135.4 328.4L136.3 326.4L137.3 324.5L138.2 322.5L139.1 320.6L140.0 318.6L140.9 316.7L141.9 314.8L142.8 312.9L143.7 311.0L144.6 309.1L145.6 307.3L146.5 305.4L147.4 303.6L148.3 301.9L149.3 300.2L150.2 298.6L151.1 297.0L152.0 295.5L153.0 294.0L153.9 292.6L154.8 291.2L155.7 289.8L156.6 288.5L157.6 287.3L158.5 286.1L159.4 285.0L160.3 283.9L161.3 282.9L162.2 281.9L163.1 280.9L164.0 279.9L165.0 279.0L165.9 278.1L166.8 277.3L167.7 276.5L168.7 275.8L169.6 275.1L170.5 274.5L171.4 273.8L172.4 273.2L173.3 272.6L174.2 272.0L175.1 271.4L176.0 270.9L177.0 270.3L177.9 269.8L178.8 269.4L179.7 268.9L180.7 268.5L181.6 268.0L182.5 267.6L183.4 267.3L184.4 266.9L185.3 266.6L186.2 266.3L187.1 265.9L188.1 265.6L189.0 265.3L189.9 265.0L190.8 264.7L191.8 264.5L192.7 264.2L193.6 264.0L194.5 263.7L195.4 263.5L196.4 263.3L197.3 263.1L198.2 262.9L199.1 262.7L200.1 262.5L201.0 262.3L201.9 262.2L202.8 262.0L203.8 261.9L204.7 261.8L205.6 261.6L206.5 261.5L207.5 261.4L208.4 261.3L209.3 261.1L210.2 261.0L211.2 260.9L212.1 260.8L213.0 260.7L213.9 260.7L214.8 260.6L215.8 260.5L216.7 260.4L217.6 260.3L218.5 260.2L219.5 260.2L220.4 260.1L221.3 260.0L222.2 259.9L223.2 259.9L224.1 259.8L225.0 259.7L225.9 259.6L226.9 259.6L227.8 259.5L228.7 259.4L229.6 259.4L230.5 259.3L231.5 259.3L232.4 259.2L233.3 259.1L234.2 259.1L235.2 259.0L236.1 259.0L237.0 258.9L237.9 258.9L238.9 258.8L239.8 258.8L240.7 258.7L241.6 258.7L242.6 258.6L243.5 258.6L244.4 258.6L245.3 258.5L246.3 258.5L247.2 258.5L248.1 258.4L249.0 258.4L249.9 258.4L250.9 258.4L251.8 258.3L252.7 258.3L253.6 258.3L254.6 258.2L255.5 258.2L256.4 258.2L257.3 258.2L258.3 258.1L259.2 258.1L260.1 258.1L261.0 258.1L262.0 258.1L262.9 258.0L263.8 258.0L264.7 258.0L265.7 258.0L266.6 257.9L267.5 257.9L268.4 257.9L269.3 257.9L270.3 257.9L271.2 257.9L272.1 257.8L273.0 257.8L274.0 257.8L274.9 257.8L275.8 257.8L276.7 257.8L277.7 257.8L278.6 257.8L279.5 257.7L280.4 257.7L281.4 257.7L282.3 257.7L283.2 257.7L284.1 257.7L285.1 257.7L286.0 257.7L286.9 257.7L287.8 257.7L288.7 257.6L289.7 257.6L290.6 257.6L291.5 257.6L292.4 257.6L293.4 257.6L294.3 257.6L295.2 257.6L296.1 257.6L297.1 257.6L298.0 257.6L298.9 257.5L299.8 257.5L300.8 257.5L301.7 257.5L302.6 257.5L303.5 257.5L304.4 257.5L305.4 257.5L306.3 257.5L307.2 257.5L308.1 257.5L309.1 257.5L310.0 257.5L310.9 257.5L311.8 257.5L312.8 257.5L313.7 257.4L314.6 257.4L315.5 257.4L316.5 257.4L317.4 257.4L318.3 257.4L319.2 257.4L320.2 257.4L321.1 257.4L322.0 257.4" fill="none" stroke="#faf8b0" stroke-opacity="1" stroke-width="2.10" stroke-linejoin="round" clip-path="url(#ca2)"/>
<path d="M45.8 311.7L46.7 312.5L47.6 313.2L48.6 314.0L49.5 314.8L50.4 315.5L51.3 316.2L52.3 316.9L53.2 317.6L54.1 318.3L55.0 318.9L56.0 319.5L56.9 320.1L57.8 320.7L58.7 321.2L59.7 321.7L60.6 322.2L61.5 322.7L62.4 323.1L63.4 323.5L64.3 323.9L65.2 324.3L66.1 324.7L67.0 325.0L68.0 325.4L68.9 325.8L69.8 326.2L70.7 326.6L71.7 327.0L72.6 327.5L73.5 328.0L74.4 328.5L75.4 329.0L76.3 329.5L77.2 330.1L78.1 330.7L79.1 331.3L80.0 332.0L80.9 332.6L81.8 333.3L82.7 334.1L83.7 334.8L84.6 335.6L85.5 336.5L86.4 337.5L87.4 338.4L88.3 339.5L89.2 340.5L90.1 341.7L91.1 342.9L92.0 344.2L92.9 345.6L93.8 346.9L94.8 348.3L95.7 349.8L96.6 351.4L97.5 353.0L98.5 354.5L99.4 356.0L100.3 357.4L101.2 358.6L102.1 359.7L103.1 360.8L104.0 361.8L104.9 362.6L105.8 363.3L106.8 363.9L107.7 364.5L108.6 365.1L109.5 365.5L110.5 365.8L111.4 365.9L112.3 365.8L113.2 365.6L114.2 365.2L115.1 364.8L116.0 364.3L116.9 363.7L117.9 362.7L118.8 361.5L119.7 360.1L120.6 358.7L121.5 357.0L122.5 355.1L123.4 353.1L124.3 351.1L125.2 349.1L126.2 347.2L127.1 345.4L128.0 343.6L128.9 341.8L129.9 339.9L130.8 338.1L131.7 336.2L132.6 334.3L133.6 332.3L134.5 330.4L135.4 328.4L136.3 326.4L137.3 324.5L138.2 322.5L139.1 320.6L140.0 318.6L140.9 316.7L141.9 314.8L142.8 312.9L143.7 311.0L144.6 309.1L145.6 307.3L146.5 305.4L147.4 303.6L148.3 301.9L149.3 300.2L150.2 298.6L151.1 297.0L152.0 295.5L153.0 294.0L153.9 292.6L154.8 291.2L155.7 289.8L156.6 288.5L157.6 287.3L158.5 286.1L159.4 285.0L160.3 283.9L161.3 282.9L162.2 281.9L163.1 280.9L164.0 279.9L165.0 279.0L165.9 278.1L166.8 277.3L167.7 276.5L168.7 275.8L169.6 275.1L170.5 274.5L171.4 273.8L172.4 273.2L173.3 272.6L174.2 272.0L175.1 271.4L176.0 270.9L177.0 270.3L177.9 269.8L178.8 269.4L179.7 268.9L180.7 268.5L181.6 268.0L182.5 267.6L183.4 267.3L184.4 266.9L185.3 266.6L186.2 266.3L187.1 265.9L188.1 265.6L189.0 265.3L189.9 265.0L190.8 264.7L191.8 264.5L192.7 264.2L193.6 264.0L194.5 263.7L195.4 263.5L196.4 263.3L197.3 263.1L198.2 262.9L199.1 262.7L200.1 262.5L201.0 262.3L201.9 262.2L202.8 262.0L203.8 261.9L204.7 261.8L205.6 261.6L206.5 261.5L207.5 261.4L208.4 261.3L209.3 261.1L210.2 261.0L211.2 260.9L212.1 260.8L213.0 260.7L213.9 260.7L214.8 260.6L215.8 260.5L216.7 260.4L217.6 260.3L218.5 260.2L219.5 260.2L220.4 260.1L221.3 260.0L222.2 259.9L223.2 259.9L224.1 259.8L225.0 259.7L225.9 259.6L226.9 259.6L227.8 259.5L228.7 259.4L229.6 259.4L230.5 259.3L231.5 259.3L232.4 259.2L233.3 259.1L234.2 259.1L235.2 259.0L236.1 259.0L237.0 258.9L237.9 258.9L238.9 258.8L239.8 258.8L240.7 258.7L241.6 258.7L242.6 258.6L243.5 258.6L244.4 258.6L245.3 258.5L246.3 258.5L247.2 258.5L248.1 258.4L249.0 258.4L249.9 258.4L250.9 258.4L251.8 258.3L252.7 258.3L253.6 258.3L254.6 258.2L255.5 258.2L256.4 258.2L257.3 258.2L258.3 258.1L259.2 258.1L260.1 258.1L261.0 258.1L262.0 258.1L262.9 258.0L263.8 258.0L264.7 258.0L265.7 258.0L266.6 257.9L267.5 257.9L268.4 257.9L269.3 257.9L270.3 257.9L271.2 257.9L272.1 257.8L273.0 257.8L274.0 257.8L274.9 257.8L275.8 257.8L276.7 257.8L277.7 257.8L278.6 257.8L279.5 257.7L280.4 257.7L281.4 257.7L282.3 257.7L283.2 257.7L284.1 257.7L285.1 257.7L286.0 257.7L286.9 257.7L287.8 257.7L288.7 257.6L289.7 257.6L290.6 257.6L291.5 257.6L292.4 257.6L293.4 257.6L294.3 257.6L295.2 257.6L296.1 257.6L297.1 257.6L298.0 257.6L298.9 257.5L299.8 257.5L300.8 257.5L301.7 257.5L302.6 257.5L303.5 257.5L304.4 257.5L305.4 257.5L306.3 257.5L307.2 257.5L308.1 257.5L309.1 257.5L310.0 257.5L310.9 257.5L311.8 257.5L312.8 257.5L313.7 257.4L314.6 257.4L315.5 257.4L316.5 257.4L317.4 257.4L318.3 257.4L319.2 257.4L320.2 257.4L321.1 257.4L322.0 257.4" fill="none" stroke="#f5f050" stroke-width="1.20" stroke-linejoin="round" clip-path="url(#ca2)"/>
<path d="M45.8 305.7L46.7 306.2L47.6 306.8L48.6 307.3L49.5 307.8L50.4 308.4L51.3 308.9L52.3 309.5L53.2 310.1L54.1 310.7L55.0 311.3L56.0 311.9L56.9 312.5L57.8 313.1L58.7 313.8L59.7 314.4L60.6 315.1L61.5 315.8L62.4 316.5L63.4 317.1L64.3 317.9L65.2 318.6L66.1 319.3L67.0 320.0L68.0 320.8L68.9 321.5L69.8 322.3L70.7 323.1L71.7 323.9L72.6 324.7L73.5 325.5L74.4 326.3L75.4 327.1L76.3 328.0L77.2 328.9L78.1 329.8L79.1 330.8L80.0 331.7L80.9 332.6L81.8 333.5L82.7 334.4L83.7 335.3L84.6 336.1L85.5 336.9L86.4 337.6L87.4 338.3L88.3 339.1L89.2 339.8L90.1 340.6L91.1 341.2L92.0 341.8L92.9 342.3L93.8 342.7L94.8 343.0L95.7 343.3L96.6 343.5L97.5 343.6L98.5 343.7L99.4 343.8L100.3 343.6L101.2 343.3L102.1 342.8L103.1 342.2L104.0 341.5L104.9 340.7L105.8 340.0L106.8 339.3L107.7 338.5L108.6 337.7L109.5 336.7L110.5 335.8L111.4 334.7L112.3 333.6L113.2 332.4L114.2 331.1L115.1 329.7L116.0 328.2L116.9 326.4L117.9 324.4L118.8 322.2L119.7 320.0L120.6 317.9L121.5 315.7L122.5 313.5L123.4 311.4L124.3 309.5L125.2 307.7L126.2 306.1L127.1 304.4L128.0 302.9L128.9 301.5L129.9 300.2L130.8 298.9L131.7 297.8L132.6 296.6L133.6 295.6L134.5 294.5L135.4 293.5L136.3 292.6L137.3 291.7L138.2 290.8L139.1 290.0L140.0 289.3L140.9 288.6L141.9 288.0L142.8 287.4L143.7 286.8L144.6 286.3L145.6 285.8L146.5 285.3L147.4 284.9L148.3 284.5L149.3 284.1L150.2 283.7L151.1 283.3L152.0 283.0L153.0 282.6L153.9 282.3L154.8 282.0L155.7 281.7L156.6 281.4L157.6 281.1L158.5 280.8L159.4 280.5L160.3 280.3L161.3 280.1L162.2 279.9L163.1 279.8L164.0 279.7L165.0 279.5L165.9 279.4L166.8 279.2L167.7 279.1L168.7 279.0L169.6 278.9L170.5 278.7L171.4 278.6L172.4 278.5L173.3 278.4L174.2 278.3L175.1 278.2L176.0 278.1L177.0 278.1L177.9 278.0L178.8 277.9L179.7 277.9L180.7 277.9L181.6 277.8L182.5 277.8L183.4 277.8L184.4 277.8L185.3 277.8L186.2 277.8L187.1 277.8L188.1 277.8L189.0 277.8L189.9 277.8L190.8 277.8L191.8 277.8L192.7 277.8L193.6 277.8L194.5 277.8L195.4 277.8L196.4 277.8L197.3 277.8L198.2 277.8L199.1 277.8L200.1 277.8L201.0 277.8L201.9 277.8L202.8 277.8L203.8 277.8L204.7 277.8L205.6 277.8L206.5 277.8L207.5 277.8L208.4 277.8L209.3 277.8L210.2 277.8L211.2 277.8L212.1 277.8L213.0 277.8L213.9 277.8L214.8 277.8L215.8 277.8L216.7 277.8L217.6 277.8L218.5 277.8L219.5 277.8L220.4 277.8L221.3 277.8L222.2 277.9L223.2 277.9L224.1 277.9L225.0 277.9L225.9 277.9L226.9 278.0L227.8 278.0L228.7 278.0L229.6 278.0L230.5 278.1L231.5 278.1L232.4 278.1L233.3 278.2L234.2 278.2L235.2 278.2L236.1 278.2L237.0 278.3L237.9 278.3L238.9 278.3L239.8 278.4L240.7 278.4L241.6 278.4L242.6 278.4L243.5 278.5L244.4 278.5L245.3 278.5L246.3 278.5L247.2 278.5L248.1 278.5L249.0 278.6L249.9 278.6L250.9 278.6L251.8 278.6L252.7 278.6L253.6 278.6L254.6 278.6L255.5 278.7L256.4 278.7L257.3 278.7L258.3 278.7L259.2 278.7L260.1 278.7L261.0 278.7L262.0 278.8L262.9 278.8L263.8 278.8L264.7 278.8L265.7 278.8L266.6 278.8L267.5 278.8L268.4 278.8L269.3 278.8L270.3 278.9L271.2 278.9L272.1 278.9L273.0 278.9L274.0 278.9L274.9 278.9L275.8 278.9L276.7 278.9L277.7 278.9L278.6 279.0L279.5 279.0L280.4 279.0L281.4 279.0L282.3 279.0L283.2 279.0L284.1 279.0L285.1 279.0L286.0 279.0L286.9 279.1L287.8 279.1L288.7 279.1L289.7 279.1L290.6 279.1L291.5 279.1L292.4 279.1L293.4 279.1L294.3 279.1L295.2 279.1L296.1 279.2L297.1 279.2L298.0 279.2L298.9 279.2L299.8 279.2L300.8 279.2L301.7 279.2L302.6 279.2L303.5 279.2L304.4 279.2L305.4 279.3L306.3 279.3L307.2 279.3L308.1 279.3L309.1 279.3L310.0 279.3L310.9 279.3L311.8 279.3L312.8 279.3L313.7 279.3L314.6 279.4L315.5 279.4L316.5 279.4L317.4 279.4L318.3 279.4L319.2 279.4L320.2 279.4L321.1 279.4L322.0 279.4" fill="none" stroke="#a6eda6" stroke-opacity="1" stroke-width="2.10" stroke-linejoin="round" clip-path="url(#ca2)"/>
<path d="M45.8 305.7L46.7 306.2L47.6 306.8L48.6 307.3L49.5 307.8L50.4 308.4L51.3 308.9L52.3 309.5L53.2 310.1L54.1 310.7L55.0 311.3L56.0 311.9L56.9 312.5L57.8 313.1L58.7 313.8L59.7 314.4L60.6 315.1L61.5 315.8L62.4 316.5L63.4 317.1L64.3 317.9L65.2 318.6L66.1 319.3L67.0 320.0L68.0 320.8L68.9 321.5L69.8 322.3L70.7 323.1L71.7 323.9L72.6 324.7L73.5 325.5L74.4 326.3L75.4 327.1L76.3 328.0L77.2 328.9L78.1 329.8L79.1 330.8L80.0 331.7L80.9 332.6L81.8 333.5L82.7 334.4L83.7 335.3L84.6 336.1L85.5 336.9L86.4 337.6L87.4 338.3L88.3 339.1L89.2 339.8L90.1 340.6L91.1 341.2L92.0 341.8L92.9 342.3L93.8 342.7L94.8 343.0L95.7 343.3L96.6 343.5L97.5 343.6L98.5 343.7L99.4 343.8L100.3 343.6L101.2 343.3L102.1 342.8L103.1 342.2L104.0 341.5L104.9 340.7L105.8 340.0L106.8 339.3L107.7 338.5L108.6 337.7L109.5 336.7L110.5 335.8L111.4 334.7L112.3 333.6L113.2 332.4L114.2 331.1L115.1 329.7L116.0 328.2L116.9 326.4L117.9 324.4L118.8 322.2L119.7 320.0L120.6 317.9L121.5 315.7L122.5 313.5L123.4 311.4L124.3 309.5L125.2 307.7L126.2 306.1L127.1 304.4L128.0 302.9L128.9 301.5L129.9 300.2L130.8 298.9L131.7 297.8L132.6 296.6L133.6 295.6L134.5 294.5L135.4 293.5L136.3 292.6L137.3 291.7L138.2 290.8L139.1 290.0L140.0 289.3L140.9 288.6L141.9 288.0L142.8 287.4L143.7 286.8L144.6 286.3L145.6 285.8L146.5 285.3L147.4 284.9L148.3 284.5L149.3 284.1L150.2 283.7L151.1 283.3L152.0 283.0L153.0 282.6L153.9 282.3L154.8 282.0L155.7 281.7L156.6 281.4L157.6 281.1L158.5 280.8L159.4 280.5L160.3 280.3L161.3 280.1L162.2 279.9L163.1 279.8L164.0 279.7L165.0 279.5L165.9 279.4L166.8 279.2L167.7 279.1L168.7 279.0L169.6 278.9L170.5 278.7L171.4 278.6L172.4 278.5L173.3 278.4L174.2 278.3L175.1 278.2L176.0 278.1L177.0 278.1L177.9 278.0L178.8 277.9L179.7 277.9L180.7 277.9L181.6 277.8L182.5 277.8L183.4 277.8L184.4 277.8L185.3 277.8L186.2 277.8L187.1 277.8L188.1 277.8L189.0 277.8L189.9 277.8L190.8 277.8L191.8 277.8L192.7 277.8L193.6 277.8L194.5 277.8L195.4 277.8L196.4 277.8L197.3 277.8L198.2 277.8L199.1 277.8L200.1 277.8L201.0 277.8L201.9 277.8L202.8 277.8L203.8 277.8L204.7 277.8L205.6 277.8L206.5 277.8L207.5 277.8L208.4 277.8L209.3 277.8L210.2 277.8L211.2 277.8L212.1 277.8L213.0 277.8L213.9 277.8L214.8 277.8L215.8 277.8L216.7 277.8L217.6 277.8L218.5 277.8L219.5 277.8L220.4 277.8L221.3 277.8L222.2 277.9L223.2 277.9L224.1 277.9L225.0 277.9L225.9 277.9L226.9 278.0L227.8 278.0L228.7 278.0L229.6 278.0L230.5 278.1L231.5 278.1L232.4 278.1L233.3 278.2L234.2 278.2L235.2 278.2L236.1 278.2L237.0 278.3L237.9 278.3L238.9 278.3L239.8 278.4L240.7 278.4L241.6 278.4L242.6 278.4L243.5 278.5L244.4 278.5L245.3 278.5L246.3 278.5L247.2 278.5L248.1 278.5L249.0 278.6L249.9 278.6L250.9 278.6L251.8 278.6L252.7 278.6L253.6 278.6L254.6 278.6L255.5 278.7L256.4 278.7L257.3 278.7L258.3 278.7L259.2 278.7L260.1 278.7L261.0 278.7L262.0 278.8L262.9 278.8L263.8 278.8L264.7 278.8L265.7 278.8L266.6 278.8L267.5 278.8L268.4 278.8L269.3 278.8L270.3 278.9L271.2 278.9L272.1 278.9L273.0 278.9L274.0 278.9L274.9 278.9L275.8 278.9L276.7 278.9L277.7 278.9L278.6 279.0L279.5 279.0L280.4 279.0L281.4 279.0L282.3 279.0L283.2 279.0L284.1 279.0L285.1 279.0L286.0 279.0L286.9 279.1L287.8 279.1L288.7 279.1L289.7 279.1L290.6 279.1L291.5 279.1L292.4 279.1L293.4 279.1L294.3 279.1L295.2 279.1L296.1 279.2L297.1 279.2L298.0 279.2L298.9 279.2L299.8 279.2L300.8 279.2L301.7 279.2L302.6 279.2L303.5 279.2L304.4 279.2L305.4 279.3L306.3 279.3L307.2 279.3L308.1 279.3L309.1 279.3L310.0 279.3L310.9 279.3L311.8 279.3L312.8 279.3L313.7 279.3L314.6 279.4L315.5 279.4L316.5 279.4L317.4 279.4L318.3 279.4L319.2 279.4L320.2 279.4L321.1 279.4L322.0 279.4" fill="none" stroke="#3ad93a" stroke-width="1.20" stroke-linejoin="round" clip-path="url(#ca2)"/>
<path d="M45.8 303.8L46.7 304.1L47.6 304.5L48.6 304.9L49.5 305.3L50.4 305.8L51.3 306.2L52.3 306.7L53.2 307.2L54.1 307.7L55.0 308.3L56.0 308.8L56.9 309.4L57.8 309.9L58.7 310.5L59.7 311.1L60.6 311.8L61.5 312.4L62.4 313.1L63.4 313.9L64.3 314.6L65.2 315.4L66.1 316.2L67.0 317.0L68.0 317.8L68.9 318.7L69.8 319.5L70.7 320.4L71.7 321.3L72.6 322.2L73.5 323.0L74.4 323.9L75.4 324.9L76.3 325.9L77.2 326.9L78.1 328.0L79.1 329.0L80.0 330.1L80.9 331.1L81.8 332.1L82.7 333.0L83.7 333.9L84.6 334.8L85.5 335.8L86.4 336.6L87.4 337.4L88.3 338.0L89.2 338.5L90.1 338.9L91.1 339.3L92.0 339.6L92.9 339.7L93.8 339.7L94.8 339.4L95.7 339.0L96.6 338.3L97.5 337.6L98.5 336.7L99.4 335.9L100.3 334.8L101.2 333.4L102.1 331.7L103.1 329.9L104.0 328.0L104.9 326.0L105.8 324.1L106.8 322.4L107.7 320.7L108.6 319.0L109.5 317.4L110.5 315.7L111.4 314.0L112.3 312.4L113.2 310.7L114.2 309.0L115.1 307.3L116.0 305.5L116.9 303.6L117.9 301.9L118.8 300.3L119.7 299.1L120.6 298.1L121.5 297.3L122.5 296.7L123.4 296.0L124.3 295.4L125.2 294.7L126.2 294.1L127.1 293.4L128.0 292.8L128.9 292.2L129.9 291.7L130.8 291.3L131.7 290.8L132.6 290.4L133.6 290.0L134.5 289.6L135.4 289.3L136.3 288.9L137.3 288.6L138.2 288.3L139.1 288.1L140.0 287.8L140.9 287.7L141.9 287.5L142.8 287.4L143.7 287.2L144.6 287.1L145.6 286.9L146.5 286.8L147.4 286.7L148.3 286.6L149.3 286.4L150.2 286.3L151.1 286.2L152.0 286.1L153.0 286.0L153.9 285.9L154.8 285.9L155.7 285.8L156.6 285.7L157.6 285.7L158.5 285.6L159.4 285.6L160.3 285.5L161.3 285.5L162.2 285.5L163.1 285.5L164.0 285.5L165.0 285.5L165.9 285.5L166.8 285.5L167.7 285.5L168.7 285.5L169.6 285.5L170.5 285.5L171.4 285.5L172.4 285.5L173.3 285.5L174.2 285.5L175.1 285.5L176.0 285.5L177.0 285.5L177.9 285.5L178.8 285.5L179.7 285.5L180.7 285.5L181.6 285.5L182.5 285.5L183.4 285.5L184.4 285.5L185.3 285.5L186.2 285.5L187.1 285.5L188.1 285.5L189.0 285.5L189.9 285.6L190.8 285.6L191.8 285.6L192.7 285.6L193.6 285.6L194.5 285.6L195.4 285.7L196.4 285.7L197.3 285.7L198.2 285.7L199.1 285.8L200.1 285.8L201.0 285.8L201.9 285.8L202.8 285.9L203.8 285.9L204.7 285.9L205.6 286.0L206.5 286.0L207.5 286.0L208.4 286.0L209.3 286.1L210.2 286.1L211.2 286.1L212.1 286.2L213.0 286.2L213.9 286.2L214.8 286.3L215.8 286.3L216.7 286.3L217.6 286.3L218.5 286.4L219.5 286.4L220.4 286.5L221.3 286.5L222.2 286.5L223.2 286.6L224.1 286.6L225.0 286.7L225.9 286.7L226.9 286.7L227.8 286.8L228.7 286.8L229.6 286.9L230.5 286.9L231.5 287.0L232.4 287.0L233.3 287.1L234.2 287.1L235.2 287.1L236.1 287.2L237.0 287.2L237.9 287.3L238.9 287.3L239.8 287.3L240.7 287.4L241.6 287.4L242.6 287.5L243.5 287.5L244.4 287.5L245.3 287.5L246.3 287.6L247.2 287.6L248.1 287.6L249.0 287.6L249.9 287.7L250.9 287.7L251.8 287.7L252.7 287.7L253.6 287.7L254.6 287.8L255.5 287.8L256.4 287.8L257.3 287.8L258.3 287.8L259.2 287.9L260.1 287.9L261.0 287.9L262.0 287.9L262.9 287.9L263.8 288.0L264.7 288.0L265.7 288.0L266.6 288.0L267.5 288.0L268.4 288.0L269.3 288.0L270.3 288.1L271.2 288.1L272.1 288.1L273.0 288.1L274.0 288.1L274.9 288.1L275.8 288.1L276.7 288.1L277.7 288.2L278.6 288.2L279.5 288.2L280.4 288.2L281.4 288.2L282.3 288.2L283.2 288.2L284.1 288.2L285.1 288.2L286.0 288.2L286.9 288.3L287.8 288.3L288.7 288.3L289.7 288.3L290.6 288.3L291.5 288.3L292.4 288.3L293.4 288.3L294.3 288.3L295.2 288.3L296.1 288.3L297.1 288.3L298.0 288.4L298.9 288.4L299.8 288.4L300.8 288.4L301.7 288.4L302.6 288.4L303.5 288.4L304.4 288.4L305.4 288.4L306.3 288.4L307.2 288.4L308.1 288.4L309.1 288.4L310.0 288.4L310.9 288.4L311.8 288.5L312.8 288.5L313.7 288.5L314.6 288.5L315.5 288.5L316.5 288.5L317.4 288.5L318.3 288.5L319.2 288.5L320.2 288.5L321.1 288.5L322.0 288.5" fill="none" stroke="#a5edf1" stroke-opacity="1" stroke-width="2.10" stroke-linejoin="round" clip-path="url(#ca2)"/>
<path d="M45.8 303.8L46.7 304.1L47.6 304.5L48.6 304.9L49.5 305.3L50.4 305.8L51.3 306.2L52.3 306.7L53.2 307.2L54.1 307.7L55.0 308.3L56.0 308.8L56.9 309.4L57.8 309.9L58.7 310.5L59.7 311.1L60.6 311.8L61.5 312.4L62.4 313.1L63.4 313.9L64.3 314.6L65.2 315.4L66.1 316.2L67.0 317.0L68.0 317.8L68.9 318.7L69.8 319.5L70.7 320.4L71.7 321.3L72.6 322.2L73.5 323.0L74.4 323.9L75.4 324.9L76.3 325.9L77.2 326.9L78.1 328.0L79.1 329.0L80.0 330.1L80.9 331.1L81.8 332.1L82.7 333.0L83.7 333.9L84.6 334.8L85.5 335.8L86.4 336.6L87.4 337.4L88.3 338.0L89.2 338.5L90.1 338.9L91.1 339.3L92.0 339.6L92.9 339.7L93.8 339.7L94.8 339.4L95.7 339.0L96.6 338.3L97.5 337.6L98.5 336.7L99.4 335.9L100.3 334.8L101.2 333.4L102.1 331.7L103.1 329.9L104.0 328.0L104.9 326.0L105.8 324.1L106.8 322.4L107.7 320.7L108.6 319.0L109.5 317.4L110.5 315.7L111.4 314.0L112.3 312.4L113.2 310.7L114.2 309.0L115.1 307.3L116.0 305.5L116.9 303.6L117.9 301.9L118.8 300.3L119.7 299.1L120.6 298.1L121.5 297.3L122.5 296.7L123.4 296.0L124.3 295.4L125.2 294.7L126.2 294.1L127.1 293.4L128.0 292.8L128.9 292.2L129.9 291.7L130.8 291.3L131.7 290.8L132.6 290.4L133.6 290.0L134.5 289.6L135.4 289.3L136.3 288.9L137.3 288.6L138.2 288.3L139.1 288.1L140.0 287.8L140.9 287.7L141.9 287.5L142.8 287.4L143.7 287.2L144.6 287.1L145.6 286.9L146.5 286.8L147.4 286.7L148.3 286.6L149.3 286.4L150.2 286.3L151.1 286.2L152.0 286.1L153.0 286.0L153.9 285.9L154.8 285.9L155.7 285.8L156.6 285.7L157.6 285.7L158.5 285.6L159.4 285.6L160.3 285.5L161.3 285.5L162.2 285.5L163.1 285.5L164.0 285.5L165.0 285.5L165.9 285.5L166.8 285.5L167.7 285.5L168.7 285.5L169.6 285.5L170.5 285.5L171.4 285.5L172.4 285.5L173.3 285.5L174.2 285.5L175.1 285.5L176.0 285.5L177.0 285.5L177.9 285.5L178.8 285.5L179.7 285.5L180.7 285.5L181.6 285.5L182.5 285.5L183.4 285.5L184.4 285.5L185.3 285.5L186.2 285.5L187.1 285.5L188.1 285.5L189.0 285.5L189.9 285.6L190.8 285.6L191.8 285.6L192.7 285.6L193.6 285.6L194.5 285.6L195.4 285.7L196.4 285.7L197.3 285.7L198.2 285.7L199.1 285.8L200.1 285.8L201.0 285.8L201.9 285.8L202.8 285.9L203.8 285.9L204.7 285.9L205.6 286.0L206.5 286.0L207.5 286.0L208.4 286.0L209.3 286.1L210.2 286.1L211.2 286.1L212.1 286.2L213.0 286.2L213.9 286.2L214.8 286.3L215.8 286.3L216.7 286.3L217.6 286.3L218.5 286.4L219.5 286.4L220.4 286.5L221.3 286.5L222.2 286.5L223.2 286.6L224.1 286.6L225.0 286.7L225.9 286.7L226.9 286.7L227.8 286.8L228.7 286.8L229.6 286.9L230.5 286.9L231.5 287.0L232.4 287.0L233.3 287.1L234.2 287.1L235.2 287.1L236.1 287.2L237.0 287.2L237.9 287.3L238.9 287.3L239.8 287.3L240.7 287.4L241.6 287.4L242.6 287.5L243.5 287.5L244.4 287.5L245.3 287.5L246.3 287.6L247.2 287.6L248.1 287.6L249.0 287.6L249.9 287.7L250.9 287.7L251.8 287.7L252.7 287.7L253.6 287.7L254.6 287.8L255.5 287.8L256.4 287.8L257.3 287.8L258.3 287.8L259.2 287.9L260.1 287.9L261.0 287.9L262.0 287.9L262.9 287.9L263.8 288.0L264.7 288.0L265.7 288.0L266.6 288.0L267.5 288.0L268.4 288.0L269.3 288.0L270.3 288.1L271.2 288.1L272.1 288.1L273.0 288.1L274.0 288.1L274.9 288.1L275.8 288.1L276.7 288.1L277.7 288.2L278.6 288.2L279.5 288.2L280.4 288.2L281.4 288.2L282.3 288.2L283.2 288.2L284.1 288.2L285.1 288.2L286.0 288.2L286.9 288.3L287.8 288.3L288.7 288.3L289.7 288.3L290.6 288.3L291.5 288.3L292.4 288.3L293.4 288.3L294.3 288.3L295.2 288.3L296.1 288.3L297.1 288.3L298.0 288.4L298.9 288.4L299.8 288.4L300.8 288.4L301.7 288.4L302.6 288.4L303.5 288.4L304.4 288.4L305.4 288.4L306.3 288.4L307.2 288.4L308.1 288.4L309.1 288.4L310.0 288.4L310.9 288.4L311.8 288.5L312.8 288.5L313.7 288.5L314.6 288.5L315.5 288.5L316.5 288.5L317.4 288.5L318.3 288.5L319.2 288.5L320.2 288.5L321.1 288.5L322.0 288.5" fill="none" stroke="#38d8e0" stroke-width="1.20" stroke-linejoin="round" clip-path="url(#ca2)"/>
<path d="M45.8 304.7L46.7 305.0L47.6 305.4L48.6 305.7L49.5 306.1L50.4 306.5L51.3 307.0L52.3 307.4L53.2 307.9L54.1 308.4L55.0 308.9L56.0 309.4L56.9 310.0L57.8 310.5L58.7 311.1L59.7 311.7L60.6 312.3L61.5 313.0L62.4 313.7L63.4 314.4L64.3 315.2L65.2 315.9L66.1 316.7L67.0 317.6L68.0 318.4L68.9 319.2L69.8 320.1L70.7 321.0L71.7 321.9L72.6 322.7L73.5 323.6L74.4 324.5L75.4 325.5L76.3 326.5L77.2 327.5L78.1 328.6L79.1 329.6L80.0 330.7L80.9 331.7L81.8 332.7L82.7 333.6L83.7 334.5L84.6 335.4L85.5 336.3L86.4 337.2L87.4 338.0L88.3 338.6L89.2 339.0L90.1 339.5L91.1 339.9L92.0 340.2L92.9 340.3L93.8 340.3L94.8 340.0L95.7 339.5L96.6 338.9L97.5 338.2L98.5 337.3L99.4 336.5L100.3 335.4L101.2 334.0L102.1 332.3L103.1 330.5L104.0 328.6L104.9 326.6L105.8 324.7L106.8 323.0L107.7 321.3L108.6 319.6L109.5 318.0L110.5 316.3L111.4 314.6L112.3 313.0L113.2 311.3L114.2 309.6L115.1 307.9L116.0 306.0L116.9 304.2L117.9 302.5L118.8 300.9L119.7 299.6L120.6 298.7L121.5 298.0L122.5 297.4L123.4 296.7L124.3 296.1L125.2 295.4L126.2 294.8L127.1 294.1L128.0 293.5L128.9 292.9L129.9 292.3L130.8 291.9L131.7 291.4L132.6 291.0L133.6 290.6L134.5 290.2L135.4 289.9L136.3 289.5L137.3 289.2L138.2 288.9L139.1 288.7L140.0 288.4L140.9 288.3L141.9 288.1L142.8 287.9L143.7 287.8L144.6 287.6L145.6 287.5L146.5 287.3L147.4 287.2L148.3 287.1L149.3 287.0L150.2 286.8L151.1 286.7L152.0 286.6L153.0 286.5L153.9 286.4L154.8 286.3L155.7 286.3L156.6 286.2L157.6 286.1L158.5 286.1L159.4 286.0L160.3 286.0L161.3 286.0L162.2 286.0L163.1 286.0L164.0 286.0L165.0 286.0L165.9 286.0L166.8 286.0L167.7 286.0L168.7 286.0L169.6 286.0L170.5 286.0L171.4 286.0L172.4 286.0L173.3 286.0L174.2 286.0L175.1 286.0L176.0 286.0L177.0 286.0L177.9 286.0L178.8 286.1L179.7 286.1L180.7 286.1L181.6 286.1L182.5 286.1L183.4 286.1L184.4 286.1L185.3 286.1L186.2 286.1L187.1 286.2L188.1 286.2L189.0 286.2L189.9 286.2L190.8 286.2L191.8 286.3L192.7 286.3L193.6 286.3L194.5 286.3L195.4 286.4L196.4 286.4L197.3 286.4L198.2 286.5L199.1 286.5L200.1 286.5L201.0 286.6L201.9 286.6L202.8 286.6L203.8 286.7L204.7 286.7L205.6 286.7L206.5 286.8L207.5 286.8L208.4 286.9L209.3 286.9L210.2 286.9L211.2 287.0L212.1 287.0L213.0 287.1L213.9 287.1L214.8 287.1L215.8 287.2L216.7 287.2L217.6 287.3L218.5 287.3L219.5 287.4L220.4 287.4L221.3 287.5L222.2 287.5L223.2 287.6L224.1 287.6L225.0 287.7L225.9 287.8L226.9 287.8L227.8 287.9L228.7 287.9L229.6 288.0L230.5 288.1L231.5 288.1L232.4 288.2L233.3 288.2L234.2 288.3L235.2 288.4L236.1 288.4L237.0 288.5L237.9 288.6L238.9 288.6L239.8 288.7L240.7 288.7L241.6 288.8L242.6 288.8L243.5 288.9L244.4 288.9L245.3 289.0L246.3 289.0L247.2 289.1L248.1 289.1L249.0 289.2L249.9 289.2L250.9 289.3L251.8 289.3L252.7 289.3L253.6 289.4L254.6 289.4L255.5 289.5L256.4 289.5L257.3 289.5L258.3 289.6L259.2 289.6L260.1 289.7L261.0 289.7L262.0 289.7L262.9 289.8L263.8 289.8L264.7 289.8L265.7 289.9L266.6 289.9L267.5 289.9L268.4 290.0L269.3 290.0L270.3 290.0L271.2 290.1L272.1 290.1L273.0 290.1L274.0 290.2L274.9 290.2L275.8 290.2L276.7 290.3L277.7 290.3L278.6 290.3L279.5 290.4L280.4 290.4L281.4 290.4L282.3 290.5L283.2 290.5L284.1 290.5L285.1 290.6L286.0 290.6L286.9 290.6L287.8 290.7L288.7 290.7L289.7 290.7L290.6 290.8L291.5 290.8L292.4 290.8L293.4 290.9L294.3 290.9L295.2 290.9L296.1 291.0L297.1 291.0L298.0 291.0L298.9 291.0L299.8 291.1L300.8 291.1L301.7 291.1L302.6 291.2L303.5 291.2L304.4 291.2L305.4 291.3L306.3 291.3L307.2 291.3L308.1 291.3L309.1 291.4L310.0 291.4L310.9 291.4L311.8 291.5L312.8 291.5L313.7 291.5L314.6 291.5L315.5 291.6L316.5 291.6L317.4 291.6L318.3 291.6L319.2 291.7L320.2 291.7L321.1 291.7L322.0 291.8" fill="none" stroke="#9fd6f8" stroke-opacity="1" stroke-width="2.10" stroke-linejoin="round" clip-path="url(#ca2)"/>
<path d="M45.8 304.7L46.7 305.0L47.6 305.4L48.6 305.7L49.5 306.1L50.4 306.5L51.3 307.0L52.3 307.4L53.2 307.9L54.1 308.4L55.0 308.9L56.0 309.4L56.9 310.0L57.8 310.5L58.7 311.1L59.7 311.7L60.6 312.3L61.5 313.0L62.4 313.7L63.4 314.4L64.3 315.2L65.2 315.9L66.1 316.7L67.0 317.6L68.0 318.4L68.9 319.2L69.8 320.1L70.7 321.0L71.7 321.9L72.6 322.7L73.5 323.6L74.4 324.5L75.4 325.5L76.3 326.5L77.2 327.5L78.1 328.6L79.1 329.6L80.0 330.7L80.9 331.7L81.8 332.7L82.7 333.6L83.7 334.5L84.6 335.4L85.5 336.3L86.4 337.2L87.4 338.0L88.3 338.6L89.2 339.0L90.1 339.5L91.1 339.9L92.0 340.2L92.9 340.3L93.8 340.3L94.8 340.0L95.7 339.5L96.6 338.9L97.5 338.2L98.5 337.3L99.4 336.5L100.3 335.4L101.2 334.0L102.1 332.3L103.1 330.5L104.0 328.6L104.9 326.6L105.8 324.7L106.8 323.0L107.7 321.3L108.6 319.6L109.5 318.0L110.5 316.3L111.4 314.6L112.3 313.0L113.2 311.3L114.2 309.6L115.1 307.9L116.0 306.0L116.9 304.2L117.9 302.5L118.8 300.9L119.7 299.6L120.6 298.7L121.5 298.0L122.5 297.4L123.4 296.7L124.3 296.1L125.2 295.4L126.2 294.8L127.1 294.1L128.0 293.5L128.9 292.9L129.9 292.3L130.8 291.9L131.7 291.4L132.6 291.0L133.6 290.6L134.5 290.2L135.4 289.9L136.3 289.5L137.3 289.2L138.2 288.9L139.1 288.7L140.0 288.4L140.9 288.3L141.9 288.1L142.8 287.9L143.7 287.8L144.6 287.6L145.6 287.5L146.5 287.3L147.4 287.2L148.3 287.1L149.3 287.0L150.2 286.8L151.1 286.7L152.0 286.6L153.0 286.5L153.9 286.4L154.8 286.3L155.7 286.3L156.6 286.2L157.6 286.1L158.5 286.1L159.4 286.0L160.3 286.0L161.3 286.0L162.2 286.0L163.1 286.0L164.0 286.0L165.0 286.0L165.9 286.0L166.8 286.0L167.7 286.0L168.7 286.0L169.6 286.0L170.5 286.0L171.4 286.0L172.4 286.0L173.3 286.0L174.2 286.0L175.1 286.0L176.0 286.0L177.0 286.0L177.9 286.0L178.8 286.1L179.7 286.1L180.7 286.1L181.6 286.1L182.5 286.1L183.4 286.1L184.4 286.1L185.3 286.1L186.2 286.1L187.1 286.2L188.1 286.2L189.0 286.2L189.9 286.2L190.8 286.2L191.8 286.3L192.7 286.3L193.6 286.3L194.5 286.3L195.4 286.4L196.4 286.4L197.3 286.4L198.2 286.5L199.1 286.5L200.1 286.5L201.0 286.6L201.9 286.6L202.8 286.6L203.8 286.7L204.7 286.7L205.6 286.7L206.5 286.8L207.5 286.8L208.4 286.9L209.3 286.9L210.2 286.9L211.2 287.0L212.1 287.0L213.0 287.1L213.9 287.1L214.8 287.1L215.8 287.2L216.7 287.2L217.6 287.3L218.5 287.3L219.5 287.4L220.4 287.4L221.3 287.5L222.2 287.5L223.2 287.6L224.1 287.6L225.0 287.7L225.9 287.8L226.9 287.8L227.8 287.9L228.7 287.9L229.6 288.0L230.5 288.1L231.5 288.1L232.4 288.2L233.3 288.2L234.2 288.3L235.2 288.4L236.1 288.4L237.0 288.5L237.9 288.6L238.9 288.6L239.8 288.7L240.7 288.7L241.6 288.8L242.6 288.8L243.5 288.9L244.4 288.9L245.3 289.0L246.3 289.0L247.2 289.1L248.1 289.1L249.0 289.2L249.9 289.2L250.9 289.3L251.8 289.3L252.7 289.3L253.6 289.4L254.6 289.4L255.5 289.5L256.4 289.5L257.3 289.5L258.3 289.6L259.2 289.6L260.1 289.7L261.0 289.7L262.0 289.7L262.9 289.8L263.8 289.8L264.7 289.8L265.7 289.9L266.6 289.9L267.5 289.9L268.4 290.0L269.3 290.0L270.3 290.0L271.2 290.1L272.1 290.1L273.0 290.1L274.0 290.2L274.9 290.2L275.8 290.2L276.7 290.3L277.7 290.3L278.6 290.3L279.5 290.4L280.4 290.4L281.4 290.4L282.3 290.5L283.2 290.5L284.1 290.5L285.1 290.6L286.0 290.6L286.9 290.6L287.8 290.7L288.7 290.7L289.7 290.7L290.6 290.8L291.5 290.8L292.4 290.8L293.4 290.9L294.3 290.9L295.2 290.9L296.1 291.0L297.1 291.0L298.0 291.0L298.9 291.0L299.8 291.1L300.8 291.1L301.7 291.1L302.6 291.2L303.5 291.2L304.4 291.2L305.4 291.3L306.3 291.3L307.2 291.3L308.1 291.3L309.1 291.4L310.0 291.4L310.9 291.4L311.8 291.5L312.8 291.5L313.7 291.5L314.6 291.5L315.5 291.6L316.5 291.6L317.4 291.6L318.3 291.6L319.2 291.7L320.2 291.7L321.1 291.7L322.0 291.8" fill="none" stroke="#2aa5f0" stroke-width="1.20" stroke-linejoin="round" clip-path="url(#ca2)"/>
<path d="M241 325.60H268.4" fill="none" stroke="#f8a7d4" stroke-opacity="1" stroke-width="2.60" stroke-linejoin="round"/>
<path d="M241 325.60H268.4" fill="none" stroke="#f03ca0" stroke-width="1.60" stroke-linejoin="round"/>
<text font-size="12.5" text-anchor="start" transform="translate(270.20 329.90) scale(0.89 1)">&#952;=0.5&#960;</text>
<path d="M241 340.50H268.4" fill="none" stroke="#ffd1ad" stroke-opacity="1" stroke-width="2.60" stroke-linejoin="round"/>
<path d="M241 340.50H268.4" fill="none" stroke="#ff9a4a" stroke-width="1.60" stroke-linejoin="round"/>
<text font-size="12.5" text-anchor="start" transform="translate(270.20 344.80) scale(0.89 1)">&#952;=0.6&#960;</text>
<path d="M241 355.40H268.4" fill="none" stroke="#faf8b0" stroke-opacity="1" stroke-width="2.60" stroke-linejoin="round"/>
<path d="M241 355.40H268.4" fill="none" stroke="#f5f050" stroke-width="1.60" stroke-linejoin="round"/>
<text font-size="12.5" text-anchor="start" transform="translate(270.20 359.70) scale(0.89 1)">&#952;=0.7&#960;</text>
<path d="M241 370.30H268.4" fill="none" stroke="#a6eda6" stroke-opacity="1" stroke-width="2.60" stroke-linejoin="round"/>
<path d="M241 370.30H268.4" fill="none" stroke="#3ad93a" stroke-width="1.60" stroke-linejoin="round"/>
<text font-size="12.5" text-anchor="start" transform="translate(270.20 374.60) scale(0.89 1)">&#952;=0.8&#960;</text>
<path d="M241 385.10H268.4" fill="none" stroke="#a5edf1" stroke-opacity="1" stroke-width="2.60" stroke-linejoin="round"/>
<path d="M241 385.10H268.4" fill="none" stroke="#38d8e0" stroke-width="1.60" stroke-linejoin="round"/>
<text font-size="12.5" text-anchor="start" transform="translate(270.20 389.40) scale(0.89 1)">&#952;=0.9&#960;</text>
<path d="M241 400.20H268.4" fill="none" stroke="#9fd6f8" stroke-opacity="1" stroke-width="2.60" stroke-linejoin="round"/>
<path d="M241 400.20H268.4" fill="none" stroke="#2aa5f0" stroke-width="1.60" stroke-linejoin="round"/>
<text font-size="12.5" text-anchor="start" transform="translate(270.20 404.50) scale(0.89 1)">&#952;=1.0&#960;</text>
<text font-size="13" text-anchor="middle" transform="translate(45.80 442.20) scale(0.92 1)">0</text>
<text font-size="13" text-anchor="middle" transform="translate(101.04 442.20) scale(0.92 1)">2</text>
<text font-size="13" text-anchor="middle" transform="translate(156.28 442.20) scale(0.92 1)">4</text>
<text font-size="13" text-anchor="middle" transform="translate(211.52 442.20) scale(0.92 1)">6</text>
<text font-size="13" text-anchor="middle" transform="translate(266.76 442.20) scale(0.92 1)">8</text>
<text font-size="13" text-anchor="middle" transform="translate(322.00 442.20) scale(0.92 1)">10</text>
<text font-size="13" text-anchor="end" transform="translate(41.80 432.60) scale(0.92 1)">-80</text>
<text font-size="13" text-anchor="end" transform="translate(41.80 402.88) scale(0.92 1)">-60</text>
<text font-size="13" text-anchor="end" transform="translate(41.80 373.17) scale(0.92 1)">-40</text>
<text font-size="13" text-anchor="end" transform="translate(41.80 343.45) scale(0.92 1)">-20</text>
<text font-size="13" text-anchor="end" transform="translate(41.80 313.73) scale(0.92 1)">0</text>
<text font-size="13" text-anchor="end" transform="translate(41.80 284.02) scale(0.92 1)">20</text>
<text font-size="13" text-anchor="end" transform="translate(41.80 254.30) scale(0.92 1)">40</text>
<text font-size="16.5" text-anchor="end" transform="translate(319.80 424.20) scale(0.95 1)">(a2)</text>
<g transform="translate(15.40 385.30) rotate(-90)">
<text font-size="21" x="0" y="0">n</text>
<text font-size="13" x="10.3" y="5.3">g</text>
<text font-size="21" x="23.5" y="0" transform="scale(1 1)">(arb. units)</text>
</g>
<text font-size="19" text-anchor="start" transform="translate(146.50 460.60) scale(1.15 1)">&#937;</text>
<text font-size="11.5" text-anchor="start" transform="translate(161.30 465.60) scale(1 1)">p</text>
<text font-size="18" text-anchor="start" transform="translate(173.50 461.00) scale(1 1)">(GHz)</text>
<path d="M402.20 235.30L402.20 429.20" stroke="#3a3a3a" stroke-width="2.00"/>
<path d="M678.20 235.30L678.20 429.20" stroke="#9a9a9a" stroke-width="2.40"/>
<path d="M402.20 235.30L677.80 235.30" stroke="#9a9a9a" stroke-width="2.80"/>
<path d="M402.20 429.50L677.80 429.50" stroke="#343434" stroke-width="1.40"/>
<path d="M402.20 429.20v-3.60" stroke="#9a9a9a" stroke-width="1.1"/>
<path d="M471.10 429.20v-3.60" stroke="#9a9a9a" stroke-width="1.1"/>
<path d="M540.00 429.20v-3.60" stroke="#9a9a9a" stroke-width="1.1"/>
<path d="M608.90 429.20v-3.60" stroke="#9a9a9a" stroke-width="1.1"/>
<path d="M677.80 429.20v-3.60" stroke="#9a9a9a" stroke-width="1.1"/>
<path d="M436.65 429.20v-2.00" stroke="#9a9a9a" stroke-width="1.1"/>
<path d="M505.55 429.20v-2.00" stroke="#9a9a9a" stroke-width="1.1"/>
<path d="M574.45 429.20v-2.00" stroke="#9a9a9a" stroke-width="1.1"/>
<path d="M643.35 429.20v-2.00" stroke="#9a9a9a" stroke-width="1.1"/>
<path d="M429.76 235.30v2.00" stroke="#c0c0c0" stroke-width="1.1"/>
<path d="M457.32 235.30v3.60" stroke="#c0c0c0" stroke-width="1.1"/>
<path d="M484.88 235.30v2.00" stroke="#c0c0c0" stroke-width="1.1"/>
<path d="M512.44 235.30v3.60" stroke="#c0c0c0" stroke-width="1.1"/>
<path d="M540.00 235.30v2.00" stroke="#c0c0c0" stroke-width="1.1"/>
<path d="M567.56 235.30v3.60" stroke="#c0c0c0" stroke-width="1.1"/>
<path d="M595.12 235.30v2.00" stroke="#c0c0c0" stroke-width="1.1"/>
<path d="M622.68 235.30v3.60" stroke="#c0c0c0" stroke-width="1.1"/>
<path d="M650.24 235.30v2.00" stroke="#c0c0c0" stroke-width="1.1"/>
<path d="M402.20 418.40h3.60M677.80 418.40h-3.60" stroke="#9a9a9a" stroke-width="1.1"/>
<path d="M402.20 368.80h3.60M677.80 368.80h-3.60" stroke="#9a9a9a" stroke-width="1.1"/>
<path d="M402.20 319.20h3.60M677.80 319.20h-3.60" stroke="#9a9a9a" stroke-width="1.1"/>
<path d="M402.20 269.60h3.60M677.80 269.60h-3.60" stroke="#9a9a9a" stroke-width="1.1"/>
<path d="M402.20 393.60h2.00M677.80 393.60h-2.00" stroke="#9a9a9a" stroke-width="1.1"/>
<path d="M402.20 344.00h2.00M677.80 344.00h-2.00" stroke="#9a9a9a" stroke-width="1.1"/>
<path d="M402.20 294.40h2.00M677.80 294.40h-2.00" stroke="#9a9a9a" stroke-width="1.1"/>
<path d="M402.20 244.80h2.00M677.80 244.80h-2.00" stroke="#9a9a9a" stroke-width="1.1"/>
<path d="M402.2 248.9L402.8 248.9L403.3 248.9L403.9 248.9L404.4 248.9L405.0 249.0L405.5 249.0L406.1 249.0L406.6 249.0L407.2 249.0L407.7 249.1L408.3 249.1L408.8 249.1L409.4 249.2L409.9 249.2L410.5 249.2L411.0 249.3L411.6 249.3L412.1 249.4L412.7 249.4L413.2 249.5L413.8 249.5L414.4 249.6L414.9 249.7L415.5 249.8L416.0 249.9L416.6 250.0L417.1 250.1L417.7 250.3L418.2 250.4L418.8 250.6L419.3 250.7L419.9 250.9L420.4 251.1L421.0 251.3L421.5 251.5L422.1 251.7L422.6 251.9L423.2 252.1L423.7 252.4L424.3 252.7L424.8 253.0L425.4 253.3L425.9 253.7L426.5 254.1L427.1 254.6L427.6 255.1L428.2 255.6L428.7 256.1L429.3 256.7L429.8 257.2L430.4 257.8L430.9 258.4L431.5 259.0L432.0 259.6L432.6 260.3L433.1 260.9L433.7 261.6L434.2 262.3L434.8 263.1L435.3 263.9L435.9 264.8L436.4 265.6L437.0 266.6L437.5 267.5L438.1 268.5L438.7 269.6L439.2 270.7L439.8 272.0L440.3 273.3L440.9 274.6L441.4 276.0L442.0 277.4L442.5 278.7L443.1 280.1L443.6 281.6L444.2 283.0L444.7 284.5L445.3 286.0L445.8 287.5L446.4 288.9L446.9 290.4L447.5 291.8L448.0 293.2L448.6 294.6L449.1 296.1L449.7 297.5L450.3 299.1L450.8 300.7L451.4 302.5L451.9 304.4L452.5 306.4L453.0 308.4L453.6 310.5L454.1 312.6L454.7 314.7L455.2 316.9L455.8 319.1L456.3 321.2L456.9 323.3L457.4 325.3L458.0 327.4L458.5 329.4L459.1 331.5L459.6 333.6L460.2 335.7L460.7 337.9L461.3 340.1L461.8 342.3L462.4 344.4L463.0 346.4L463.5 348.4L464.1 350.4L464.6 352.4L465.2 354.4L465.7 356.4L466.3 358.4L466.8 360.2L467.4 361.8L467.9 363.2L468.5 364.4L469.0 365.3L469.6 366.1L470.1 366.7L470.7 367.2L471.2 367.3L471.8 367.0L472.3 366.4L472.9 365.7L473.4 364.9L474.0 363.9L474.6 362.5L475.1 361.0L475.7 359.3L476.2 357.4L476.8 355.4L477.3 353.4L477.9 351.4L478.4 349.4L479.0 347.4L479.5 345.4L480.1 343.4L480.6 341.2L481.2 339.0L481.7 336.8L482.3 334.6L482.8 332.5L483.4 330.4L483.9 328.4L484.5 326.3L485.0 324.3L485.6 322.3L486.2 320.2L486.7 318.0L487.3 315.8L487.8 313.6L488.4 311.5L488.9 309.4L489.5 307.4L490.0 305.4L490.6 303.4L491.1 301.6L491.7 299.9L492.2 298.3L492.8 296.8L493.3 295.3L493.9 293.9L494.4 292.5L495.0 291.1L495.5 289.7L496.1 288.2L496.6 286.7L497.2 285.2L497.7 283.7L498.3 282.3L498.9 280.8L499.4 279.4L500.0 278.0L500.5 276.7L501.1 275.3L501.6 273.9L502.2 272.6L502.7 271.3L503.3 270.1L503.8 269.0L504.4 268.0L504.9 267.0L505.5 266.1L506.0 265.2L506.6 264.3L507.1 263.5L507.7 262.7L508.2 262.0L508.8 261.3L509.3 260.6L509.9 260.0L510.5 259.3L511.0 258.7L511.6 258.1L512.1 257.5L512.7 256.9L513.2 256.4L513.8 255.8L514.3 255.3L514.9 254.8L515.4 254.4L516.0 253.9L516.5 253.5L517.1 253.1L517.6 252.8L518.2 252.5L518.7 252.3L519.3 252.0L519.8 251.8L520.4 251.6L520.9 251.4L521.5 251.2L522.1 251.0L522.6 250.8L523.2 250.7L523.7 250.5L524.3 250.3L524.8 250.2L525.4 250.1L525.9 249.9L526.5 249.8L527.0 249.7L527.6 249.6L528.1 249.5L528.7 249.5L529.2 249.4L529.8 249.4L530.3 249.3L530.9 249.3L531.4 249.3L532.0 249.2L532.5 249.2L533.1 249.1L533.6 249.1L534.2 249.1L534.8 249.1L535.3 249.0L535.9 249.0L536.4 249.0L537.0 249.0L537.5 249.0L538.1 248.9L538.6 248.9L539.2 248.9L539.7 248.9L540.3 248.9L540.8 248.9L541.4 248.9L541.9 248.9L542.5 249.0L543.0 249.0L543.6 249.0L544.1 249.0L544.7 249.0L545.2 249.1L545.8 249.1L546.4 249.1L546.9 249.1L547.5 249.2L548.0 249.2L548.6 249.3L549.1 249.3L549.7 249.3L550.2 249.4L550.8 249.4L551.3 249.5L551.9 249.5L552.4 249.6L553.0 249.7L553.5 249.8L554.1 249.9L554.6 250.1L555.2 250.2L555.7 250.3L556.3 250.5L556.8 250.7L557.4 250.8L557.9 251.0L558.5 251.2L559.1 251.4L559.6 251.6L560.2 251.8L560.7 252.0L561.3 252.3L561.8 252.5L562.4 252.8L562.9 253.1L563.5 253.5L564.0 253.9L564.6 254.4L565.1 254.8L565.7 255.3L566.2 255.8L566.8 256.4L567.3 256.9L567.9 257.5L568.4 258.1L569.0 258.7L569.5 259.3L570.1 260.0L570.7 260.6L571.2 261.3L571.8 262.0L572.3 262.7L572.9 263.5L573.4 264.3L574.0 265.2L574.5 266.1L575.1 267.0L575.6 268.0L576.2 269.0L576.7 270.1L577.3 271.3L577.8 272.6L578.4 273.9L578.9 275.3L579.5 276.7L580.0 278.0L580.6 279.4L581.1 280.8L581.7 282.3L582.3 283.7L582.8 285.2L583.4 286.7L583.9 288.2L584.5 289.7L585.0 291.1L585.6 292.5L586.1 293.9L586.7 295.3L587.2 296.8L587.8 298.3L588.3 299.9L588.9 301.6L589.4 303.4L590.0 305.4L590.5 307.4L591.1 309.4L591.6 311.5L592.2 313.6L592.7 315.8L593.3 318.0L593.8 320.2L594.4 322.3L595.0 324.3L595.5 326.3L596.1 328.4L596.6 330.4L597.2 332.5L597.7 334.6L598.3 336.8L598.8 339.0L599.4 341.2L599.9 343.4L600.5 345.4L601.0 347.4L601.6 349.4L602.1 351.4L602.7 353.4L603.2 355.4L603.8 357.4L604.3 359.3L604.9 361.0L605.4 362.5L606.0 363.9L606.6 364.9L607.1 365.7L607.7 366.4L608.2 367.0L608.8 367.3L609.3 367.2L609.9 366.7L610.4 366.1L611.0 365.3L611.5 364.4L612.1 363.2L612.6 361.8L613.2 360.2L613.7 358.4L614.3 356.4L614.8 354.4L615.4 352.4L615.9 350.4L616.5 348.4L617.0 346.4L617.6 344.4L618.2 342.3L618.7 340.1L619.3 337.9L619.8 335.7L620.4 333.6L620.9 331.5L621.5 329.4L622.0 327.4L622.6 325.3L623.1 323.3L623.7 321.2L624.2 319.1L624.8 316.9L625.3 314.7L625.9 312.6L626.4 310.5L627.0 308.4L627.5 306.4L628.1 304.4L628.6 302.5L629.2 300.7L629.7 299.1L630.3 297.5L630.9 296.1L631.4 294.6L632.0 293.2L632.5 291.8L633.1 290.4L633.6 288.9L634.2 287.5L634.7 286.0L635.3 284.5L635.8 283.0L636.4 281.6L636.9 280.1L637.5 278.7L638.0 277.4L638.6 276.0L639.1 274.6L639.7 273.3L640.2 272.0L640.8 270.7L641.3 269.6L641.9 268.5L642.5 267.5L643.0 266.6L643.6 265.6L644.1 264.8L644.7 263.9L645.2 263.1L645.8 262.3L646.3 261.6L646.9 260.9L647.4 260.3L648.0 259.6L648.5 259.0L649.1 258.4L649.6 257.8L650.2 257.2L650.7 256.7L651.3 256.1L651.8 255.6L652.4 255.1L652.9 254.6L653.5 254.1L654.1 253.7L654.6 253.3L655.2 253.0L655.7 252.7L656.3 252.4L656.8 252.1L657.4 251.9L657.9 251.7L658.5 251.5L659.0 251.3L659.6 251.1L660.1 250.9L660.7 250.7L661.2 250.6L661.8 250.4L662.3 250.3L662.9 250.1L663.4 250.0L664.0 249.9L664.5 249.8L665.1 249.7L665.6 249.6L666.2 249.5L666.8 249.5L667.3 249.4L667.9 249.4L668.4 249.3L669.0 249.3L669.5 249.2L670.1 249.2L670.6 249.2L671.2 249.1L671.7 249.1L672.3 249.1L672.8 249.0L673.4 249.0L673.9 249.0L674.5 249.0L675.0 249.0L675.6 248.9L676.1 248.9L676.7 248.9L677.2 248.9L677.8 248.9" fill="none" stroke="#a6ecec" stroke-opacity="1" stroke-width="2.10" stroke-linejoin="round" clip-path="url(#cc)"/>
<path d="M402.2 248.9L402.8 248.9L403.3 248.9L403.9 248.9L404.4 248.9L405.0 249.0L405.5 249.0L406.1 249.0L406.6 249.0L407.2 249.0L407.7 249.1L408.3 249.1L408.8 249.1L409.4 249.2L409.9 249.2L410.5 249.2L411.0 249.3L411.6 249.3L412.1 249.4L412.7 249.4L413.2 249.5L413.8 249.5L414.4 249.6L414.9 249.7L415.5 249.8L416.0 249.9L416.6 250.0L417.1 250.1L417.7 250.3L418.2 250.4L418.8 250.6L419.3 250.7L419.9 250.9L420.4 251.1L421.0 251.3L421.5 251.5L422.1 251.7L422.6 251.9L423.2 252.1L423.7 252.4L424.3 252.7L424.8 253.0L425.4 253.3L425.9 253.7L426.5 254.1L427.1 254.6L427.6 255.1L428.2 255.6L428.7 256.1L429.3 256.7L429.8 257.2L430.4 257.8L430.9 258.4L431.5 259.0L432.0 259.6L432.6 260.3L433.1 260.9L433.7 261.6L434.2 262.3L434.8 263.1L435.3 263.9L435.9 264.8L436.4 265.6L437.0 266.6L437.5 267.5L438.1 268.5L438.7 269.6L439.2 270.7L439.8 272.0L440.3 273.3L440.9 274.6L441.4 276.0L442.0 277.4L442.5 278.7L443.1 280.1L443.6 281.6L444.2 283.0L444.7 284.5L445.3 286.0L445.8 287.5L446.4 288.9L446.9 290.4L447.5 291.8L448.0 293.2L448.6 294.6L449.1 296.1L449.7 297.5L450.3 299.1L450.8 300.7L451.4 302.5L451.9 304.4L452.5 306.4L453.0 308.4L453.6 310.5L454.1 312.6L454.7 314.7L455.2 316.9L455.8 319.1L456.3 321.2L456.9 323.3L457.4 325.3L458.0 327.4L458.5 329.4L459.1 331.5L459.6 333.6L460.2 335.7L460.7 337.9L461.3 340.1L461.8 342.3L462.4 344.4L463.0 346.4L463.5 348.4L464.1 350.4L464.6 352.4L465.2 354.4L465.7 356.4L466.3 358.4L466.8 360.2L467.4 361.8L467.9 363.2L468.5 364.4L469.0 365.3L469.6 366.1L470.1 366.7L470.7 367.2L471.2 367.3L471.8 367.0L472.3 366.4L472.9 365.7L473.4 364.9L474.0 363.9L474.6 362.5L475.1 361.0L475.7 359.3L476.2 357.4L476.8 355.4L477.3 353.4L477.9 351.4L478.4 349.4L479.0 347.4L479.5 345.4L480.1 343.4L480.6 341.2L481.2 339.0L481.7 336.8L482.3 334.6L482.8 332.5L483.4 330.4L483.9 328.4L484.5 326.3L485.0 324.3L485.6 322.3L486.2 320.2L486.7 318.0L487.3 315.8L487.8 313.6L488.4 311.5L488.9 309.4L489.5 307.4L490.0 305.4L490.6 303.4L491.1 301.6L491.7 299.9L492.2 298.3L492.8 296.8L493.3 295.3L493.9 293.9L494.4 292.5L495.0 291.1L495.5 289.7L496.1 288.2L496.6 286.7L497.2 285.2L497.7 283.7L498.3 282.3L498.9 280.8L499.4 279.4L500.0 278.0L500.5 276.7L501.1 275.3L501.6 273.9L502.2 272.6L502.7 271.3L503.3 270.1L503.8 269.0L504.4 268.0L504.9 267.0L505.5 266.1L506.0 265.2L506.6 264.3L507.1 263.5L507.7 262.7L508.2 262.0L508.8 261.3L509.3 260.6L509.9 260.0L510.5 259.3L511.0 258.7L511.6 258.1L512.1 257.5L512.7 256.9L513.2 256.4L513.8 255.8L514.3 255.3L514.9 254.8L515.4 254.4L516.0 253.9L516.5 253.5L517.1 253.1L517.6 252.8L518.2 252.5L518.7 252.3L519.3 252.0L519.8 251.8L520.4 251.6L520.9 251.4L521.5 251.2L522.1 251.0L522.6 250.8L523.2 250.7L523.7 250.5L524.3 250.3L524.8 250.2L525.4 250.1L525.9 249.9L526.5 249.8L527.0 249.7L527.6 249.6L528.1 249.5L528.7 249.5L529.2 249.4L529.8 249.4L530.3 249.3L530.9 249.3L531.4 249.3L532.0 249.2L532.5 249.2L533.1 249.1L533.6 249.1L534.2 249.1L534.8 249.1L535.3 249.0L535.9 249.0L536.4 249.0L537.0 249.0L537.5 249.0L538.1 248.9L538.6 248.9L539.2 248.9L539.7 248.9L540.3 248.9L540.8 248.9L541.4 248.9L541.9 248.9L542.5 249.0L543.0 249.0L543.6 249.0L544.1 249.0L544.7 249.0L545.2 249.1L545.8 249.1L546.4 249.1L546.9 249.1L547.5 249.2L548.0 249.2L548.6 249.3L549.1 249.3L549.7 249.3L550.2 249.4L550.8 249.4L551.3 249.5L551.9 249.5L552.4 249.6L553.0 249.7L553.5 249.8L554.1 249.9L554.6 250.1L555.2 250.2L555.7 250.3L556.3 250.5L556.8 250.7L557.4 250.8L557.9 251.0L558.5 251.2L559.1 251.4L559.6 251.6L560.2 251.8L560.7 252.0L561.3 252.3L561.8 252.5L562.4 252.8L562.9 253.1L563.5 253.5L564.0 253.9L564.6 254.4L565.1 254.8L565.7 255.3L566.2 255.8L566.8 256.4L567.3 256.9L567.9 257.5L568.4 258.1L569.0 258.7L569.5 259.3L570.1 260.0L570.7 260.6L571.2 261.3L571.8 262.0L572.3 262.7L572.9 263.5L573.4 264.3L574.0 265.2L574.5 266.1L575.1 267.0L575.6 268.0L576.2 269.0L576.7 270.1L577.3 271.3L577.8 272.6L578.4 273.9L578.9 275.3L579.5 276.7L580.0 278.0L580.6 279.4L581.1 280.8L581.7 282.3L582.3 283.7L582.8 285.2L583.4 286.7L583.9 288.2L584.5 289.7L585.0 291.1L585.6 292.5L586.1 293.9L586.7 295.3L587.2 296.8L587.8 298.3L588.3 299.9L588.9 301.6L589.4 303.4L590.0 305.4L590.5 307.4L591.1 309.4L591.6 311.5L592.2 313.6L592.7 315.8L593.3 318.0L593.8 320.2L594.4 322.3L595.0 324.3L595.5 326.3L596.1 328.4L596.6 330.4L597.2 332.5L597.7 334.6L598.3 336.8L598.8 339.0L599.4 341.2L599.9 343.4L600.5 345.4L601.0 347.4L601.6 349.4L602.1 351.4L602.7 353.4L603.2 355.4L603.8 357.4L604.3 359.3L604.9 361.0L605.4 362.5L606.0 363.9L606.6 364.9L607.1 365.7L607.7 366.4L608.2 367.0L608.8 367.3L609.3 367.2L609.9 366.7L610.4 366.1L611.0 365.3L611.5 364.4L612.1 363.2L612.6 361.8L613.2 360.2L613.7 358.4L614.3 356.4L614.8 354.4L615.4 352.4L615.9 350.4L616.5 348.4L617.0 346.4L617.6 344.4L618.2 342.3L618.7 340.1L619.3 337.9L619.8 335.7L620.4 333.6L620.9 331.5L621.5 329.4L622.0 327.4L622.6 325.3L623.1 323.3L623.7 321.2L624.2 319.1L624.8 316.9L625.3 314.7L625.9 312.6L626.4 310.5L627.0 308.4L627.5 306.4L628.1 304.4L628.6 302.5L629.2 300.7L629.7 299.1L630.3 297.5L630.9 296.1L631.4 294.6L632.0 293.2L632.5 291.8L633.1 290.4L633.6 288.9L634.2 287.5L634.7 286.0L635.3 284.5L635.8 283.0L636.4 281.6L636.9 280.1L637.5 278.7L638.0 277.4L638.6 276.0L639.1 274.6L639.7 273.3L640.2 272.0L640.8 270.7L641.3 269.6L641.9 268.5L642.5 267.5L643.0 266.6L643.6 265.6L644.1 264.8L644.7 263.9L645.2 263.1L645.8 262.3L646.3 261.6L646.9 260.9L647.4 260.3L648.0 259.6L648.5 259.0L649.1 258.4L649.6 257.8L650.2 257.2L650.7 256.7L651.3 256.1L651.8 255.6L652.4 255.1L652.9 254.6L653.5 254.1L654.1 253.7L654.6 253.3L655.2 253.0L655.7 252.7L656.3 252.4L656.8 252.1L657.4 251.9L657.9 251.7L658.5 251.5L659.0 251.3L659.6 251.1L660.1 250.9L660.7 250.7L661.2 250.6L661.8 250.4L662.3 250.3L662.9 250.1L663.4 250.0L664.0 249.9L664.5 249.8L665.1 249.7L665.6 249.6L666.2 249.5L666.8 249.5L667.3 249.4L667.9 249.4L668.4 249.3L669.0 249.3L669.5 249.2L670.1 249.2L670.6 249.2L671.2 249.1L671.7 249.1L672.3 249.1L672.8 249.0L673.4 249.0L673.9 249.0L674.5 249.0L675.0 249.0L675.6 248.9L676.1 248.9L676.7 248.9L677.2 248.9L677.8 248.9" fill="none" stroke="#3ad6d6" stroke-width="1.20" stroke-linejoin="round" clip-path="url(#cc)"/>
<path d="M402.2 256.4L402.8 256.4L403.3 256.4L403.9 256.4L404.4 256.3L405.0 256.3L405.5 256.3L406.1 256.2L406.6 256.2L407.2 256.1L407.7 256.0L408.3 256.0L408.8 255.9L409.4 255.8L409.9 255.7L410.5 255.6L411.0 255.5L411.6 255.4L412.1 255.3L412.7 255.2L413.2 255.1L413.8 255.0L414.4 254.9L414.9 254.7L415.5 254.6L416.0 254.5L416.6 254.4L417.1 254.2L417.7 254.1L418.2 254.0L418.8 253.8L419.3 253.7L419.9 253.6L420.4 253.4L421.0 253.3L421.5 253.2L422.1 253.0L422.6 252.9L423.2 252.7L423.7 252.6L424.3 252.4L424.8 252.2L425.4 252.0L425.9 251.7L426.5 251.5L427.1 251.3L427.6 251.1L428.2 250.8L428.7 250.6L429.3 250.4L429.8 250.1L430.4 249.9L430.9 249.7L431.5 249.4L432.0 249.2L432.6 249.0L433.1 248.8L433.7 248.6L434.2 248.4L434.8 248.2L435.3 248.0L435.9 247.8L436.4 247.7L437.0 247.5L437.5 247.3L438.1 247.2L438.7 247.0L439.2 246.8L439.8 246.7L440.3 246.5L440.9 246.3L441.4 246.2L442.0 246.0L442.5 245.9L443.1 245.7L443.6 245.6L444.2 245.5L444.7 245.4L445.3 245.3L445.8 245.2L446.4 245.2L446.9 245.1L447.5 245.1L448.0 245.1L448.6 245.3L449.1 245.6L449.7 246.0L450.3 246.5L450.8 247.1L451.4 247.7L451.9 248.4L452.5 249.4L453.0 250.9L453.6 252.7L454.1 254.6L454.7 256.7L455.2 259.4L455.8 262.4L456.3 265.5L456.9 268.8L457.4 272.3L458.0 275.9L458.5 279.3L459.1 282.7L459.6 286.3L460.2 289.8L460.7 293.4L461.3 297.8L461.8 303.7L462.4 310.7L463.0 317.8L463.5 324.9L464.1 332.4L464.6 340.4L465.2 349.5L465.7 358.9L466.3 368.1L466.8 377.4L467.4 386.3L467.9 394.0L468.5 400.7L469.0 406.5L469.6 411.0L470.1 415.0L470.7 418.1L471.2 418.8L471.8 416.7L472.3 413.0L472.9 408.9L473.4 403.7L474.0 397.4L474.6 390.3L475.1 381.9L475.7 372.7L476.2 363.4L476.8 354.2L477.3 344.9L477.9 336.3L478.4 328.6L479.0 321.3L479.5 314.2L480.1 307.1L480.6 300.6L481.2 295.5L481.7 291.5L482.3 288.0L482.8 284.5L483.4 281.0L483.9 277.6L484.5 274.1L485.0 270.5L485.6 267.1L486.2 263.9L486.7 260.8L487.3 258.0L487.8 255.6L488.4 253.6L488.9 251.8L489.5 250.1L490.0 248.9L490.6 248.1L491.1 247.4L491.7 246.8L492.2 246.2L492.8 245.8L493.3 245.4L493.9 245.2L494.4 245.1L495.0 245.1L495.5 245.1L496.1 245.2L496.6 245.2L497.2 245.3L497.7 245.4L498.3 245.5L498.9 245.7L499.4 245.8L500.0 245.9L500.5 246.1L501.1 246.2L501.6 246.4L502.2 246.6L502.7 246.7L503.3 246.9L503.8 247.1L504.4 247.3L504.9 247.4L505.5 247.6L506.0 247.8L506.6 247.9L507.1 248.1L507.7 248.3L508.2 248.5L508.8 248.7L509.3 248.9L509.9 249.1L510.5 249.3L511.0 249.5L511.6 249.8L512.1 250.0L512.7 250.2L513.2 250.5L513.8 250.7L514.3 251.0L514.9 251.2L515.4 251.4L516.0 251.6L516.5 251.9L517.1 252.1L517.6 252.3L518.2 252.5L518.7 252.6L519.3 252.8L519.8 253.0L520.4 253.1L520.9 253.3L521.5 253.4L522.1 253.5L522.6 253.6L523.2 253.8L523.7 253.9L524.3 254.0L524.8 254.2L525.4 254.3L525.9 254.4L526.5 254.5L527.0 254.7L527.6 254.8L528.1 254.9L528.7 255.0L529.2 255.1L529.8 255.3L530.3 255.4L530.9 255.5L531.4 255.6L532.0 255.7L532.5 255.8L533.1 255.8L533.6 255.9L534.2 256.0L534.8 256.1L535.3 256.1L535.9 256.2L536.4 256.2L537.0 256.3L537.5 256.3L538.1 256.4L538.6 256.4L539.2 256.4L539.7 256.4L540.3 256.4L540.8 256.4L541.4 256.4L541.9 256.4L542.5 256.3L543.0 256.3L543.6 256.2L544.1 256.2L544.7 256.1L545.2 256.1L545.8 256.0L546.4 255.9L546.9 255.8L547.5 255.8L548.0 255.7L548.6 255.6L549.1 255.5L549.7 255.4L550.2 255.3L550.8 255.1L551.3 255.0L551.9 254.9L552.4 254.8L553.0 254.7L553.5 254.5L554.1 254.4L554.6 254.3L555.2 254.2L555.7 254.0L556.3 253.9L556.8 253.8L557.4 253.6L557.9 253.5L558.5 253.4L559.1 253.3L559.6 253.1L560.2 253.0L560.7 252.8L561.3 252.6L561.8 252.5L562.4 252.3L562.9 252.1L563.5 251.9L564.0 251.6L564.6 251.4L565.1 251.2L565.7 251.0L566.2 250.7L566.8 250.5L567.3 250.2L567.9 250.0L568.4 249.8L569.0 249.5L569.5 249.3L570.1 249.1L570.7 248.9L571.2 248.7L571.8 248.5L572.3 248.3L572.9 248.1L573.4 247.9L574.0 247.8L574.5 247.6L575.1 247.4L575.6 247.3L576.2 247.1L576.7 246.9L577.3 246.7L577.8 246.6L578.4 246.4L578.9 246.2L579.5 246.1L580.0 245.9L580.6 245.8L581.1 245.7L581.7 245.5L582.3 245.4L582.8 245.3L583.4 245.2L583.9 245.2L584.5 245.1L585.0 245.1L585.6 245.1L586.1 245.2L586.7 245.4L587.2 245.8L587.8 246.2L588.3 246.8L588.9 247.4L589.4 248.1L590.0 248.9L590.5 250.1L591.1 251.8L591.6 253.6L592.2 255.6L592.7 258.0L593.3 260.8L593.8 263.9L594.4 267.1L595.0 270.5L595.5 274.1L596.1 277.6L596.6 281.0L597.2 284.5L597.7 288.0L598.3 291.5L598.8 295.5L599.4 300.6L599.9 307.1L600.5 314.2L601.0 321.3L601.6 328.6L602.1 336.3L602.7 344.9L603.2 354.2L603.8 363.4L604.3 372.7L604.9 381.9L605.4 390.3L606.0 397.4L606.6 403.7L607.1 408.9L607.7 413.0L608.2 416.7L608.8 418.8L609.3 418.1L609.9 415.0L610.4 411.0L611.0 406.5L611.5 400.7L612.1 394.0L612.6 386.3L613.2 377.4L613.7 368.1L614.3 358.9L614.8 349.5L615.4 340.4L615.9 332.4L616.5 324.9L617.0 317.8L617.6 310.7L618.2 303.7L618.7 297.8L619.3 293.4L619.8 289.8L620.4 286.3L620.9 282.7L621.5 279.3L622.0 275.9L622.6 272.3L623.1 268.8L623.7 265.5L624.2 262.4L624.8 259.4L625.3 256.7L625.9 254.6L626.4 252.7L627.0 250.9L627.5 249.4L628.1 248.4L628.6 247.7L629.2 247.1L629.7 246.5L630.3 246.0L630.9 245.6L631.4 245.3L632.0 245.1L632.5 245.1L633.1 245.1L633.6 245.2L634.2 245.2L634.7 245.3L635.3 245.4L635.8 245.5L636.4 245.6L636.9 245.7L637.5 245.9L638.0 246.0L638.6 246.2L639.1 246.3L639.7 246.5L640.2 246.7L640.8 246.8L641.3 247.0L641.9 247.2L642.5 247.3L643.0 247.5L643.6 247.7L644.1 247.8L644.7 248.0L645.2 248.2L645.8 248.4L646.3 248.6L646.9 248.8L647.4 249.0L648.0 249.2L648.5 249.4L649.1 249.7L649.6 249.9L650.2 250.1L650.7 250.4L651.3 250.6L651.8 250.8L652.4 251.1L652.9 251.3L653.5 251.5L654.1 251.7L654.6 252.0L655.2 252.2L655.7 252.4L656.3 252.6L656.8 252.7L657.4 252.9L657.9 253.0L658.5 253.2L659.0 253.3L659.6 253.4L660.1 253.6L660.7 253.7L661.2 253.8L661.8 254.0L662.3 254.1L662.9 254.2L663.4 254.4L664.0 254.5L664.5 254.6L665.1 254.7L665.6 254.9L666.2 255.0L666.8 255.1L667.3 255.2L667.9 255.3L668.4 255.4L669.0 255.5L669.5 255.6L670.1 255.7L670.6 255.8L671.2 255.9L671.7 256.0L672.3 256.0L672.8 256.1L673.4 256.2L673.9 256.2L674.5 256.3L675.0 256.3L675.6 256.3L676.1 256.4L676.7 256.4L677.2 256.4L677.8 256.4" fill="none" stroke="#ffd1a7" stroke-opacity="1" stroke-width="2.10" stroke-linejoin="round" clip-path="url(#cc)"/>
<path d="M402.2 256.4L402.8 256.4L403.3 256.4L403.9 256.4L404.4 256.3L405.0 256.3L405.5 256.3L406.1 256.2L406.6 256.2L407.2 256.1L407.7 256.0L408.3 256.0L408.8 255.9L409.4 255.8L409.9 255.7L410.5 255.6L411.0 255.5L411.6 255.4L412.1 255.3L412.7 255.2L413.2 255.1L413.8 255.0L414.4 254.9L414.9 254.7L415.5 254.6L416.0 254.5L416.6 254.4L417.1 254.2L417.7 254.1L418.2 254.0L418.8 253.8L419.3 253.7L419.9 253.6L420.4 253.4L421.0 253.3L421.5 253.2L422.1 253.0L422.6 252.9L423.2 252.7L423.7 252.6L424.3 252.4L424.8 252.2L425.4 252.0L425.9 251.7L426.5 251.5L427.1 251.3L427.6 251.1L428.2 250.8L428.7 250.6L429.3 250.4L429.8 250.1L430.4 249.9L430.9 249.7L431.5 249.4L432.0 249.2L432.6 249.0L433.1 248.8L433.7 248.6L434.2 248.4L434.8 248.2L435.3 248.0L435.9 247.8L436.4 247.7L437.0 247.5L437.5 247.3L438.1 247.2L438.7 247.0L439.2 246.8L439.8 246.7L440.3 246.5L440.9 246.3L441.4 246.2L442.0 246.0L442.5 245.9L443.1 245.7L443.6 245.6L444.2 245.5L444.7 245.4L445.3 245.3L445.8 245.2L446.4 245.2L446.9 245.1L447.5 245.1L448.0 245.1L448.6 245.3L449.1 245.6L449.7 246.0L450.3 246.5L450.8 247.1L451.4 247.7L451.9 248.4L452.5 249.4L453.0 250.9L453.6 252.7L454.1 254.6L454.7 256.7L455.2 259.4L455.8 262.4L456.3 265.5L456.9 268.8L457.4 272.3L458.0 275.9L458.5 279.3L459.1 282.7L459.6 286.3L460.2 289.8L460.7 293.4L461.3 297.8L461.8 303.7L462.4 310.7L463.0 317.8L463.5 324.9L464.1 332.4L464.6 340.4L465.2 349.5L465.7 358.9L466.3 368.1L466.8 377.4L467.4 386.3L467.9 394.0L468.5 400.7L469.0 406.5L469.6 411.0L470.1 415.0L470.7 418.1L471.2 418.8L471.8 416.7L472.3 413.0L472.9 408.9L473.4 403.7L474.0 397.4L474.6 390.3L475.1 381.9L475.7 372.7L476.2 363.4L476.8 354.2L477.3 344.9L477.9 336.3L478.4 328.6L479.0 321.3L479.5 314.2L480.1 307.1L480.6 300.6L481.2 295.5L481.7 291.5L482.3 288.0L482.8 284.5L483.4 281.0L483.9 277.6L484.5 274.1L485.0 270.5L485.6 267.1L486.2 263.9L486.7 260.8L487.3 258.0L487.8 255.6L488.4 253.6L488.9 251.8L489.5 250.1L490.0 248.9L490.6 248.1L491.1 247.4L491.7 246.8L492.2 246.2L492.8 245.8L493.3 245.4L493.9 245.2L494.4 245.1L495.0 245.1L495.5 245.1L496.1 245.2L496.6 245.2L497.2 245.3L497.7 245.4L498.3 245.5L498.9 245.7L499.4 245.8L500.0 245.9L500.5 246.1L501.1 246.2L501.6 246.4L502.2 246.6L502.7 246.7L503.3 246.9L503.8 247.1L504.4 247.3L504.9 247.4L505.5 247.6L506.0 247.8L506.6 247.9L507.1 248.1L507.7 248.3L508.2 248.5L508.8 248.7L509.3 248.9L509.9 249.1L510.5 249.3L511.0 249.5L511.6 249.8L512.1 250.0L512.7 250.2L513.2 250.5L513.8 250.7L514.3 251.0L514.9 251.2L515.4 251.4L516.0 251.6L516.5 251.9L517.1 252.1L517.6 252.3L518.2 252.5L518.7 252.6L519.3 252.8L519.8 253.0L520.4 253.1L520.9 253.3L521.5 253.4L522.1 253.5L522.6 253.6L523.2 253.8L523.7 253.9L524.3 254.0L524.8 254.2L525.4 254.3L525.9 254.4L526.5 254.5L527.0 254.7L527.6 254.8L528.1 254.9L528.7 255.0L529.2 255.1L529.8 255.3L530.3 255.4L530.9 255.5L531.4 255.6L532.0 255.7L532.5 255.8L533.1 255.8L533.6 255.9L534.2 256.0L534.8 256.1L535.3 256.1L535.9 256.2L536.4 256.2L537.0 256.3L537.5 256.3L538.1 256.4L538.6 256.4L539.2 256.4L539.7 256.4L540.3 256.4L540.8 256.4L541.4 256.4L541.9 256.4L542.5 256.3L543.0 256.3L543.6 256.2L544.1 256.2L544.7 256.1L545.2 256.1L545.8 256.0L546.4 255.9L546.9 255.8L547.5 255.8L548.0 255.7L548.6 255.6L549.1 255.5L549.7 255.4L550.2 255.3L550.8 255.1L551.3 255.0L551.9 254.9L552.4 254.8L553.0 254.7L553.5 254.5L554.1 254.4L554.6 254.3L555.2 254.2L555.7 254.0L556.3 253.9L556.8 253.8L557.4 253.6L557.9 253.5L558.5 253.4L559.1 253.3L559.6 253.1L560.2 253.0L560.7 252.8L561.3 252.6L561.8 252.5L562.4 252.3L562.9 252.1L563.5 251.9L564.0 251.6L564.6 251.4L565.1 251.2L565.7 251.0L566.2 250.7L566.8 250.5L567.3 250.2L567.9 250.0L568.4 249.8L569.0 249.5L569.5 249.3L570.1 249.1L570.7 248.9L571.2 248.7L571.8 248.5L572.3 248.3L572.9 248.1L573.4 247.9L574.0 247.8L574.5 247.6L575.1 247.4L575.6 247.3L576.2 247.1L576.7 246.9L577.3 246.7L577.8 246.6L578.4 246.4L578.9 246.2L579.5 246.1L580.0 245.9L580.6 245.8L581.1 245.7L581.7 245.5L582.3 245.4L582.8 245.3L583.4 245.2L583.9 245.2L584.5 245.1L585.0 245.1L585.6 245.1L586.1 245.2L586.7 245.4L587.2 245.8L587.8 246.2L588.3 246.8L588.9 247.4L589.4 248.1L590.0 248.9L590.5 250.1L591.1 251.8L591.6 253.6L592.2 255.6L592.7 258.0L593.3 260.8L593.8 263.9L594.4 267.1L595.0 270.5L595.5 274.1L596.1 277.6L596.6 281.0L597.2 284.5L597.7 288.0L598.3 291.5L598.8 295.5L599.4 300.6L599.9 307.1L600.5 314.2L601.0 321.3L601.6 328.6L602.1 336.3L602.7 344.9L603.2 354.2L603.8 363.4L604.3 372.7L604.9 381.9L605.4 390.3L606.0 397.4L606.6 403.7L607.1 408.9L607.7 413.0L608.2 416.7L608.8 418.8L609.3 418.1L609.9 415.0L610.4 411.0L611.0 406.5L611.5 400.7L612.1 394.0L612.6 386.3L613.2 377.4L613.7 368.1L614.3 358.9L614.8 349.5L615.4 340.4L615.9 332.4L616.5 324.9L617.0 317.8L617.6 310.7L618.2 303.7L618.7 297.8L619.3 293.4L619.8 289.8L620.4 286.3L620.9 282.7L621.5 279.3L622.0 275.9L622.6 272.3L623.1 268.8L623.7 265.5L624.2 262.4L624.8 259.4L625.3 256.7L625.9 254.6L626.4 252.7L627.0 250.9L627.5 249.4L628.1 248.4L628.6 247.7L629.2 247.1L629.7 246.5L630.3 246.0L630.9 245.6L631.4 245.3L632.0 245.1L632.5 245.1L633.1 245.1L633.6 245.2L634.2 245.2L634.7 245.3L635.3 245.4L635.8 245.5L636.4 245.6L636.9 245.7L637.5 245.9L638.0 246.0L638.6 246.2L639.1 246.3L639.7 246.5L640.2 246.7L640.8 246.8L641.3 247.0L641.9 247.2L642.5 247.3L643.0 247.5L643.6 247.7L644.1 247.8L644.7 248.0L645.2 248.2L645.8 248.4L646.3 248.6L646.9 248.8L647.4 249.0L648.0 249.2L648.5 249.4L649.1 249.7L649.6 249.9L650.2 250.1L650.7 250.4L651.3 250.6L651.8 250.8L652.4 251.1L652.9 251.3L653.5 251.5L654.1 251.7L654.6 252.0L655.2 252.2L655.7 252.4L656.3 252.6L656.8 252.7L657.4 252.9L657.9 253.0L658.5 253.2L659.0 253.3L659.6 253.4L660.1 253.6L660.7 253.7L661.2 253.8L661.8 254.0L662.3 254.1L662.9 254.2L663.4 254.4L664.0 254.5L664.5 254.6L665.1 254.7L665.6 254.9L666.2 255.0L666.8 255.1L667.3 255.2L667.9 255.3L668.4 255.4L669.0 255.5L669.5 255.6L670.1 255.7L670.6 255.8L671.2 255.9L671.7 256.0L672.3 256.0L672.8 256.1L673.4 256.2L673.9 256.2L674.5 256.3L675.0 256.3L675.6 256.3L676.1 256.4L676.7 256.4L677.2 256.4L677.8 256.4" fill="none" stroke="#ff9a3c" stroke-width="1.20" stroke-linejoin="round" clip-path="url(#cc)"/>
<path d="M402.2 263.8L402.8 263.8L403.3 263.8L403.9 263.8L404.4 263.8L405.0 263.7L405.5 263.7L406.1 263.7L406.6 263.6L407.2 263.6L407.7 263.6L408.3 263.5L408.8 263.5L409.4 263.4L409.9 263.3L410.5 263.3L411.0 263.2L411.6 263.2L412.1 263.1L412.7 263.0L413.2 262.9L413.8 262.9L414.4 262.8L414.9 262.7L415.5 262.6L416.0 262.5L416.6 262.5L417.1 262.4L417.7 262.3L418.2 262.2L418.8 262.1L419.3 262.0L419.9 261.9L420.4 261.8L421.0 261.7L421.5 261.6L422.1 261.5L422.6 261.4L423.2 261.3L423.7 261.2L424.3 261.0L424.8 260.9L425.4 260.7L425.9 260.6L426.5 260.4L427.1 260.2L427.6 260.1L428.2 259.9L428.7 259.7L429.3 259.5L429.8 259.3L430.4 259.1L430.9 258.9L431.5 258.7L432.0 258.5L432.6 258.3L433.1 258.1L433.7 257.9L434.2 257.7L434.8 257.5L435.3 257.3L435.9 257.1L436.4 256.9L437.0 256.6L437.5 256.4L438.1 256.1L438.7 255.9L439.2 255.6L439.8 255.3L440.3 255.0L440.9 254.7L441.4 254.3L442.0 254.0L442.5 253.7L443.1 253.4L443.6 253.1L444.2 252.8L444.7 252.5L445.3 252.2L445.8 251.9L446.4 251.7L446.9 251.5L447.5 251.3L448.0 251.1L448.6 250.9L449.1 250.8L449.7 250.7L450.3 250.6L450.8 250.6L451.4 250.6L451.9 250.7L452.5 250.8L453.0 251.0L453.6 251.2L454.1 251.5L454.7 251.9L455.2 252.3L455.8 252.7L456.3 253.2L456.9 254.2L457.4 255.9L458.0 258.3L458.5 261.0L459.1 263.8L459.6 267.0L460.2 270.9L460.7 274.9L461.3 278.8L461.8 282.7L462.4 286.9L463.0 291.2L463.5 295.9L464.1 301.6L464.6 308.2L465.2 315.2L465.7 322.2L466.3 329.4L466.8 337.4L467.4 347.1L467.9 357.3L468.5 366.9L469.0 376.1L469.6 383.7L470.1 389.3L470.7 393.8L471.2 394.9L471.8 391.8L472.3 386.5L472.9 380.2L473.4 371.6L474.0 362.0L474.6 352.4L475.1 342.0L475.7 333.3L476.2 325.7L476.8 318.7L477.3 311.7L477.9 304.8L478.4 298.6L479.0 293.5L479.5 289.0L480.1 284.8L480.6 280.7L481.2 276.8L481.7 272.9L482.3 268.9L482.8 265.3L483.4 262.4L483.9 259.6L484.5 257.0L485.0 255.0L485.6 253.6L486.2 252.9L486.7 252.5L487.3 252.1L487.8 251.7L488.4 251.4L488.9 251.1L489.5 250.9L490.0 250.7L490.6 250.6L491.1 250.6L491.7 250.6L492.2 250.7L492.8 250.7L493.3 250.9L493.9 251.0L494.4 251.2L495.0 251.4L495.5 251.6L496.1 251.8L496.6 252.1L497.2 252.3L497.7 252.6L498.3 252.9L498.9 253.2L499.4 253.5L500.0 253.9L500.5 254.2L501.1 254.5L501.6 254.8L502.2 255.1L502.7 255.4L503.3 255.7L503.8 256.0L504.4 256.3L504.9 256.5L505.5 256.8L506.0 257.0L506.6 257.2L507.1 257.4L507.7 257.6L508.2 257.8L508.8 258.0L509.3 258.2L509.9 258.4L510.5 258.6L511.0 258.8L511.6 259.0L512.1 259.2L512.7 259.4L513.2 259.6L513.8 259.8L514.3 260.0L514.9 260.2L515.4 260.3L516.0 260.5L516.5 260.7L517.1 260.8L517.6 261.0L518.2 261.1L518.7 261.2L519.3 261.4L519.8 261.5L520.4 261.6L520.9 261.7L521.5 261.8L522.1 261.9L522.6 262.0L523.2 262.0L523.7 262.1L524.3 262.2L524.8 262.3L525.4 262.4L525.9 262.5L526.5 262.6L527.0 262.7L527.6 262.7L528.1 262.8L528.7 262.9L529.2 263.0L529.8 263.1L530.3 263.1L530.9 263.2L531.4 263.3L532.0 263.3L532.5 263.4L533.1 263.4L533.6 263.5L534.2 263.5L534.8 263.6L535.3 263.6L535.9 263.7L536.4 263.7L537.0 263.7L537.5 263.7L538.1 263.8L538.6 263.8L539.2 263.8L539.7 263.8L540.3 263.8L540.8 263.8L541.4 263.8L541.9 263.8L542.5 263.7L543.0 263.7L543.6 263.7L544.1 263.7L544.7 263.6L545.2 263.6L545.8 263.5L546.4 263.5L546.9 263.4L547.5 263.4L548.0 263.3L548.6 263.3L549.1 263.2L549.7 263.1L550.2 263.1L550.8 263.0L551.3 262.9L551.9 262.8L552.4 262.7L553.0 262.7L553.5 262.6L554.1 262.5L554.6 262.4L555.2 262.3L555.7 262.2L556.3 262.1L556.8 262.0L557.4 262.0L557.9 261.9L558.5 261.8L559.1 261.7L559.6 261.6L560.2 261.5L560.7 261.4L561.3 261.2L561.8 261.1L562.4 261.0L562.9 260.8L563.5 260.7L564.0 260.5L564.6 260.3L565.1 260.2L565.7 260.0L566.2 259.8L566.8 259.6L567.3 259.4L567.9 259.2L568.4 259.0L569.0 258.8L569.5 258.6L570.1 258.4L570.7 258.2L571.2 258.0L571.8 257.8L572.3 257.6L572.9 257.4L573.4 257.2L574.0 257.0L574.5 256.8L575.1 256.5L575.6 256.3L576.2 256.0L576.7 255.7L577.3 255.4L577.8 255.1L578.4 254.8L578.9 254.5L579.5 254.2L580.0 253.9L580.6 253.5L581.1 253.2L581.7 252.9L582.3 252.6L582.8 252.3L583.4 252.1L583.9 251.8L584.5 251.6L585.0 251.4L585.6 251.2L586.1 251.0L586.7 250.9L587.2 250.7L587.8 250.7L588.3 250.6L588.9 250.6L589.4 250.6L590.0 250.7L590.5 250.9L591.1 251.1L591.6 251.4L592.2 251.7L592.7 252.1L593.3 252.5L593.8 252.9L594.4 253.6L595.0 255.0L595.5 257.0L596.1 259.6L596.6 262.4L597.2 265.3L597.7 268.9L598.3 272.9L598.8 276.8L599.4 280.7L599.9 284.8L600.5 289.0L601.0 293.5L601.6 298.6L602.1 304.8L602.7 311.7L603.2 318.7L603.8 325.7L604.3 333.3L604.9 342.0L605.4 352.4L606.0 362.0L606.6 371.6L607.1 380.2L607.7 386.5L608.2 391.8L608.8 394.9L609.3 393.8L609.9 389.3L610.4 383.7L611.0 376.1L611.5 366.9L612.1 357.3L612.6 347.1L613.2 337.4L613.7 329.4L614.3 322.2L614.8 315.2L615.4 308.2L615.9 301.6L616.5 295.9L617.0 291.2L617.6 286.9L618.2 282.7L618.7 278.8L619.3 274.9L619.8 270.9L620.4 267.0L620.9 263.8L621.5 261.0L622.0 258.3L622.6 255.9L623.1 254.2L623.7 253.2L624.2 252.7L624.8 252.3L625.3 251.9L625.9 251.5L626.4 251.2L627.0 251.0L627.5 250.8L628.1 250.7L628.6 250.6L629.2 250.6L629.7 250.6L630.3 250.7L630.9 250.8L631.4 250.9L632.0 251.1L632.5 251.3L633.1 251.5L633.6 251.7L634.2 251.9L634.7 252.2L635.3 252.5L635.8 252.8L636.4 253.1L636.9 253.4L637.5 253.7L638.0 254.0L638.6 254.3L639.1 254.7L639.7 255.0L640.2 255.3L640.8 255.6L641.3 255.9L641.9 256.1L642.5 256.4L643.0 256.6L643.6 256.9L644.1 257.1L644.7 257.3L645.2 257.5L645.8 257.7L646.3 257.9L646.9 258.1L647.4 258.3L648.0 258.5L648.5 258.7L649.1 258.9L649.6 259.1L650.2 259.3L650.7 259.5L651.3 259.7L651.8 259.9L652.4 260.1L652.9 260.2L653.5 260.4L654.1 260.6L654.6 260.7L655.2 260.9L655.7 261.0L656.3 261.2L656.8 261.3L657.4 261.4L657.9 261.5L658.5 261.6L659.0 261.7L659.6 261.8L660.1 261.9L660.7 262.0L661.2 262.1L661.8 262.2L662.3 262.3L662.9 262.4L663.4 262.5L664.0 262.5L664.5 262.6L665.1 262.7L665.6 262.8L666.2 262.9L666.8 262.9L667.3 263.0L667.9 263.1L668.4 263.2L669.0 263.2L669.5 263.3L670.1 263.3L670.6 263.4L671.2 263.5L671.7 263.5L672.3 263.6L672.8 263.6L673.4 263.6L673.9 263.7L674.5 263.7L675.0 263.7L675.6 263.8L676.1 263.8L676.7 263.8L677.2 263.8L677.8 263.8" fill="none" stroke="#dba9f1" stroke-opacity="1" stroke-width="2.10" stroke-linejoin="round" clip-path="url(#cc)"/>
<path d="M402.2 263.8L402.8 263.8L403.3 263.8L403.9 263.8L404.4 263.8L405.0 263.7L405.5 263.7L406.1 263.7L406.6 263.6L407.2 263.6L407.7 263.6L408.3 263.5L408.8 263.5L409.4 263.4L409.9 263.3L410.5 263.3L411.0 263.2L411.6 263.2L412.1 263.1L412.7 263.0L413.2 262.9L413.8 262.9L414.4 262.8L414.9 262.7L415.5 262.6L416.0 262.5L416.6 262.5L417.1 262.4L417.7 262.3L418.2 262.2L418.8 262.1L419.3 262.0L419.9 261.9L420.4 261.8L421.0 261.7L421.5 261.6L422.1 261.5L422.6 261.4L423.2 261.3L423.7 261.2L424.3 261.0L424.8 260.9L425.4 260.7L425.9 260.6L426.5 260.4L427.1 260.2L427.6 260.1L428.2 259.9L428.7 259.7L429.3 259.5L429.8 259.3L430.4 259.1L430.9 258.9L431.5 258.7L432.0 258.5L432.6 258.3L433.1 258.1L433.7 257.9L434.2 257.7L434.8 257.5L435.3 257.3L435.9 257.1L436.4 256.9L437.0 256.6L437.5 256.4L438.1 256.1L438.7 255.9L439.2 255.6L439.8 255.3L440.3 255.0L440.9 254.7L441.4 254.3L442.0 254.0L442.5 253.7L443.1 253.4L443.6 253.1L444.2 252.8L444.7 252.5L445.3 252.2L445.8 251.9L446.4 251.7L446.9 251.5L447.5 251.3L448.0 251.1L448.6 250.9L449.1 250.8L449.7 250.7L450.3 250.6L450.8 250.6L451.4 250.6L451.9 250.7L452.5 250.8L453.0 251.0L453.6 251.2L454.1 251.5L454.7 251.9L455.2 252.3L455.8 252.7L456.3 253.2L456.9 254.2L457.4 255.9L458.0 258.3L458.5 261.0L459.1 263.8L459.6 267.0L460.2 270.9L460.7 274.9L461.3 278.8L461.8 282.7L462.4 286.9L463.0 291.2L463.5 295.9L464.1 301.6L464.6 308.2L465.2 315.2L465.7 322.2L466.3 329.4L466.8 337.4L467.4 347.1L467.9 357.3L468.5 366.9L469.0 376.1L469.6 383.7L470.1 389.3L470.7 393.8L471.2 394.9L471.8 391.8L472.3 386.5L472.9 380.2L473.4 371.6L474.0 362.0L474.6 352.4L475.1 342.0L475.7 333.3L476.2 325.7L476.8 318.7L477.3 311.7L477.9 304.8L478.4 298.6L479.0 293.5L479.5 289.0L480.1 284.8L480.6 280.7L481.2 276.8L481.7 272.9L482.3 268.9L482.8 265.3L483.4 262.4L483.9 259.6L484.5 257.0L485.0 255.0L485.6 253.6L486.2 252.9L486.7 252.5L487.3 252.1L487.8 251.7L488.4 251.4L488.9 251.1L489.5 250.9L490.0 250.7L490.6 250.6L491.1 250.6L491.7 250.6L492.2 250.7L492.8 250.7L493.3 250.9L493.9 251.0L494.4 251.2L495.0 251.4L495.5 251.6L496.1 251.8L496.6 252.1L497.2 252.3L497.7 252.6L498.3 252.9L498.9 253.2L499.4 253.5L500.0 253.9L500.5 254.2L501.1 254.5L501.6 254.8L502.2 255.1L502.7 255.4L503.3 255.7L503.8 256.0L504.4 256.3L504.9 256.5L505.5 256.8L506.0 257.0L506.6 257.2L507.1 257.4L507.7 257.6L508.2 257.8L508.8 258.0L509.3 258.2L509.9 258.4L510.5 258.6L511.0 258.8L511.6 259.0L512.1 259.2L512.7 259.4L513.2 259.6L513.8 259.8L514.3 260.0L514.9 260.2L515.4 260.3L516.0 260.5L516.5 260.7L517.1 260.8L517.6 261.0L518.2 261.1L518.7 261.2L519.3 261.4L519.8 261.5L520.4 261.6L520.9 261.7L521.5 261.8L522.1 261.9L522.6 262.0L523.2 262.0L523.7 262.1L524.3 262.2L524.8 262.3L525.4 262.4L525.9 262.5L526.5 262.6L527.0 262.7L527.6 262.7L528.1 262.8L528.7 262.9L529.2 263.0L529.8 263.1L530.3 263.1L530.9 263.2L531.4 263.3L532.0 263.3L532.5 263.4L533.1 263.4L533.6 263.5L534.2 263.5L534.8 263.6L535.3 263.6L535.9 263.7L536.4 263.7L537.0 263.7L537.5 263.7L538.1 263.8L538.6 263.8L539.2 263.8L539.7 263.8L540.3 263.8L540.8 263.8L541.4 263.8L541.9 263.8L542.5 263.7L543.0 263.7L543.6 263.7L544.1 263.7L544.7 263.6L545.2 263.6L545.8 263.5L546.4 263.5L546.9 263.4L547.5 263.4L548.0 263.3L548.6 263.3L549.1 263.2L549.7 263.1L550.2 263.1L550.8 263.0L551.3 262.9L551.9 262.8L552.4 262.7L553.0 262.7L553.5 262.6L554.1 262.5L554.6 262.4L555.2 262.3L555.7 262.2L556.3 262.1L556.8 262.0L557.4 262.0L557.9 261.9L558.5 261.8L559.1 261.7L559.6 261.6L560.2 261.5L560.7 261.4L561.3 261.2L561.8 261.1L562.4 261.0L562.9 260.8L563.5 260.7L564.0 260.5L564.6 260.3L565.1 260.2L565.7 260.0L566.2 259.8L566.8 259.6L567.3 259.4L567.9 259.2L568.4 259.0L569.0 258.8L569.5 258.6L570.1 258.4L570.7 258.2L571.2 258.0L571.8 257.8L572.3 257.6L572.9 257.4L573.4 257.2L574.0 257.0L574.5 256.8L575.1 256.5L575.6 256.3L576.2 256.0L576.7 255.7L577.3 255.4L577.8 255.1L578.4 254.8L578.9 254.5L579.5 254.2L580.0 253.9L580.6 253.5L581.1 253.2L581.7 252.9L582.3 252.6L582.8 252.3L583.4 252.1L583.9 251.8L584.5 251.6L585.0 251.4L585.6 251.2L586.1 251.0L586.7 250.9L587.2 250.7L587.8 250.7L588.3 250.6L588.9 250.6L589.4 250.6L590.0 250.7L590.5 250.9L591.1 251.1L591.6 251.4L592.2 251.7L592.7 252.1L593.3 252.5L593.8 252.9L594.4 253.6L595.0 255.0L595.5 257.0L596.1 259.6L596.6 262.4L597.2 265.3L597.7 268.9L598.3 272.9L598.8 276.8L599.4 280.7L599.9 284.8L600.5 289.0L601.0 293.5L601.6 298.6L602.1 304.8L602.7 311.7L603.2 318.7L603.8 325.7L604.3 333.3L604.9 342.0L605.4 352.4L606.0 362.0L606.6 371.6L607.1 380.2L607.7 386.5L608.2 391.8L608.8 394.9L609.3 393.8L609.9 389.3L610.4 383.7L611.0 376.1L611.5 366.9L612.1 357.3L612.6 347.1L613.2 337.4L613.7 329.4L614.3 322.2L614.8 315.2L615.4 308.2L615.9 301.6L616.5 295.9L617.0 291.2L617.6 286.9L618.2 282.7L618.7 278.8L619.3 274.9L619.8 270.9L620.4 267.0L620.9 263.8L621.5 261.0L622.0 258.3L622.6 255.9L623.1 254.2L623.7 253.2L624.2 252.7L624.8 252.3L625.3 251.9L625.9 251.5L626.4 251.2L627.0 251.0L627.5 250.8L628.1 250.7L628.6 250.6L629.2 250.6L629.7 250.6L630.3 250.7L630.9 250.8L631.4 250.9L632.0 251.1L632.5 251.3L633.1 251.5L633.6 251.7L634.2 251.9L634.7 252.2L635.3 252.5L635.8 252.8L636.4 253.1L636.9 253.4L637.5 253.7L638.0 254.0L638.6 254.3L639.1 254.7L639.7 255.0L640.2 255.3L640.8 255.6L641.3 255.9L641.9 256.1L642.5 256.4L643.0 256.6L643.6 256.9L644.1 257.1L644.7 257.3L645.2 257.5L645.8 257.7L646.3 257.9L646.9 258.1L647.4 258.3L648.0 258.5L648.5 258.7L649.1 258.9L649.6 259.1L650.2 259.3L650.7 259.5L651.3 259.7L651.8 259.9L652.4 260.1L652.9 260.2L653.5 260.4L654.1 260.6L654.6 260.7L655.2 260.9L655.7 261.0L656.3 261.2L656.8 261.3L657.4 261.4L657.9 261.5L658.5 261.6L659.0 261.7L659.6 261.8L660.1 261.9L660.7 262.0L661.2 262.1L661.8 262.2L662.3 262.3L662.9 262.4L663.4 262.5L664.0 262.5L664.5 262.6L665.1 262.7L665.6 262.8L666.2 262.9L666.8 262.9L667.3 263.0L667.9 263.1L668.4 263.2L669.0 263.2L669.5 263.3L670.1 263.3L670.6 263.4L671.2 263.5L671.7 263.5L672.3 263.6L672.8 263.6L673.4 263.6L673.9 263.7L674.5 263.7L675.0 263.7L675.6 263.8L676.1 263.8L676.7 263.8L677.2 263.8L677.8 263.8" fill="none" stroke="#b040e0" stroke-width="1.20" stroke-linejoin="round" clip-path="url(#cc)"/>
<path d="M501.4 389.30H528.7" fill="none" stroke="#a6ecec" stroke-opacity="1" stroke-width="2.80" stroke-linejoin="round"/>
<path d="M501.4 389.30H528.7" fill="none" stroke="#3ad6d6" stroke-width="1.80" stroke-linejoin="round"/>
<text font-size="11.2" text-anchor="start" transform="translate(530.00 393.90) scale(0.92 1)">G=0.2 GHz</text>
<path d="M501.4 403.30H528.7" fill="none" stroke="#ffd1a7" stroke-opacity="1" stroke-width="2.80" stroke-linejoin="round"/>
<path d="M501.4 403.30H528.7" fill="none" stroke="#ff9a3c" stroke-width="1.80" stroke-linejoin="round"/>
<text font-size="11.2" text-anchor="start" transform="translate(530.00 407.90) scale(0.92 1)">G=0.4 GHz</text>
<path d="M501.4 416.70H528.7" fill="none" stroke="#dba9f1" stroke-opacity="1" stroke-width="2.80" stroke-linejoin="round"/>
<path d="M501.4 416.70H528.7" fill="none" stroke="#b040e0" stroke-width="1.80" stroke-linejoin="round"/>
<text font-size="11.2" text-anchor="start" transform="translate(530.00 421.30) scale(0.92 1)">G=0.6 GHz</text>
<text font-size="13" text-anchor="middle" transform="translate(402.20 442.20) scale(0.92 1)">0.0</text>
<text font-size="13" text-anchor="middle" transform="translate(471.10 442.20) scale(0.92 1)">0.5</text>
<text font-size="13" text-anchor="middle" transform="translate(540.00 442.20) scale(0.92 1)">1.0</text>
<text font-size="13" text-anchor="middle" transform="translate(608.90 442.20) scale(0.92 1)">1.5</text>
<text font-size="13" text-anchor="middle" transform="translate(677.80 442.20) scale(0.92 1)">2.0</text>
<text font-size="13" text-anchor="end" transform="translate(397.80 422.50) scale(0.92 1)">-30</text>
<text font-size="13" text-anchor="end" transform="translate(397.80 372.90) scale(0.92 1)">-20</text>
<text font-size="13" text-anchor="end" transform="translate(397.80 323.30) scale(0.92 1)">-10</text>
<text font-size="13" text-anchor="end" transform="translate(397.80 273.70) scale(0.92 1)">0</text>
<text font-size="17" text-anchor="start" transform="translate(404.80 423.80) scale(0.95 1)">(c)</text>
<g transform="translate(371.00 385.30) rotate(-90)">
<text font-size="21" x="0" y="0">n</text>
<text font-size="13" x="10.3" y="5.3">g</text>
<text font-size="21" x="23.5" y="0" transform="scale(1 1)">(arb. units)</text>
</g>
<text font-size="19.5" text-anchor="start" transform="translate(527.30 460.30) scale(1 1)">&#952;/&#960;</text>
</svg></body></html>
